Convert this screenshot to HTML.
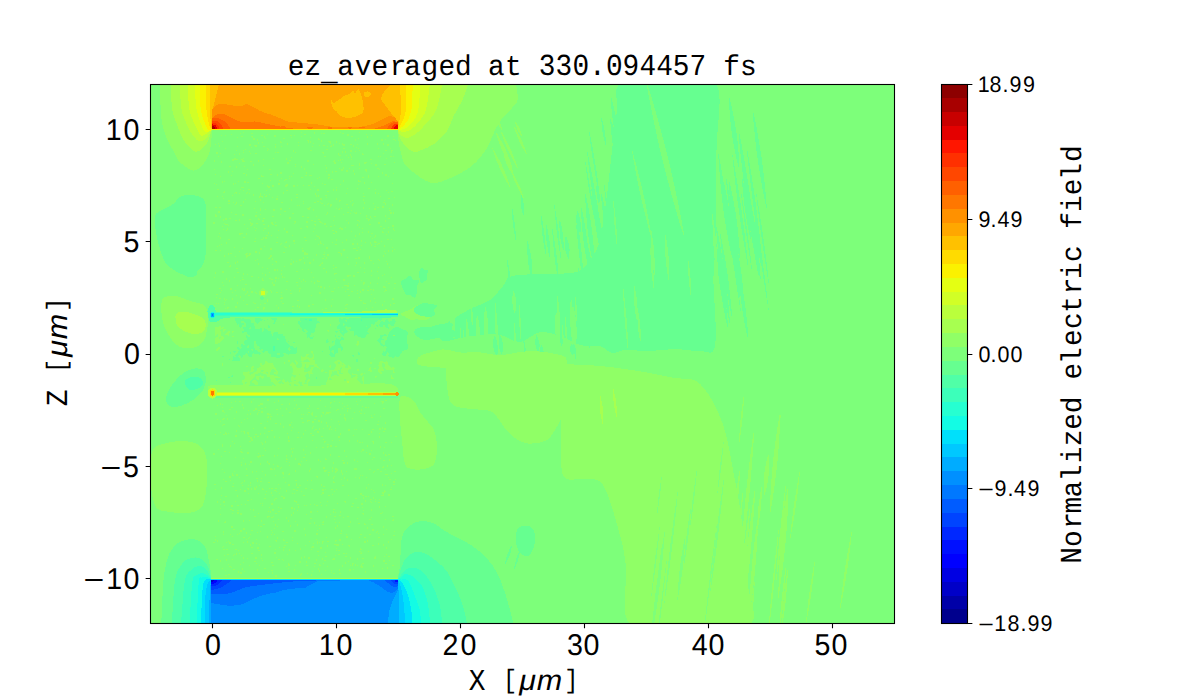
<!DOCTYPE html><html><head><meta charset="utf-8"><title>ez_averaged at 330.094457 fs</title><style>html,body{margin:0;padding:0;background:#fff;width:1200px;height:700px;overflow:hidden}svg{display:block}text{fill:#000;text-rendering:geometricPrecision}.s{font-family:"Liberation Sans",sans-serif}.m{font-family:"Liberation Mono",monospace}.i{font-family:"Liberation Sans",sans-serif;font-style:italic}</style></head><body><svg width="1200" height="700" viewBox="0 0 1200 700"><rect width="1200" height="700" fill="#fff"/><svg x="150" y="84" width="744" height="539" viewBox="0 0 744 539" overflow="hidden" shape-rendering="crispEdges"><rect width="744" height="539" fill="#7dff7a"/><path fill="#66ff90" d="M470.7 0C479.5 -4.3 504.1 0 520 0C535.9 0 558.2 -11 566 0C573.8 11 566.5 43.3 566.5 66C566.5 88.7 566.4 114.3 566 136C565.6 157.7 564.2 175 564 196C563.8 217 567.3 250.2 565 262C562.7 273.8 556.7 266.5 550 267C543.3 267.5 533.3 265 525 265C516.7 265 508.3 266.8 500 267C491.7 267.2 481.3 265.7 475 266C468.7 266.3 466.2 269.7 462 269C457.8 268.3 455.3 263.3 450 262C444.7 260.7 436.7 262.7 430 261C423.3 259.3 416.7 254.2 410 252C403.3 249.8 396.7 247 390 248C383.3 249 376.7 257.5 370 258C363.3 258.5 356.7 252.2 350 251C343.3 249.8 336.7 250.5 330 251C323.3 251.5 316.3 253 310 254C303.7 255 295.2 258.7 292 257C288.8 255.3 288.8 247.8 291 244C293.2 240.2 300.2 237.2 305 234C309.8 230.8 314.2 228 320 225C325.8 222 334.5 219.8 340 216C345.5 212.2 349.3 206 353 202C356.7 198 355 194 362 192C369 190 384.2 190.7 395 190C405.8 189.3 419.5 190.3 427 188C434.5 185.7 436.2 181.3 440 176C443.8 170.7 447.2 166.8 450 156C452.8 145.2 455 126 457 111C459 96 460.3 80.2 462 66C463.7 51.8 465.5 37 467 26C468.5 15 461.9 4.3 470.7 0Z"/><path fill="#66ff90" d="M266.6 203C266.1 204.9 267.1 206 266.8 207.8C266.6 209.6 266.2 213.3 265.1 213.8C264 214.3 261.5 211.3 260 210.8C258.5 210.4 257.2 211.5 256.3 210.8C255.3 210.2 255 208.3 254.3 207C253.6 205.7 252.5 204.7 252.1 203C251.6 201.3 250.8 198.4 251.4 197C252.1 195.6 254.6 195.5 256 194.6C257.4 193.7 258.8 191.2 260 191.4C261.2 191.7 261.8 195.1 263.3 195.9C264.9 196.7 269 195.1 269.5 196.3C270 197.5 267 201.1 266.6 203Z"/><path fill="#66ff90" d="M277.1 191C277 192.5 277.4 194 277 195.1C276.6 196.1 275.5 196.7 274.5 197.3C273.5 198 271.9 199.6 271.1 199.1C270.3 198.6 270.2 195.7 269.8 194.3C269.3 193 268.5 192.1 268.5 191C268.4 189.9 269 188.7 269.5 187.5C270 186.2 270.5 183.9 271.3 183.6C272.1 183.2 273.2 185 274.3 185.5C275.4 185.9 277.3 185.2 277.8 186.1C278.3 187 277.3 189.5 277.1 191Z"/><path fill="#7dff7a" d="M497 0C496 0.2 506.4 51.4 512.6 76.7C518.8 102 533 152.2 534 152C535 151.8 524.6 100.6 518.4 75.3C512.2 50 498 -0.2 497 0Z"/><path fill="#7dff7a" d="M482 66C481.5 66.1 487.2 96.3 490.5 111.3C493.9 126.3 501.5 156.1 502 156C502.5 155.9 496.8 125.7 493.5 110.7C490.1 95.7 482.5 65.9 482 66Z"/><path fill="#66ff90" d="M565.4 156C564.8 156.1 567.6 185.7 569.6 200.4C571.7 215.1 577.1 244.3 577.8 244.2C578.5 244.1 575.7 214.5 573.6 199.8C571.5 185.1 566.1 155.9 565.4 156Z"/><path fill="#66ff90" d="M606 107.7C605.7 107.7 609.6 139.5 611.8 155.4C614 171.2 619 202.9 619.3 202.8C619.6 202.8 615.8 171 613.5 155.1C611.3 139.3 606.3 107.7 606 107.7Z"/><path fill="#66ff90" d="M574.1 100C573.4 100.1 577.3 138.5 580 157.6C582.7 176.8 589.4 214.8 590.1 214.7C590.9 214.6 586.9 176.2 584.2 157C581.6 137.9 574.8 99.9 574.1 100Z"/><path fill="#66ff90" d="M579.1 13.2C578.4 13.3 580.2 37.4 581.8 49.4C583.5 61.3 588.4 85 589.2 84.9C590 84.8 588.2 60.7 586.5 48.7C584.8 36.8 579.9 13.1 579.1 13.2Z"/><path fill="#66ff90" d="M571.6 90.4C571.3 90.5 577.5 138 580.8 161.8C584.1 185.5 591.3 232.9 591.5 232.9C591.8 232.8 585.7 185.3 582.4 161.5C579 137.8 571.9 90.4 571.6 90.4Z"/><path fill="#66ff90" d="M589 190C588.5 190.1 590.4 212 591.9 222.9C593.4 233.8 597.6 255.4 598.2 255.4C598.7 255.3 596.8 233.3 595.3 222.5C593.8 211.6 589.6 189.9 589 190Z"/><path fill="#66ff90" d="M602.9 26.6C602.2 26.7 605.4 59.4 607.7 75.7C610 92 615.9 124.3 616.6 124.2C617.3 124.1 614.1 91.4 611.8 75.1C609.5 58.9 603.6 26.5 602.9 26.6Z"/><path fill="#66ff90" d="M592.1 93.6C591.6 93.6 593.4 114.6 594.9 125C596.3 135.5 600.3 156.2 600.9 156.1C601.4 156 599.5 135 598.1 124.6C596.6 114.2 592.6 93.5 592.1 93.6Z"/><path fill="#66ff90" d="M578.8 95.5C578 95.6 580.3 122.5 582.2 135.9C584.1 149.3 589.3 175.8 590 175.7C590.7 175.6 588.4 148.7 586.6 135.3C584.7 121.9 579.5 95.4 578.8 95.5Z"/><path fill="#66ff90" d="M596.6 62.8C596.2 62.9 600.2 97.3 602.6 114.5C605 131.6 610.6 165.8 611 165.8C611.4 165.7 607.4 131.3 605 114.1C602.6 97 597 62.7 596.6 62.8Z"/><path fill="#66ff90" d="M582.4 70.6C581.9 70.7 586.2 108.2 588.9 126.9C591.5 145.7 597.6 183 598.1 182.9C598.6 182.8 594.2 145.3 591.6 126.6C589 107.8 582.8 70.5 582.4 70.6Z"/><path fill="#66ff90" d="M582.7 143.9C581.9 144 584.3 172.7 586.3 186.9C588.3 201.1 593.8 229.4 594.6 229.3C595.4 229.2 592.9 200.5 591 186.3C589 172 583.4 143.8 582.7 143.9Z"/><path fill="#66ff90" d="M570.1 148.2C569.6 148.3 572.7 177.3 574.7 191.7C576.7 206.1 581.7 234.8 582.2 234.7C582.7 234.6 579.7 205.7 577.7 191.2C575.6 176.8 570.6 148.2 570.1 148.2Z"/><path fill="#66ff90" d="M590.5 104.6C590.3 104.6 593.8 133.2 595.8 147.5C597.8 161.8 602.3 190.3 602.5 190.2C602.8 190.2 599.3 161.6 597.3 147.3C595.3 133 590.8 104.5 590.5 104.6Z"/><path fill="#66ff90" d="M566.2 141.9C565.5 142 568.8 174.7 571 191C573.3 207.3 579.2 239.6 579.8 239.6C580.5 239.5 577.2 206.7 574.9 190.4C572.7 174.2 566.8 141.8 566.2 141.9Z"/><path fill="#66ff90" d="M605 136.6C604.6 136.6 605.9 152 606.9 159.7C608 167.3 611 182.5 611.4 182.4C611.8 182.4 610.6 167 609.5 159.3C608.4 151.7 605.4 136.5 605 136.6Z"/><path fill="#66ff90" d="M588.7 47C587.9 47.1 593.1 96.1 596.5 120.4C599.9 144.8 608.3 193.3 609.1 193.2C609.9 193.1 604.7 144.1 601.3 119.8C597.9 95.4 589.5 46.9 588.7 47Z"/><path fill="#66ff90" d="M600.2 94.5C599.9 94.5 605.4 138.8 608.5 160.9C611.6 183 618.4 227.1 618.7 227C619.1 227 613.5 182.7 610.4 160.6C607.3 138.5 600.5 94.4 600.2 94.5Z"/><path fill="#66ff90" d="M575.9 92.6C575.4 92.7 580 133.4 582.8 153.6C585.7 173.9 592.4 214.3 592.9 214.2C593.4 214.1 588.8 173.4 586 153.2C583.2 132.9 576.4 92.5 575.9 92.6Z"/><path fill="#66ff90" d="M568.2 68.7C567.7 68.8 570.4 94.1 572.2 106.7C574 119.3 578.3 144.5 578.8 144.4C579.2 144.3 576.5 119 574.7 106.4C573 93.8 568.6 68.6 568.2 68.7Z"/><path fill="#66ff90" d="M569.4 83C568.8 83.1 571.5 113 573.6 127.9C575.7 142.8 581.3 172.4 581.9 172.3C582.6 172.2 579.9 142.2 577.8 127.3C575.7 112.5 570.1 82.9 569.4 83Z"/><path fill="#66ff90" d="M597.8 104.5C597.1 104.6 600 135 602.1 150.1C604.2 165.2 609.8 195.2 610.5 195.1C611.2 195 608.4 164.6 606.3 149.5C604.2 134.4 598.5 104.4 597.8 104.5Z"/><path fill="#66ff90" d="M461.6 120.7C460.9 120.8 463.8 148.1 466 161.6C468.1 175.1 473.9 201.9 474.6 201.8C475.3 201.7 472.4 174.4 470.2 160.9C468.1 147.4 462.3 120.6 461.6 120.7Z"/><path fill="#66ff90" d="M436.2 154.9C435.7 154.9 437.1 169.9 438.3 177.3C439.5 184.7 442.8 199.3 443.3 199.2C443.8 199.1 442.4 184.2 441.2 176.8C440 169.4 436.7 154.8 436.2 154.9Z"/><path fill="#66ff90" d="M458.9 127.9C458.3 128 459.1 140 460 145.9C461 151.7 464 163.3 464.6 163.2C465.1 163.1 464.4 151.2 463.4 145.3C462.5 139.4 459.5 127.8 458.9 127.9Z"/><path fill="#66ff90" d="M437.1 66.7C436.6 66.8 440.1 94.2 442.3 107.9C444.4 121.5 449.7 148.7 450.2 148.6C450.6 148.5 447.2 121.1 445 107.4C442.8 93.8 437.5 66.6 437.1 66.7Z"/><path fill="#66ff90" d="M453 129.8C452.4 129.9 455.5 157.6 457.7 171.3C459.9 185.1 465.6 212.4 466.2 212.3C466.8 212.2 463.7 184.5 461.5 170.7C459.3 157 453.6 129.7 453 129.8Z"/><path fill="#66ff90" d="M435.2 77.4C434.9 77.5 437.5 96.7 439 106.3C440.5 115.9 444.1 134.9 444.4 134.9C444.7 134.8 442.2 115.6 440.6 106C439.1 96.5 435.5 77.4 435.2 77.4Z"/><path fill="#66ff90" d="M451.2 109.3C450.5 109.4 453.5 137.3 455.7 151.2C458 165 463.8 192.4 464.5 192.3C465.2 192.2 462.2 164.3 460 150.5C457.8 136.6 452 109.2 451.2 109.3Z"/><path fill="#66ff90" d="M438.8 45.2C438.5 45.2 441.7 69 443.6 80.9C445.5 92.8 449.9 116.4 450.2 116.3C450.5 116.3 447.4 92.5 445.5 80.6C443.6 68.7 439.2 45.1 438.8 45.2Z"/><path fill="#66ff90" d="M441.7 103.7C441.1 103.8 441.8 116.3 442.8 122.5C443.8 128.6 447 140.7 447.6 140.6C448.3 140.5 447.6 128 446.6 121.9C445.6 115.7 442.4 103.6 441.7 103.7Z"/><path fill="#66ff90" d="M460.7 11.7C460.1 11.8 462.1 32.8 463.8 43.2C465.4 53.6 470 74.1 470.7 74C471.3 73.9 469.3 52.9 467.6 42.6C466 32.2 461.3 11.6 460.7 11.7Z"/><path fill="#66ff90" d="M464.3 52.6C463.6 52.7 464.2 65.2 465.2 71.4C466.1 77.5 469.5 89.6 470.1 89.5C470.8 89.4 470.2 76.9 469.2 70.7C468.3 64.6 464.9 52.5 464.3 52.6Z"/><path fill="#66ff90" d="M462.3 39.6C461.7 39.7 463.5 58.5 464.9 67.8C466.4 77.1 470.6 95.6 471.2 95.5C471.8 95.4 470 76.6 468.6 67.2C467.1 57.9 462.9 39.5 462.3 39.6Z"/><path fill="#66ff90" d="M460.4 34.6C459.7 34.7 462.2 58.8 464.1 70.7C466.1 82.6 471.2 106.3 471.8 106.2C472.5 106.1 469.9 82 468 70.1C466.1 58.1 461 34.5 460.4 34.6Z"/><path fill="#66ff90" d="M451.5 34C451.1 34.1 451.8 43.3 452.5 47.9C453.3 52.5 455.5 61.6 455.9 61.5C456.3 61.4 455.6 52.1 454.8 47.6C454.1 43 451.9 33.9 451.5 34Z"/><path fill="#66ff90" d="M446.8 100.3C446.4 100.3 446.3 107.2 446.7 110.7C447.1 114.1 448.8 120.8 449.2 120.7C449.7 120.7 449.7 113.8 449.3 110.3C448.9 106.9 447.2 100.2 446.8 100.3Z"/><path fill="#66ff90" d="M371.1 110.2C370.6 110.3 370.4 117.5 370.8 121.1C371.3 124.6 373.1 131.7 373.6 131.6C374.1 131.5 374.3 124.3 373.9 120.7C373.4 117.1 371.6 110.1 371.1 110.2Z"/><path fill="#66ff90" d="M438.6 136.6C438.1 136.6 438.4 146.1 439 150.8C439.6 155.4 441.5 164.7 441.9 164.6C442.3 164.6 442 155.1 441.5 150.5C440.9 145.8 439 136.5 438.6 136.6Z"/><path fill="#66ff90" d="M430.2 185.4C429.8 185.4 432.3 212 433.8 225.3C435.4 238.5 439.4 265 439.7 264.9C440.1 264.9 437.6 238.3 436.1 225C434.5 211.7 430.5 185.3 430.2 185.4Z"/><path fill="#66ff90" d="M357.2 174.9C356.7 175 358.8 200.3 360.3 212.9C361.8 225.5 365.8 250.6 366.3 250.5C366.7 250.5 364.7 225.1 363.1 212.5C361.6 199.9 357.7 174.9 357.2 174.9Z"/><path fill="#66ff90" d="M444.1 178.3C443.5 178.4 444.4 197.4 445.5 206.8C446.6 216.3 450.2 234.9 450.9 234.9C451.6 234.8 450.7 215.8 449.6 206.3C448.4 196.9 444.8 178.2 444.1 178.3Z"/><path fill="#66ff90" d="M361.7 121.8C361.4 121.8 362.2 134.1 363 140.2C363.7 146.3 365.8 158.5 366.1 158.4C366.4 158.4 365.6 146.1 364.8 140C364.1 133.9 362 121.8 361.7 121.8Z"/><path fill="#66ff90" d="M454 98.9C453.7 98.9 455.6 119.1 456.8 129.2C458 139.2 461 159.3 461.2 159.2C461.5 159.2 459.7 139 458.5 129C457.3 118.9 454.3 98.9 454 98.9Z"/><path fill="#66ff90" d="M409.7 135.7C409.2 135.8 409.4 146.2 410 151.3C410.6 156.5 412.9 166.7 413.4 166.6C413.9 166.5 413.7 156.1 413 151C412.4 145.8 410.2 135.7 409.7 135.7Z"/><path fill="#66ff90" d="M425.6 126.1C425.3 126.2 427.2 147.6 428.4 158.3C429.7 169.1 433 190.4 433.3 190.3C433.6 190.3 431.7 168.8 430.4 158.1C429.1 147.4 425.9 126.1 425.6 126.1Z"/><path fill="#66ff90" d="M390.9 129.7C390.6 129.7 391.6 144 392.4 151.2C393.3 158.3 395.7 172.4 396.1 172.4C396.4 172.3 395.4 158 394.5 150.9C393.7 143.8 391.3 129.6 390.9 129.7Z"/><path fill="#66ff90" d="M454.5 174.7C454.1 174.7 454.3 183.6 454.8 188C455.4 192.4 457.3 201.1 457.7 201.1C458.1 201 458 192.1 457.4 187.7C456.9 183.3 455 174.6 454.5 174.7Z"/><path fill="#66ff90" d="M395.9 138.9C395.4 138.9 395.8 151.2 396.6 157.3C397.3 163.4 399.8 175.5 400.2 175.4C400.7 175.4 400.3 163.1 399.5 157C398.8 150.9 396.4 138.8 395.9 138.9Z"/><path fill="#66ff90" d="M454.8 132.3C454.3 132.4 455.5 152.2 456.7 162C457.9 171.9 461.3 191.4 461.9 191.3C462.4 191.3 461.2 171.5 460 161.6C458.8 151.8 455.4 132.3 454.8 132.3Z"/><path fill="#66ff90" d="M442.7 101.9C442 101.9 443.1 123.7 444.4 134.5C445.7 145.2 449.8 166.6 450.5 166.5C451.2 166.5 450 144.7 448.7 133.9C447.4 123.2 443.4 101.8 442.7 101.9Z"/><path fill="#66ff90" d="M431.3 123.3C430.6 123.4 431.9 143.7 433.1 153.7C434.3 163.8 437.9 183.7 438.5 183.7C439.1 183.6 437.9 163.3 436.7 153.3C435.5 143.2 431.9 123.2 431.3 123.3Z"/><path fill="#66ff90" d="M435.5 110C434.7 110 436.4 136.4 438 149.4C439.6 162.5 444.1 188.5 444.9 188.4C445.6 188.3 443.9 162 442.3 148.9C440.8 135.8 436.2 109.9 435.5 110Z"/><path fill="#66ff90" d="M415.8 152.4C415.1 152.5 414.5 160.1 414.9 163.9C415.4 167.6 417.7 174.9 418.5 174.8C419.2 174.7 419.8 167 419.4 163.3C418.9 159.6 416.5 152.3 415.8 152.4Z"/><path fill="#66ff90" d="M447.6 156.5C447.2 156.5 449.2 178.5 450.5 189.4C451.8 200.4 455.1 222.2 455.4 222.1C455.8 222.1 453.8 200.1 452.5 189.2C451.2 178.2 447.9 156.4 447.6 156.5Z"/><path fill="#66ff90" d="M404.2 119.4C403.9 119.4 405.6 138.1 406.7 147.4C407.8 156.7 410.6 175.2 410.9 175.2C411.2 175.1 409.6 156.5 408.5 147.2C407.3 137.9 404.5 119.4 404.2 119.4Z"/><path fill="#66ff90" d="M453 139.9C452.7 140 453.9 155.6 454.9 163.4C455.8 171.2 458.3 186.6 458.6 186.6C458.9 186.6 457.6 170.9 456.7 163.2C455.7 155.4 453.3 139.9 453 139.9Z"/><path fill="#66ff90" d="M437.7 173.6C437.3 173.6 438.9 193 440 202.6C441.2 212.3 444.2 231.4 444.6 231.4C445 231.3 443.4 212 442.2 202.4C441.1 192.7 438 173.6 437.7 173.6Z"/><path fill="#66ff90" d="M445.2 109.8C444.6 109.9 446.3 133.2 447.7 144.9C449.1 156.5 453 179.5 453.5 179.5C454.1 179.4 452.3 156.1 450.9 144.5C449.6 132.9 445.7 109.8 445.2 109.8Z"/><path fill="#66ff90" d="M402.3 144.8C401.9 144.8 403.5 164.1 404.6 173.8C405.8 183.4 408.8 202.5 409.2 202.5C409.6 202.4 408 183.1 406.9 173.5C405.7 163.9 402.6 144.7 402.3 144.8Z"/><path fill="#66ff90" d="M449.6 136C448.9 136.1 450.5 160.8 452 173C453.5 185.3 457.7 209.6 458.4 209.6C459 209.5 457.4 184.8 456 172.6C454.5 160.3 450.2 135.9 449.6 136Z"/><path fill="#66ff90" d="M377.5 157.4C376.9 157.5 377.2 170.5 378 176.9C378.7 183.4 381.5 196.1 382.2 196C382.8 195.9 382.5 182.9 381.7 176.5C380.9 170 378.1 157.3 377.5 157.4Z"/><path fill="#66ff90" d="M426.2 139.5C425.9 139.5 428.3 164.1 429.8 176.4C431.3 188.7 434.8 213.2 435.1 213.2C435.3 213.2 433 188.5 431.5 176.2C430 163.9 426.5 139.4 426.2 139.5Z"/><path fill="#66ff90" d="M427.5 127.2C426.8 127.2 426.5 134.7 426.9 138.4C427.4 142.1 429.5 149.3 430.1 149.3C430.7 149.2 431.1 141.7 430.6 138C430.2 134.3 428.1 127.1 427.5 127.2Z"/><path fill="#66ff90" d="M427.8 180.9C427.4 181 428.8 199.7 429.9 209C431 218.4 434.1 236.9 434.5 236.8C434.9 236.8 433.5 218.1 432.4 208.7C431.3 199.4 428.2 180.9 427.8 180.9Z"/><path fill="#66ff90" d="M459 107C458.4 107.1 458.1 114.9 458.6 118.8C459 122.7 461.2 130.2 461.8 130.1C462.4 130.1 462.7 122.2 462.2 118.4C461.8 114.5 459.6 106.9 459 107Z"/><path fill="#7dff7a" d="M345.1 217.3C344.7 217.3 344.7 234 345.1 242.4C345.5 250.7 347.2 267.3 347.6 267.3C348 267.3 348 250.6 347.6 242.2C347.1 233.9 345.5 217.2 345.1 217.3Z"/><path fill="#7dff7a" d="M415 230C414.7 230 414.6 239.4 414.9 244.1C415.1 248.8 416.1 258.2 416.4 258.1C416.7 258.1 416.8 248.7 416.6 244C416.3 239.3 415.3 230 415 230Z"/><path fill="#7dff7a" d="M328.1 244.6C327.8 244.6 327.6 255 327.9 260.2C328.1 265.4 329.3 275.8 329.7 275.8C330 275.8 330.1 265.3 329.9 260.1C329.6 254.9 328.4 244.6 328.1 244.6Z"/><path fill="#7dff7a" d="M335.2 241.5C334.6 241.5 333.7 248.8 333.9 252.4C334 256 335.7 263.1 336.3 263.1C336.9 263 337.9 255.8 337.7 252.2C337.5 248.6 335.9 241.4 335.2 241.5Z"/><path fill="#7dff7a" d="M313.2 244.3C312.9 244.3 313 256.4 313.3 262.4C313.6 268.4 314.7 280.5 315 280.5C315.3 280.5 315.2 268.4 314.9 262.3C314.6 256.3 313.5 244.2 313.2 244.3Z"/><path fill="#7dff7a" d="M420.7 217.1C420.2 217.1 419.9 231.9 420.3 239.3C420.6 246.7 422.4 261.4 422.9 261.4C423.4 261.4 423.7 246.5 423.3 239.2C423 231.8 421.2 217.1 420.7 217.1Z"/><path fill="#7dff7a" d="M307.5 205.8C307.2 205.8 306.9 212.8 307 216.3C307.2 219.8 308.2 226.8 308.5 226.7C308.9 226.7 309.2 219.7 309 216.2C308.8 212.7 307.8 205.8 307.5 205.8Z"/><path fill="#7dff7a" d="M302.1 203.1C301.8 203.1 302.1 220.8 302.6 229.6C303 238.5 304.5 256.1 304.8 256.1C305.1 256 304.8 238.4 304.3 229.5C303.9 220.7 302.4 203.1 302.1 203.1Z"/><path fill="#7dff7a" d="M363.6 206.3C363 206.4 362.1 214.3 362.3 218.2C362.5 222.2 364.2 230 364.8 229.9C365.4 229.9 366.3 222 366.1 218C365.9 214.1 364.3 206.3 363.6 206.3Z"/><path fill="#7dff7a" d="M421.6 222.1C420.9 222.2 419.7 227.3 419.8 229.9C419.9 232.4 421.7 237.4 422.4 237.4C423.2 237.3 424.4 232.2 424.3 229.6C424.1 227.1 422.4 222.1 421.6 222.1Z"/><path fill="#7dff7a" d="M301.4 218.5C300.8 218.6 300 230.8 300.3 236.9C300.6 243 302.6 255.1 303.3 255.1C304 255.1 304.8 242.8 304.4 236.7C304.1 230.6 302.1 218.5 301.4 218.5Z"/><path fill="#7dff7a" d="M406.1 228.4C405.5 228.5 404.6 238.8 404.9 244C405.2 249.2 407 259.4 407.7 259.4C408.3 259.3 409.2 249 408.9 243.8C408.6 238.6 406.8 228.4 406.1 228.4Z"/><path fill="#7dff7a" d="M412.3 240.2C412 240.3 412.2 254.8 412.5 262.1C412.9 269.4 414.2 284 414.5 283.9C414.8 283.9 414.7 269.3 414.3 262C413.9 254.8 412.6 240.2 412.3 240.2Z"/><path fill="#7dff7a" d="M335.3 222.9C334.6 222.9 333.9 234.7 334.2 240.6C334.5 246.4 336.4 258.1 337.1 258.1C337.7 258 338.5 246.2 338.2 240.4C337.9 234.5 336 222.8 335.3 222.9Z"/><path fill="#7dff7a" d="M327.1 230.9C326.5 230.9 325.7 241 325.9 246C326.2 251 328 260.9 328.6 260.9C329.2 260.8 330 250.8 329.8 245.8C329.5 240.8 327.7 230.9 327.1 230.9Z"/><path fill="#7dff7a" d="M321.4 222.4C321.1 222.5 320.7 228.9 320.8 232.1C321 235.3 322 241.6 322.4 241.6C322.7 241.6 323.1 235.2 323 232C322.8 228.8 321.8 222.4 321.4 222.4Z"/><path fill="#7dff7a" d="M421.2 215.2C420.7 215.2 420.6 232.2 421 240.7C421.4 249.1 423.3 266 423.8 265.9C424.3 265.9 424.5 249 424.1 240.5C423.6 232.1 421.8 215.2 421.2 215.2Z"/><path fill="#7dff7a" d="M300.3 236.7C299.6 236.7 298.6 242.5 298.7 245.3C298.9 248.2 300.5 253.8 301.1 253.8C301.8 253.7 302.8 248 302.7 245.1C302.5 242.3 300.9 236.7 300.3 236.7Z"/><path fill="#7dff7a" d="M296.2 231.3C295.8 231.4 295.3 238.6 295.5 242.2C295.6 245.8 296.8 253 297.3 253C297.7 252.9 298.2 245.7 298 242.1C297.8 238.5 296.6 231.3 296.2 231.3Z"/><path fill="#7dff7a" d="M423.6 222.9C423 222.9 422.5 236.7 422.8 243.6C423.1 250.5 425.1 264.2 425.7 264.2C426.3 264.1 426.9 250.3 426.5 243.4C426.2 236.6 424.2 222.8 423.6 222.9Z"/><path fill="#7dff7a" d="M309.8 238.7C309.5 238.8 309.7 256 310.1 264.6C310.6 273.2 312.1 290.3 312.4 290.3C312.7 290.3 312.5 273.1 312.1 264.5C311.7 255.9 310.2 238.7 309.8 238.7Z"/><path fill="#7dff7a" d="M368.7 213.8C368.5 213.8 368.7 228.7 369.1 236.1C369.4 243.5 370.7 258.4 371 258.4C371.2 258.4 371 243.5 370.6 236C370.3 228.6 369 213.7 368.7 213.8Z"/><path fill="#7dff7a" d="M364.2 236.7C363.9 236.7 364 251.5 364.4 258.9C364.8 266.3 366.1 281.1 366.4 281.1C366.7 281.1 366.6 266.2 366.2 258.8C365.8 251.4 364.5 236.7 364.2 236.7Z"/><path fill="#7dff7a" d="M407.4 211.7C406.9 211.7 406.7 227.5 407.1 235.4C407.5 243.3 409.3 259 409.8 259C410.3 259 410.5 243.2 410.1 235.3C409.7 227.4 407.9 211.7 407.4 211.7Z"/><path fill="#7dff7a" d="M316.7 234C316.1 234.1 315.7 249.9 316.1 257.8C316.5 265.7 318.5 281.4 319.1 281.3C319.7 281.3 320.1 265.5 319.7 257.6C319.3 249.7 317.3 234 316.7 234Z"/><path fill="#7dff7a" d="M425.3 212.5C424.9 212.5 424.7 220.7 424.9 224.8C425.1 228.9 426.2 237 426.5 237C426.8 236.9 427 228.8 426.8 224.7C426.6 220.6 425.6 212.5 425.3 212.5Z"/><path fill="#7dff7a" d="M500.5 163.9C500.2 164 500.6 177.8 501.1 184.7C501.7 191.6 503.5 205.4 503.8 205.3C504.2 205.3 503.8 191.4 503.2 184.5C502.7 177.6 500.9 163.9 500.5 163.9Z"/><path fill="#7dff7a" d="M463.4 116.5C463.1 116.5 463.9 132.7 464.5 140.7C465.1 148.8 467 164.8 467.3 164.8C467.6 164.8 466.9 148.6 466.2 140.6C465.6 132.5 463.7 116.5 463.4 116.5Z"/><path fill="#7dff7a" d="M488 227.5C487.6 227.5 487.6 237.8 488 242.9C488.4 248.1 490 258.2 490.4 258.2C490.8 258.2 490.8 247.9 490.4 242.7C490 237.6 488.4 227.4 488 227.5Z"/><path fill="#7dff7a" d="M515.2 149.8C514.7 149.8 514.9 166 515.6 174C516.2 182 518.6 198.1 519.1 198C519.6 198 519.4 181.8 518.7 173.8C518.1 165.7 515.7 149.7 515.2 149.8Z"/><path fill="#7dff7a" d="M472.9 201.5C472.6 201.5 473.9 225 474.8 236.8C475.7 248.5 478.3 271.9 478.6 271.9C478.9 271.9 477.7 248.3 476.7 236.6C475.8 224.9 473.3 201.5 472.9 201.5Z"/><path fill="#7dff7a" d="M563.6 191.1C563.2 191.1 563.6 207.9 564.3 216.2C564.9 224.6 567.2 241.2 567.6 241.2C568 241.1 567.6 224.4 566.9 216C566.2 207.7 564 191.1 563.6 191.1Z"/><path fill="#7dff7a" d="M484.3 201.5C483.8 201.5 483.8 213.8 484.3 219.8C484.8 225.9 486.7 238 487.3 238C487.8 237.9 487.8 225.7 487.3 219.6C486.8 213.5 484.8 201.4 484.3 201.5Z"/><path fill="#7dff7a" d="M500.9 145C500.4 145 500.6 160.5 501.2 168.2C501.9 175.9 504.1 191.3 504.6 191.2C505.1 191.2 504.8 175.7 504.2 168C503.6 160.3 501.4 145 500.9 145Z"/><path fill="#7dff7a" d="M538 174.1C537.7 174.2 538.1 187.9 538.7 194.8C539.2 201.6 541 215.3 541.3 215.2C541.6 215.2 541.2 201.5 540.6 194.6C540.1 187.8 538.3 174.1 538 174.1Z"/><path fill="#7dff7a" d="M562.4 129.5C561.9 129.5 562.9 154 563.8 166.3C564.8 178.5 567.8 202.8 568.2 202.8C568.7 202.8 567.7 178.2 566.8 166C565.8 153.8 562.9 129.4 562.4 129.5Z"/><path fill="#66ff90" d="M344.7 251.2C344 251.3 343.5 258.6 343.8 262.1C344.2 265.7 346.2 272.7 346.8 272.6C347.5 272.6 348.1 265.3 347.7 261.7C347.3 258.2 345.3 251.2 344.7 251.2Z"/><path fill="#66ff90" d="M424.5 260.9C424.2 260.9 424 266.2 424.3 268.8C424.6 271.4 425.8 276.5 426.1 276.5C426.5 276.5 426.6 271.2 426.4 268.6C426.1 266 424.9 260.8 424.5 260.9Z"/><path fill="#66ff90" d="M373.6 254.4C373.3 254.4 373.5 262.2 373.9 266C374.3 269.9 375.7 277.5 376 277.5C376.3 277.5 376.1 269.7 375.7 265.8C375.3 262 374 254.3 373.6 254.4Z"/><path fill="#66ff90" d="M391.1 259.8C390.4 259.9 389.9 269.5 390.4 274.2C390.8 278.9 393.2 288.2 393.9 288.1C394.6 288.1 395.1 278.5 394.7 273.8C394.2 269 391.8 259.7 391.1 259.8Z"/><path fill="#66ff90" d="M421.5 260.4C420.8 260.5 419.7 264.3 419.9 266.1C420.1 267.9 421.9 271.5 422.6 271.4C423.3 271.3 424.3 267.5 424.1 265.7C423.9 263.9 422.2 260.3 421.5 260.4Z"/><path fill="#66ff90" d="M349.8 250.8C349.1 250.9 348.3 257.4 348.6 260.6C348.9 263.8 351 270.1 351.8 270C352.5 269.9 353.3 263.4 353 260.2C352.6 257 350.6 250.7 349.8 250.8Z"/><path fill="#66ff90" d="M386.6 251.3C385.9 251.4 385 257.3 385.3 260.2C385.6 263.2 387.6 268.8 388.3 268.8C389 268.7 389.8 262.7 389.5 259.8C389.2 256.9 387.3 251.2 386.6 251.3Z"/><path fill="#66ff90" d="M410.5 248.1C410 248.1 409.7 253.2 409.9 255.7C410.2 258.2 411.5 263.1 412 263C412.4 263 412.8 257.9 412.5 255.4C412.3 252.9 410.9 248 410.5 248.1Z"/><path fill="#66ff90" d="M343.8 254.5C343.3 254.5 342.7 259.4 343 261.8C343.2 264.3 344.8 269 345.3 268.9C345.8 268.9 346.4 263.9 346.2 261.5C345.9 259.1 344.4 254.4 343.8 254.5Z"/><path fill="#66ff90" d="M423 258.7C422.6 258.8 422.3 262.8 422.5 264.8C422.7 266.8 423.8 270.8 424.2 270.7C424.5 270.7 424.8 266.6 424.6 264.6C424.4 262.6 423.3 258.7 423 258.7Z"/><path fill="#90ff66" d="M298 278C301.8 272.5 311.3 269.2 320 268C328.7 266.8 340 271.2 350 271C360 270.8 370 267 380 267C390 267 403.8 269.2 410 271C416.2 272.8 416 273 417 278C418 283 416.5 293 416 301C415.5 309 415.8 318.5 414 326C412.2 333.5 408.2 340.8 405 346C401.8 351.2 400 354.8 395 357C390 359.2 381.2 360.5 375 359C368.8 357.5 363.5 353.2 358 348C352.5 342.8 348.3 331.8 342 328C335.7 324.2 326.7 326.3 320 325C313.3 323.7 305.8 324 302 320C298.2 316 297.7 308 297 301C296.3 294 294.2 283.5 298 278Z"/><path fill="#90ff66" d="M412 284C415.2 277.3 423.7 281.3 430 281C436.3 280.7 442.5 281.3 450 282C457.5 282.7 466.7 283.8 475 285C483.3 286.2 491.7 287.5 500 289C508.3 290.5 517.3 292.7 525 294C532.7 295.3 539.8 293.3 546 297C552.2 300.7 557.2 307.7 562 316C566.8 324.3 571.5 335.3 575 347C578.5 358.7 580.5 373.2 583 386C585.5 398.8 588 411.2 590 424C592 436.8 593.7 450 595 463C596.3 476 597.2 489.2 598 502C598.8 514.8 609.7 533.7 600 540C590.3 546.3 560 540 540 540C520 540 490.7 549.7 480 540C469.3 530.3 478 498 476 482C474 466 471.8 457.5 468 444C464.2 430.5 458.5 409.2 453 401C447.5 392.8 441.5 396.3 435 395C428.5 393.7 418 398.7 414 393C410 387.3 411.5 373 411 361C410.5 349 410.8 333.8 411 321C411.2 308.2 408.8 290.7 412 284Z"/><path fill="#90ff66" d="M607.7 435.2C607.3 435.2 604 461.3 602.6 474.4C601.3 487.6 599.5 513.8 599.8 513.9C600.2 513.9 603.6 487.8 604.9 474.7C606.2 461.6 608.1 435.3 607.7 435.2Z"/><path fill="#90ff66" d="M604 346.8C603.4 346.7 598 388.7 595.9 409.7C593.8 430.7 590.7 472.9 591.3 473C591.9 473 597.3 431.1 599.4 410.1C601.5 389 604.6 346.9 604 346.8Z"/><path fill="#90ff66" d="M607.6 446.1C607.1 446 603 476.6 601.5 491.9C599.9 507.2 597.9 538 598.4 538.1C598.9 538.1 603 507.6 604.5 492.2C606.1 476.9 608.1 446.1 607.6 446.1Z"/><path fill="#90ff66" d="M605.2 403.6C604.6 403.6 598.7 449.6 596.4 472.7C594.1 495.8 590.7 542.1 591.3 542.2C592 542.3 597.9 496.2 600.2 473.1C602.5 450 605.8 403.7 605.2 403.6Z"/><path fill="#90ff66" d="M630.5 330.9C630.1 330.8 626.2 360.9 624.7 376C623.2 391 621 421.3 621.5 421.3C621.9 421.3 625.8 391.3 627.3 376.2C628.8 361.1 631 330.9 630.5 330.9Z"/><path fill="#90ff66" d="M589.9 385.1C589.5 385 587.2 400.8 586.4 408.7C585.6 416.6 584.8 432.4 585.1 432.5C585.5 432.5 587.8 416.8 588.6 408.9C589.4 401 590.3 385.1 589.9 385.1Z"/><path fill="#90ff66" d="M628.9 443.2C628.6 443.2 624.4 479.8 622.6 498.1C620.7 516.4 617.7 553.1 617.9 553.1C618.2 553.1 622.5 516.6 624.3 498.3C626.1 479.9 629.2 443.3 628.9 443.2Z"/><path fill="#90ff66" d="M594 310.3C593.7 310.3 591.5 326.8 590.6 335.1C589.8 343.4 588.7 360 589 360.1C589.3 360.1 591.6 343.6 592.4 335.3C593.3 327 594.3 310.3 594 310.3Z"/><path fill="#90ff66" d="M637.8 484.8C637.4 484.8 634.7 504.8 633.7 514.9C632.7 525 631.4 545.2 631.8 545.2C632.1 545.3 634.9 525.2 635.9 515.1C636.9 505 638.2 484.8 637.8 484.8Z"/><path fill="#90ff66" d="M637.8 420C637.4 420 633.8 445.5 632.6 458.3C631.3 471.1 629.7 496.8 630.2 496.9C630.6 496.9 634.2 471.4 635.4 458.6C636.7 445.8 638.3 420 637.8 420Z"/><path fill="#90ff66" d="M600 422.7C599.5 422.7 594.7 460.1 592.8 478.8C591 497.6 588.2 535.2 588.7 535.2C589.2 535.3 594 497.9 595.9 479.1C597.7 460.4 600.5 422.8 600 422.7Z"/><path fill="#90ff66" d="M630.1 328.6C629.4 328.6 624.6 361.9 622.9 378.6C621.2 395.3 619.4 428.9 620.1 429C620.8 429.1 625.7 395.8 627.3 379C629 362.3 630.9 328.7 630.1 328.6Z"/><path fill="#90ff66" d="M593.2 405C592.8 405 588.5 439.2 586.8 456.4C585.1 473.6 582.5 508 582.9 508C583.3 508.1 587.6 473.8 589.3 456.6C591 439.5 593.6 405 593.2 405Z"/><path fill="#90ff66" d="M638.1 403.1C637.4 403 633 432.2 631.6 446.8C630.1 461.5 628.6 490.9 629.3 491C630 491 634.3 461.9 635.8 447.2C637.2 432.6 638.8 403.2 638.1 403.1Z"/><path fill="#90ff66" d="M585.9 479.8C585.4 479.7 582.8 497.3 581.9 506.1C581 514.9 580.1 532.6 580.6 532.7C581 532.7 583.7 515.2 584.5 506.4C585.4 497.5 586.3 479.8 585.9 479.8Z"/><path fill="#90ff66" d="M611.9 401.3C611.5 401.3 609.2 415.8 608.4 423.2C607.7 430.5 607.1 445.2 607.5 445.3C607.9 445.3 610.2 430.7 610.9 423.4C611.6 416.1 612.3 401.4 611.9 401.3Z"/><path fill="#90ff66" d="M604.6 497.2C604.1 497.2 598.6 541 596.4 562.9C594.2 584.9 590.9 628.9 591.5 628.9C592 629 597.5 585.2 599.7 563.2C601.9 541.3 605.2 497.3 604.6 497.2Z"/><path fill="#90ff66" d="M636.3 478.7C636 478.7 632.8 504.5 631.5 517.4C630.2 530.4 628.3 556.3 628.6 556.3C628.9 556.3 632.1 530.5 633.4 517.6C634.7 504.7 636.6 478.8 636.3 478.7Z"/><path fill="#90ff66" d="M618.4 370.6C617.7 370.5 614.8 384 614.1 390.9C613.5 397.7 613.6 411.5 614.3 411.6C615 411.6 617.9 398.1 618.6 391.3C619.2 384.5 619.1 370.7 618.4 370.6Z"/><path fill="#90ff66" d="M638.3 413.4C637.7 413.3 633.2 447.1 631.5 464.1C629.8 481.1 627.5 515.1 628.1 515.2C628.7 515.2 633.3 481.4 635 464.4C636.7 447.5 638.9 413.4 638.3 413.4Z"/><path fill="#90ff66" d="M636 399.5C635.6 399.5 631.6 432.2 630 448.5C628.3 464.9 625.8 497.8 626.1 497.8C626.5 497.8 630.5 465.1 632.1 448.8C633.8 432.4 636.3 399.5 636 399.5Z"/><path fill="#90ff66" d="M598.3 410.4C598.1 410.4 595.4 431.3 594.4 441.8C593.3 452.3 591.8 473.3 592 473.3C592.3 473.4 594.9 452.4 596 442C597 431.5 598.6 410.4 598.3 410.4Z"/><path fill="#90ff66" d="M702 446C701.6 445.9 696.8 472.5 694.8 485.8C692.8 499.1 689.6 525.9 690 526C690.4 526.1 695.2 499.5 697.2 486.2C699.2 472.9 702.4 446.1 702 446Z"/><path fill="#90ff66" d="M665 476C664.7 476 661 497.2 659.5 507.9C658 518.5 655.7 540 656 540C656.3 540 660 518.8 661.5 508.1C663 497.5 665.3 476 665 476Z"/><path fill="#90ff66" d="M650 386C649.7 386 645.7 409.2 644 420.9C642.3 432.5 639.7 456 640 456C640.3 456 644.3 432.8 646 421.1C647.7 409.5 650.3 386 650 386Z"/><path fill="#7dff7a" d="M535 453.5C534.5 453.4 531.1 474 529.8 484.4C528.6 494.8 527.1 515.6 527.5 515.7C528 515.7 531.5 495.1 532.7 484.7C534 474.4 535.5 453.6 535 453.5Z"/><path fill="#7dff7a" d="M566.7 440.9C566.5 440.9 561.6 478 559.4 496.6C557.2 515.1 553.1 552.3 553.4 552.3C553.6 552.4 558.5 515.3 560.7 496.7C563 478.1 567 441 566.7 440.9Z"/><path fill="#7dff7a" d="M517 474.2C516.8 474.2 511.8 511.6 509.6 530.4C507.3 549.2 503.3 586.7 503.5 586.8C503.7 586.8 508.7 549.3 510.9 530.6C513.2 511.8 517.2 474.2 517 474.2Z"/><path fill="#7dff7a" d="M573.6 358C573.3 358 570.8 374.9 569.8 383.3C568.8 391.8 567.2 408.8 567.5 408.8C567.7 408.9 570.2 392 571.2 383.5C572.2 375 573.8 358 573.6 358Z"/><path fill="#7dff7a" d="M527.9 406.5C527.6 406.4 522.4 444 520.1 462.8C517.9 481.6 514 519.3 514.4 519.3C514.7 519.4 519.9 481.8 522.2 463C524.4 444.2 528.3 406.5 527.9 406.5Z"/><path fill="#7dff7a" d="M511.8 391.4C511.6 391.4 509.5 404.8 508.7 411.6C507.9 418.3 506.7 431.9 506.9 431.9C507.1 431.9 509.1 418.5 510 411.7C510.8 405 512 391.4 511.8 391.4Z"/><path fill="#7dff7a" d="M541 422.6C540.6 422.5 537.6 442.5 536.4 452.5C535.2 462.5 533.4 482.5 533.8 482.6C534.1 482.6 537.1 462.7 538.3 452.7C539.5 442.7 541.3 422.6 541 422.6Z"/><path fill="#7dff7a" d="M509.8 441.6C509.6 441.6 506.2 465.4 504.8 477.3C503.4 489.2 501 513 501.3 513.1C501.5 513.1 504.9 489.3 506.3 477.4C507.7 465.5 510.1 441.7 509.8 441.6Z"/><path fill="#7dff7a" d="M547.3 383.1C547 383.1 544 404.1 542.7 414.7C541.5 425.2 539.4 446.4 539.6 446.5C539.9 446.5 542.9 425.4 544.2 414.9C545.4 404.3 547.5 383.1 547.3 383.1Z"/><path fill="#7dff7a" d="M574.2 392.3C573.8 392.3 568.5 431 566.2 450.4C563.9 469.8 559.9 508.7 560.2 508.8C560.5 508.8 565.9 470.1 568.2 450.7C570.5 431.2 574.5 392.4 574.2 392.3Z"/><path fill="#7dff7a" d="M514.7 447.7C514.3 447.6 509.3 480.4 507.4 496.8C505.4 513.3 502.4 546.3 502.9 546.4C503.4 546.4 508.3 513.6 510.3 497.2C512.3 480.7 515.2 447.7 514.7 447.7Z"/><path fill="#7dff7a" d="M512.5 458.7C512.2 458.6 507.2 494.8 505.1 513C502.9 531.1 499.1 567.4 499.4 567.5C499.7 567.5 504.7 531.3 506.9 513.2C509 495.1 512.8 458.7 512.5 458.7Z"/><path fill="#a7ff50" d="M450 311C449.5 311 449.5 321.1 450 326.1C450.5 331.1 452.5 341 453 341C453.5 341 453.5 330.9 453 325.9C452.5 320.9 450.5 311 450 311Z"/><path fill="#a7ff50" d="M463 304C462.6 304.1 463.1 314.2 463.8 319.2C464.4 324.2 466.6 334.1 467 334C467.4 333.9 466.9 323.8 466.2 318.8C465.6 313.8 463.4 303.9 463 304Z"/><path fill="#66ff90" d="M367 446C368.2 443.3 370.7 442.5 373 442C375.3 441.5 379 441.5 381 443C383 444.5 384.5 447.7 385 451C385.5 454.3 385.2 459.5 384 463C382.8 466.5 380.3 471 378 472C375.7 473 372 471.3 370 469C368 466.7 366.5 461.8 366 458C365.5 454.2 365.8 448.7 367 446Z"/><path fill="#66ff90" d="M362 461C361.6 460.9 358.5 467.3 357.3 470.6C356.2 473.9 354.6 480.9 355 481C355.4 481.1 358.5 474.7 359.7 471.4C360.8 468.1 362.4 461.1 362 461Z"/><path fill="#66ff90" d="M370 466C369.7 465.9 367 472.4 366 475.7C365 479 363.7 485.9 364 486C364.3 486.1 367 479.6 368 476.3C369 473 370.3 466.1 370 466Z"/><path fill="#90ff66" d="M353.6 69.4C353.1 69.6 355.5 77.5 357.2 81.2C358.9 85 363.2 92 363.7 91.7C364.2 91.5 361.8 83.6 360.1 79.9C358.5 76.2 354.1 69.2 353.6 69.4Z"/><path fill="#90ff66" d="M361 86C360.6 86.1 364.1 96 366.2 100.7C368.4 105.5 373.4 114.6 373.8 114.5C374.2 114.3 370.7 104.4 368.5 99.7C366.4 94.9 361.4 85.8 361 86Z"/><path fill="#90ff66" d="M345.8 48C345.3 48.2 349.8 61 352.6 67.1C355.3 73.3 361.9 85.1 362.4 84.9C362.9 84.6 358.5 71.9 355.7 65.7C352.9 59.6 346.3 47.7 345.8 48Z"/><path fill="#90ff66" d="M344.6 29.5C344.2 29.7 346 35.7 347.3 38.5C348.6 41.4 351.9 46.7 352.2 46.6C352.6 46.4 350.8 40.4 349.5 37.6C348.2 34.7 344.9 29.4 344.6 29.5Z"/><path fill="#90ff66" d="M363.8 41.7C363.4 41.9 367 52 369.2 56.9C371.4 61.8 376.6 71.2 377 71.1C377.4 70.9 373.7 60.8 371.5 55.9C369.3 51 364.2 41.6 363.8 41.7Z"/><path fill="#90ff66" d="M365.1 37.5C364.7 37.7 366.3 43.1 367.5 45.7C368.6 48.3 371.7 53.1 372.1 52.9C372.5 52.8 370.9 47.3 369.8 44.7C368.6 42.1 365.5 37.3 365.1 37.5Z"/><path fill="#90ff66" d="M350.7 46.5C350.2 46.6 355.1 59.8 357.9 66.1C360.8 72.5 367.4 84.8 367.8 84.6C368.3 84.4 363.4 71.3 360.6 64.9C357.7 58.6 351.1 46.3 350.7 46.5Z"/><path fill="#90ff66" d="M342.5 64.4C342 64.6 346.8 78 349.8 84.5C352.7 91 359.5 103.5 360 103.3C360.5 103.1 355.7 89.6 352.8 83.2C349.9 76.7 343 64.1 342.5 64.4Z"/><path fill="#66ff90" d="M256.9 256C257 258.8 258.7 262.7 257.9 264.6C257.2 266.5 254.1 266 252.4 267.5C250.8 268.9 249.6 273.3 248 273.5C246.4 273.8 244.5 270.5 243 268.9C241.5 267.3 240 266 239 263.8C237.9 261.7 236.9 258.6 236.9 256C237 253.4 238.2 250.4 239.3 248.4C240.4 246.5 242 245 243.4 244.1C244.9 243.1 246.5 242.7 248 242.9C249.5 243.1 250.6 244.4 252.2 245.2C253.7 246 256.7 246 257.5 247.8C258.3 249.6 256.8 253.2 256.9 256Z"/><path fill="#90ff66" d="M324.1 276C323.3 277.7 316.3 278.9 313.6 280.6C311 282.3 311.5 285.5 308.1 286.1C304.7 286.6 297.3 284.2 293 283.7C288.7 283.2 286.5 283.4 282.6 283C278.6 282.5 272.1 282.4 269.4 281.2C266.8 280.1 266.3 277.7 266.6 276C266.9 274.3 269 272.5 271.4 271.2C273.8 269.9 277.5 269 281.1 268.1C284.7 267.1 288.9 265.5 293 265.4C297.1 265.3 301.4 266.8 305.6 267.6C309.8 268.4 315.1 269 318.2 270.4C321.3 271.8 324.9 274.3 324.1 276Z"/><path fill="#90ff66" d="M279.9 230C280.4 231.1 281 232.5 280.1 233.5C279.3 234.6 276.9 235.9 274.7 236.2C272.5 236.5 269.4 235.5 267 235.4C264.6 235.3 261.9 236 260 235.6C258.2 235.2 257.4 234 255.8 233C254.2 232.1 250.5 231 250.6 230C250.6 229 254.4 227.9 256.2 227.1C257.9 226.3 259.3 226.2 261.1 225.2C262.9 224.3 264.7 221.7 267 221.5C269.3 221.2 273 222.8 274.7 223.7C276.4 224.7 276.4 226.2 277.2 227.2C278.1 228.3 279.4 228.9 279.9 230Z"/><path fill="#66ff90" d="M307.3 248C308.2 249.2 309.1 251.1 307.4 252.1C305.7 253 300.2 253.3 297 253.6C293.7 254 291.6 253.5 288 253.9C284.4 254.3 278.6 256.4 275.1 256.1C271.6 255.9 269 253.7 267.2 252.4C265.3 251 264 249.4 264.2 248C264.3 246.6 265.4 244.7 268.1 243.8C270.7 243 276.7 243.5 280 243C283.4 242.5 284.4 241.3 288 240.7C291.6 240.1 299.6 238.5 301.9 239.2C304.3 239.9 301.1 243.6 302 245.1C302.9 246.5 306.4 246.8 307.3 248Z"/><path fill="#90ff66" d="M250 314C251.3 310.2 255.7 312.5 258 313C260.3 313.5 262 314.5 264 317C266 319.5 267.7 324.5 270 328C272.3 331.5 275.7 335 278 338C280.3 341 282.5 342.2 284 346C285.5 349.8 286.7 356.3 287 361C287.3 365.7 286.8 370.5 286 374C285.2 377.5 284.7 380.1 282 382C279.3 383.9 274 385.2 270 385.5C266 385.8 260.7 385.6 258 384C255.3 382.4 255 380.7 254 376C253 371.3 252.7 362.7 252 356C251.3 349.3 250.3 343 250 336C249.7 329 248.7 317.8 250 314Z"/><path fill="#66ff90" d="M284.1 226C283.7 227.5 285.9 228.9 285.4 230C284.9 231.2 282.7 232.5 281 232.9C279.3 233.3 276.8 232.7 275 232.5C273.2 232.3 271.6 232.2 270.1 231.7C268.6 231.2 267.2 230.4 266.1 229.4C265 228.5 263.5 227.2 263.5 226C263.5 224.8 264.8 223.4 265.9 222.5C267 221.6 268.7 221.2 270.2 220.5C271.8 219.9 273.4 218.7 275 218.6C276.6 218.6 277.9 219.8 280 220.2C282.1 220.7 286.7 220.3 287.4 221.2C288 222.2 284.4 224.5 284.1 226Z"/><path fill="#90ff66" d="M117 209C117 209.5 116.9 210.1 116.7 210.5C116.5 211 116.2 211.5 115.8 211.8C115.5 212.2 115 212.5 114.5 212.7C114.1 212.9 113.5 213 113 213C112.5 213 111.9 212.9 111.5 212.7C111 212.5 110.5 212.2 110.2 211.8C109.8 211.5 109.5 211 109.3 210.5C109.1 210.1 109 209.5 109 209C109 208.5 109.1 207.9 109.3 207.5C109.5 207 109.8 206.5 110.2 206.2C110.5 205.8 111 205.5 111.5 205.3C111.9 205.1 112.5 205 113 205C113.5 205 114.1 205.1 114.5 205.3C115 205.5 115.5 205.8 115.8 206.2C116.2 206.5 116.5 207 116.7 207.5C116.9 207.9 117 208.5 117 209Z"/><path fill="#d1ff26" d="M115.2 209C115.2 209.3 115.1 209.6 115 209.8C114.9 210.1 114.8 210.4 114.6 210.6C114.4 210.8 114.1 210.9 113.8 211C113.6 211.1 113.3 211.2 113 211.2C112.7 211.2 112.4 211.1 112.2 211C111.9 210.9 111.6 210.8 111.4 210.6C111.2 210.4 111.1 210.1 111 209.8C110.9 209.6 110.8 209.3 110.8 209C110.8 208.7 110.9 208.4 111 208.2C111.1 207.9 111.2 207.6 111.4 207.4C111.6 207.2 111.9 207.1 112.2 207C112.4 206.9 112.7 206.8 113 206.8C113.3 206.8 113.6 206.9 113.8 207C114.1 207.1 114.4 207.2 114.6 207.4C114.8 207.6 114.9 207.9 115 208.2C115.1 208.4 115.2 208.7 115.2 209Z"/><path fill="#66ff90" d="M114 214C114 214.3 113.9 214.5 113.8 214.8C113.8 215 113.6 215.2 113.4 215.4C113.2 215.6 113 215.8 112.8 215.8C112.5 215.9 112.3 216 112 216C111.7 216 111.5 215.9 111.2 215.8C111 215.8 110.8 215.6 110.6 215.4C110.4 215.2 110.2 215 110.2 214.8C110.1 214.5 110 214.3 110 214C110 213.7 110.1 213.5 110.2 213.2C110.2 213 110.4 212.8 110.6 212.6C110.8 212.4 111 212.2 111.2 212.2C111.5 212.1 111.7 212 112 212C112.3 212 112.5 212.1 112.8 212.2C113 212.2 113.2 212.4 113.4 212.6C113.6 212.8 113.8 213 113.8 213.2C113.9 213.5 114 213.7 114 214Z"/><path fill="#50ffa7" fill-rule="evenodd" d="M155 235L156 234.9L156.5 235L157 235.8L157.1 236L157 236L156 236.4L155 236.5L154.6 236L154.8 235L155 235ZM159 235L159.2 235L160 235.2L160.6 235L161 235L161.3 235L162 235.7L162.1 236L162 236.1L161.1 237L161 237.1L160 237.3L159.7 237L159 236.3L158.7 236L158.4 235L159 235ZM211 235.1L212 235.3L212.6 236L212 236.7L211 236.9L210.5 236L211 235.1ZM118 255L118 255L118 255L118 255L118 255ZM124 257.8L124.4 258L124 258.4L123.3 258L124 257.8ZM124 261.9L124.6 262L125 262.4L125.2 263L125.2 264L125.2 265L125.3 266L125 266.4L124.5 267L124 267.3L123.5 267L123 266L123 266L123 266L123.5 265L123 264L123.4 263L123.1 262L124 261.9ZM120 263.9L120.5 264L120.3 265L120 265.1L119.8 265L120 264L120 263.9ZM244 268.6L244.1 269L244 269.5L243.8 269L244 268.6Z"/><path fill="#66ff90" fill-rule="evenodd" d="M152 233.9L153 233.8L154 234L155 233.9L156 233.7L157 233.7L158 233.7L159 233.7L160 233.7L161 233.7L162 233.8L163 233.8L164 233.8L165 233.9L165.4 234L166 234.3L167 234.7L167.5 235L167 235.3L166.5 236L167 236.5L168 236.9L168.3 237L169 237.5L170 237.6L170.5 238L170 238.6L169 238.5L168 238.8L167.6 239L167 239.2L166.5 240L166 240.8L165.9 241L165.8 242L165.6 243L165.5 244L165 244.8L164.8 245L165 245.5L165.1 246L165.4 247L165.2 248L165 248.2L164 248.5L163 249L163 249L162.9 249L162 248.9L161 248.9L160.9 249L160.5 250L160.7 251L160 251.5L159.4 252L160 252.9L160.4 253L161 253.1L162 253L162.1 253L163 252.2L163.6 252L164 251.9L164.1 252L164 252.2L163.7 253L163.1 254L163 254.1L162 255L162 255L161 255.8L160.2 255L160 254.2L159.9 254L159 253.2L158 253.8L157.6 254L157 254.5L156.8 254L156.9 253L156.9 252L157 251.6L157.2 251L157 250.8L156 250.2L155.4 250L156 249.2L156.1 249L157 248.6L158 248.2L158.1 248L158 247.9L157.4 247L157 246.4L156.6 246L156 245.5L155 245.1L154 245.9L153.7 246L153.8 247L154 247.3L155 247.1L155.8 248L155 248.7L154 248.1L153.7 248L153 247.5L152.4 247L152 246.4L151.9 246L152 245.7L152.1 245L152 244.4L151.8 244L151 243.5L150.6 243L150.2 242L150.4 241L150 240.5L149 240.5L148.4 240L148 239.4L147.9 239L147.9 238L148 237.6L149 237L150 237.7L150.4 238L150.9 239L151 239.2L151.1 239L151.3 238L151.3 237L151 236.7L150 236.6L149.8 236L149.5 235L150 234.4L151 234.1L151.5 234L152 233.9ZM154.8 235L154.6 236L155 236.5L156 236.4L157 236L157.1 236L157 235.8L156.5 235L156 234.9L155 235L154.8 235ZM158.4 235L158.7 236L159 236.3L159.7 237L160 237.3L161 237.1L161.1 237L162 236.1L162.1 236L162 235.7L161.3 235L161 235L160.6 235L160 235.2L159.2 235L159 235L158.4 235ZM164.9 237L165 237L165.1 237L165 237L164.9 237ZM204 233.8L205 233.7L206 233.7L207 233.9L208 233.8L209 233.6L210 233.6L211 233.7L212 233.7L213 233.9L213.5 234L214 234.1L215 234.1L215.4 234L216 233.8L217 233.9L218 233.9L219 234L220 233.9L221 233.9L221.9 234L222 234L223 234.1L224 234.4L225 234.4L226 234.3L227 234.4L228 234.5L229 234.3L230 234.3L231 234.3L232 234.7L232.3 235L232 235.5L231.6 236L231.1 237L232 237.2L233 237.8L233.6 238L234 238.2L234.4 238L234.8 237L234.9 236L235 235.8L236 235.4L237 235.4L238 235.6L238.7 236L238.2 237L239 237.7L240 237.8L241 237.1L241.1 237L242 236.4L242.3 236L242.7 235L243 234.9L244 234.8L244.3 235L244.9 236L245 236.2L245.6 237L245.6 238L245 239L245 239L244.1 240L244 240.3L243.8 241L243.3 242L243 242L242.1 242L242 242L241 241.6L240.2 241L240 240L240 239.9L239.8 240L239 240.1L238.2 240L238 240L238 240L237.7 241L238 242L238 242L238.6 243L238.8 244L239 244.6L239.2 245L239 245.1L238.7 245L238 244.7L237 244.2L236.3 244L236 243.8L235.6 243L235.4 242L235 241.6L234.3 241L234 240.6L233 240.6L232.7 241L232.9 242L233 242.6L233.1 243L233 243.1L232 243.9L231.3 243L231 242.7L230 242.6L229 242L229.2 241L229.6 240L230 239.5L230.2 239L230.7 238L231 237L230 236.6L229 236L228 236.1L227.3 237L227.4 238L227 238.3L226.4 238L226 237.8L225.4 238L225 238.2L224.6 239L224.5 240L224 240.9L223 240.4L222 240L221 240.7L220.8 241L221 241.2L221.3 242L221 242.4L220.3 243L220 243.4L219.2 244L219 244.1L218.4 245L218.2 246L218 246.2L217 247L217 247L217 247L217.9 248L218 248.1L218.5 249L218.5 250L218 250.2L217 250.4L216.6 251L216 252L216 252L215.7 253L215.2 254L215 254.2L214 254.3L213 254.3L212 254.4L211.5 254L211 253.3L210.4 253L210 252.8L209.7 253L209 253.6L208 253L208 253L207.8 252L207 251.4L206.8 251L206 250.6L205.6 251L205 251.4L204 251.7L203.5 251L203.7 250L204 249.3L204.2 249L204.3 248L204 247.5L203.3 247L203 246.8L202.8 247L202 247.3L201.3 247L201 246.8L200 246.7L199 246.1L199 246L199 245.9L199.6 245L200 244.6L201 244.8L202 244L202 244L202 244L201 243.2L200 243.3L199 243.5L198 243.2L197.7 243L197 242.1L196 242L195.2 243L195.6 244L195.8 245L196 246L196 246L197 246.6L198 246.9L198.3 247L198.5 248L198 248.4L197 248.6L196 249L196 249L195 249.8L194.8 250L194.1 251L194.3 252L194 252.4L193.6 252L193 251.4L192.2 251L192 250.8L191.4 250L191 249.8L190.4 249L190.1 248L190 247.8L189.2 247L189.3 246L190 245.6L191 245.2L191 245L191 244.9L190 244.6L189 244.9L188.8 245L188 245.6L187.5 245L187.1 244L187.1 243L187.2 242L188 241.2L188.4 241L189 240.6L189.5 240L189.6 239L189.7 238L189 237L189 236.8L188.9 236L188.7 235L189 234.6L190 234.4L191 234.6L192 234.5L193 234.5L194 234.3L195 234.1L196 234.7L197 234.9L198 234.7L199 234.4L200 234.2L201 234.1L202 234.2L203 234.1L203.2 234L204 233.8ZM194.8 236L195 236.4L195.5 237L195.8 238L196 238.3L197 238.3L197.2 238L197.6 237L197 236.3L196 236.1L195.9 236L195 235.7L194.8 236ZM210.5 236L211 236.9L212 236.7L212.6 236L212 235.3L211 235.1L210.5 236ZM215.9 237L216 237.2L216.4 237L216 236.9L215.9 237ZM216.9 238L217 238.1L217.1 238L217 237.7L216.9 238ZM236.6 238L237 238.3L237.3 238L237 237.9L236.6 238ZM192.9 240L192.9 241L193 241.1L194 242L194.7 241L195 240L195 240L195 240L194 239.2L193 239.8L192.9 240ZM215.9 242L215.8 243L216 243.3L217 243.4L218 243.5L218.2 243L218 242.8L217 242.4L216.4 242L216 241.7L215.9 242ZM191.7 247L191.7 248L192 248.5L193 248.3L193.1 248L193 247.6L192.4 247L192 246.6L191.7 247ZM81 234.6L81.5 235L81 235.2L80.6 235L81 234.6ZM85 234.6L86 234.3L87 234.3L88 234.4L89 234.5L90 234.4L91 234.5L92 234.6L93 234.4L94 234.5L95 234.9L96 234.7L97 234.6L98 234.7L99 234.9L99.5 235L100 235.3L100.6 236L101 236.5L101.8 237L101 237.2L100.3 238L101 238.9L102 238.4L103 238.9L103.1 239L104 239.8L104.3 240L104.3 241L104.7 242L104.6 243L104.6 244L105 244.4L106 244.7L106.5 245L107 245.2L108 245.6L109 245.3L110 245L110.1 245L110.6 244L111 243.4L111.8 244L112 244.9L112 245L112 245.2L111.9 246L111.9 247L112 247.9L112.1 248L113 248.2L113.1 248L113.6 247L114 246.3L114.1 246L114 245.2L113.9 245L113.9 244L114 243.9L115 243.9L115 244L115.5 245L116 245.4L117 245.6L118 246L118 246.2L118.1 247L119 247.3L120 247.2L120.5 247L121 246.8L121.3 247L121.3 248L121.1 249L121 249.6L120.4 250L121 250.1L122 250.7L122.3 251L122 251.4L121.9 252L122 252.1L123 252.3L123.6 252L123.2 251L123 250L123.2 249L124 248.2L124.4 248L125 247.7L125.6 248L126 248.4L126.9 248L126.7 247L127 246.7L127.2 247L127.1 248L128 249L128 249L128.9 250L129 250.1L129.4 250L130 249.9L130.3 250L131 250.3L132 250.4L133 250.1L133.1 251L133.6 252L134 252.2L135 252.6L135.7 253L135 254L135 254L135 254L135.3 255L135.9 256L136 256.2L136.4 257L136 257.8L135.9 258L136 258.1L137 258.6L137.8 259L138 260L138 260L139 260.1L139.4 261L140 261.6L141 261.9L142 261.8L143 261.5L143.3 262L143.5 263L143.8 264L144 264.6L145 264.1L145.1 264L146 263.5L146.5 263L147 262.3L147.3 263L147.5 264L147 264.8L146.8 265L147 265.4L147.2 266L147.2 267L147.5 268L147 268.6L146.6 269L146 269.6L145 269.8L144 270L143.9 270L143 270.4L142 270.2L141.1 270L141 270L140 269.6L139.7 270L139 270.6L138 270.5L137.2 270L137 269.4L136 269.9L135 269.1L135 269L134 268.2L133 269L133 269L132.1 270L133 270.2L134 270.7L134.4 271L134.1 272L134 272L133 272.5L132 272.6L131.2 273L131 273.2L130 273.5L129 273.7L128 273.9L127.8 274L127 274.7L126.7 274L126 273.6L125 273.4L124 273.4L123 273.4L122 273.2L121.8 273L121.2 272L121.1 271L121 270.8L120 270.2L119.7 270L119 269.7L118 269.3L117.9 269L117.8 268L117.8 267L117 266.6L116 266.6L115.6 267L115.1 268L115 268.1L114 268.6L113 268.5L112 268.2L111.2 268L112 267.5L112.3 267L112.9 266L112.4 265L112 264.6L111.5 265L111 265.5L110 265.6L109.2 265L109.4 264L110 263.1L110 263L110 262.9L109 262.6L108 262.1L107.8 262L107 261.3L106.8 261L106.5 260L106.2 259L106 258.6L105.7 258L105.4 257L105 256.7L104.7 257L104 257.9L103.8 258L103.6 259L103.5 260L103.6 261L104 261.7L104.2 262L104.2 263L104.4 264L105 264.7L105.5 265L105.2 266L106 266.6L107 266.2L107.4 267L108 267.5L109 267.6L110 267.9L110.4 268L110.5 269L110.5 270L110 270.7L109 270.7L108 270.1L107.7 270L107 269.8L106 270L105 269.9L104 269.6L103 269.3L102 269.9L101.9 270L101.9 271L102 271.4L102.1 272L102 272.1L101.3 273L101 273.4L100 273.5L99 273.1L98.9 273L98.3 272L98 271.6L97.6 271L97.6 270L97 269.3L96 269.7L95 269.6L94.4 270L95 270.4L96 270.7L96.1 271L96 271.2L95 271.6L94 271.4L93 271.2L92.5 272L92.6 273L92.1 274L92 274.2L91 274L91 274L90.4 273L90.9 272L90 271L89 271L88.7 272L88.3 273L89 274L89.1 274L90 274.6L90.5 275L90.3 276L90 276.4L89.3 277L89 277.1L88.8 277L88 276.8L87 276.7L86.3 277L86 277.5L85.7 277L85 276.9L84 276.6L83.2 277L83 277.1L82 277.4L81.5 277L82 276.4L82.3 276L83 275L83 275L83.4 274L83 273.6L82.6 273L83 272.7L84 272.2L84.7 273L85 273.1L85.2 273L85.9 272L85.1 271L86 270.3L86.3 270L87 269.7L87.6 269L87.9 268L88 267.9L88.8 267L89 266.4L89.3 266L89 265.7L88 265.5L87.2 265L87 264L87.8 263L88 262.6L89 262.8L89.3 263L89.2 264L90 264.9L91 264.2L91.4 264L92 263.3L92.1 263L92 262.7L91 262.5L90.6 262L90.8 261L91 260L91 260L92 259.8L92.3 260L92.8 261L93 261.1L94 261.3L95 261.4L95.4 261L95.2 260L95 259.8L94 259.3L93.6 259L93.9 258L94 257.9L94.7 257L95 256.8L96 256.2L96.4 256L96.9 255L96.7 254L96 253.4L95.7 253L95.7 252L96 251.7L97 251.2L97.4 252L97.9 253L98 253.4L99 253L99.1 253L100 252L100 252L100 251.9L99.8 251L99 250.5L98 250.6L97.2 250L97.3 249L97 248.8L96.2 248L96 247.8L95 247.8L94.9 248L94.1 249L94 249.2L93 249.3L92.3 249L92 248.7L91.7 248L92 247.6L92.8 247L93 246.9L94 246.3L95 246.2L95.1 246L95 245.9L94 245.6L93.7 245L93.3 244L93.7 243L94 242.8L94.4 243L95 243.2L96 243.1L96.2 243L96.8 242L96 241.3L95.8 241L95.7 240L95.6 239L95 238.3L94.8 238L94 237.5L93 237.2L92 237.4L91 237.5L90.5 238L91 239L91 239L92 239.2L93 239.2L94 239.2L94.4 240L94 240.5L93 240.9L92.4 241L92.3 242L92.1 243L92 243L91 243.7L90 243.7L89.5 243L89.4 242L89.6 241L89.2 240L89 239.8L88.1 240L88 240L87.3 241L87 241.6L86.6 241L87 240L86.6 239L86.2 238L86 237.3L85.3 237L85.1 236L85 235.9L84.4 235L85 234.6ZM100.9 243L100 243.2L99.4 244L99.2 245L100 245.3L100.3 245L100.9 244L101 243.1L101 243L101 242.8L100.9 243ZM118 255L118 255L118 255L118 255L118 255ZM126.2 255L127 255.6L127.6 256L128 256.2L129 256L128.9 255L128 254.2L127 254.3L126.2 255ZM123.3 258L124 258.4L124.4 258L124 257.8L123.3 258ZM98.7 260L98.7 261L98 261.5L97.1 262L97 262.1L96.3 263L97 263.6L97.8 264L98 264.1L98.2 264L99 263.6L99.3 263L99.2 262L99.4 261L99.6 260L99 259.6L98.7 260ZM123.1 262L123.4 263L123 264L123.5 265L123 266L123 266L123 266L123.5 267L124 267.3L124.5 267L125 266.4L125.3 266L125.2 265L125.2 264L125.2 263L125 262.4L124.6 262L124 261.9L123.1 262ZM139.8 263L139 263.6L138.4 264L138.3 265L138.5 266L139 266.7L139.7 267L140 267.1L140 267L140.8 266L140.6 265L140.4 264L140.4 263L140 262.5L139.8 263ZM120 264L119.8 265L120 265.1L120.3 265L120.5 264L120 263.9L120 264ZM94.2 265L95 265.1L95.6 265L95 264.8L94.2 265ZM101.6 265L101.4 266L102 266.7L102.7 267L103 267.2L103.2 267L103.5 266L103.3 265L103 264.5L102 264.6L101.6 265ZM97.4 268L98 269L99 268.4L99.2 268L99 267.7L98 267.1L97.4 268ZM93 269L93 269.1L93 269L93 269L93 269ZM127.3 269L127 269.5L126.5 270L127 270.6L127.3 271L128 271.2L129 271.4L130 271.1L130.2 271L130.6 270L130.3 269L130 268.8L129 268.5L128 268.8L127.3 269ZM102 234.9L102.7 235L102 235.3L101.5 235L102 234.9ZM105 234.5L106 234.1L107 234.2L108 234.2L109 234.1L110 234.1L111 234.4L112 234.7L113 234.9L113.6 235L113 235.4L112.5 236L112 236.9L111 236.9L110.9 237L110 237.7L109.7 238L109 238.5L108.6 239L108 239.7L107 239.4L106.1 239L106 238.9L105.3 238L105.5 237L105.4 236L105 235.4L104.6 235L105 234.5ZM117 234.9L118 234.8L118.6 235L118.3 236L118 236.9L117.5 236L117 235.3L116.2 235L117 234.9ZM120 234.8L121 234.4L122 234.3L123 234.5L124 234.4L125 234.3L126 234.4L127 234.5L127.6 235L127 235.6L126.7 236L126.1 237L126 237.3L125.4 238L125.2 239L125 239.5L124.5 240L124 240.1L123.7 240L123.2 239L123.9 238L124 237.6L124.1 237L124 236.9L123.4 236L123 235.6L122 235.6L121 235.4L120 235.2L119.5 235L120 234.8ZM169 234.9L170 234.8L170.9 235L170 235.5L169 235.2L168.6 235L169 234.9ZM175 234.8L175.3 235L175 235.1L174.5 235L175 234.8ZM240 234.9L240.5 235L240 235.1L239.6 235L240 234.9ZM115 235.4L115.2 236L115.3 237L115 237.2L114 237.3L113.3 237L114 236.4L114.9 236L115 235.4ZM112 237.3L112.1 238L112 238.2L111.6 238L112 237.3ZM173 238.8L173.3 239L173 239.3L172.5 239L173 238.8ZM120 239.8L121 240L121 240L121 240L120 240.3L119.5 240L120 239.8ZM147 240.9L147.1 241L147 241L146.9 241L147 240.9ZM226 240.7L227 240.7L227.6 241L228 241.4L228.9 242L228 242.9L227 242.6L226 242.4L225.8 242L225.5 241L226 240.7ZM118 241.6L119 241.3L119.8 242L120 242.2L120.5 243L120 243.6L119.6 244L119 244.3L118 244L118 244L117.5 243L117.7 242L118 241.6ZM148 241.9L148.1 242L148 242.1L148 242L148 241.9ZM167 241.8L167.2 242L167 242L166.9 242L167 241.8ZM106 242.7L107 242.9L107.1 243L107 243.1L106 243.5L105.5 243L106 242.7ZM225 244L225.2 244L226 244.3L226.4 245L226 245.5L225 245.3L224.8 245L225 244L225 244ZM148 244.9L148.5 245L149 245.3L149.4 246L149 246.1L148.4 246L148 245.4L147.7 245L148 244.9ZM169 244.8L169.1 245L169 245.1L168.8 245L169 244.8ZM128 245.9L128.5 246L128 246.1L127.8 246L128 245.9ZM221 245.6L222 245.7L222.1 246L222 246.2L221 246.8L220.7 246L221 245.6ZM227 245.8L228 246L228 246L228 246L227 246.1L226.8 246L227 245.8ZM185 247L186 246.7L187 246.6L187.5 247L187.6 248L187.2 249L187.2 250L187 250.2L186.9 250L186.9 249L186 248.4L185 248.1L184.6 248L185 247L185 247ZM237 246.7L237.3 247L237.6 248L237 248.6L236.7 248L236.7 247L237 246.7ZM183 248.7L184 248.4L184.3 249L184 249.7L183 249.3L182.8 249L183 248.7ZM226 248.9L226.1 249L226.1 250L226 250.2L225.7 250L225.4 249L226 248.9ZM143 249.5L143.3 250L143 250.3L142.1 250L143 249.5ZM201 249.7L201.6 250L201 250.9L200.3 250L201 249.7ZM220 250L220 250L220 250.5L219.8 250L220 250ZM185 250.6L186 250.7L186.5 251L186 251.8L185.9 252L186 252.8L186 253L186 253.1L185.9 253L185 252.8L184.7 252L184.6 251L185 250.6ZM197 251L197.1 251L197 251L197 251L197 251ZM231 250.7L232 250.6L233 250.5L234 250.5L235 250.3L236 250.7L236.9 251L236.6 252L236 252.2L235 252.5L234 252.4L233 252.5L232.5 253L232 253.6L231.6 254L232 254.7L233 254.5L233.4 255L233.8 256L233 256.3L232.1 256L232 255.6L231.8 256L231 256.4L230.6 257L230.5 258L231 258.9L231 259L232 259.9L232.3 260L233 260.4L234 260.7L234.4 261L235 261.9L235.7 261L235 260.3L234.8 260L234.8 259L234.6 258L234.8 257L235 256.8L236 256.3L236.3 256L236.9 255L237 254.9L238 254.5L238.4 254L238.5 253L238.4 252L239 251.8L239.3 252L240 252.4L240.4 253L240.3 254L240 254.7L239.8 255L239.3 256L239 256.1L238 256.3L237 256.9L236.9 257L237 257L238 257.9L239 257.4L240 257.1L240.1 257L241 256L241.8 257L242 257.2L242.8 258L243 258.1L244 258.3L244.9 259L245 259.3L245.1 260L245.2 261L245.2 262L245 262.9L245 263L245 263.1L245.2 264L245.5 265L245.8 266L245.8 267L245.8 268L245.9 269L245.9 270L245.6 271L245 272L245 272L244.6 273L244.4 274L244 274.4L243.2 274L243 273.8L242 273.8L241.3 273L241 272.9L240.5 273L240 273.2L239 273.1L238.8 273L238.3 272L238.5 271L238.5 270L238.7 269L238.2 268L238 267.7L237.9 268L237 268.6L236.8 269L236.5 270L236.1 271L236 271.4L235.6 272L235 272.6L234 272.4L233.4 272L233 271.5L232.1 271L232.3 270L232.6 269L232.8 268L232.8 267L233 266.2L234 267L234 267L234 267.1L233.6 268L234 268.2L235 268.3L235.3 268L235.7 267L235.8 266L235.6 265L236 264.5L236.7 264L236.9 263L236 262.2L235 262.1L234 262.5L233 262.5L232 262.3L231.8 262L231 261.1L230.4 261L230 260.5L229.9 260L229.2 259L229 258.8L228 258.2L227.9 258L227.6 257L227.3 256L228 255.5L228.5 255L229 254.7L230 254.3L230.3 254L230 253.6L229.6 253L229.6 252L230 251.4L230.5 251L231 250.7ZM237.3 261L238 261.2L238.1 261L238 260.9L237.3 261ZM236.6 266L237 266.7L237.4 266L237 265.9L236.6 266ZM238.6 266L239 267L239.1 266L239 265.9L238.6 266ZM243.8 269L244 269.5L244.1 269L244 268.6L243.8 269ZM189 251.8L189.5 252L189.5 253L189 253.5L188.2 253L188.8 252L189 251.8ZM192 252.4L192.5 253L193 253.5L193.4 254L194 255L194.1 255L194 255.1L193.6 256L193 256.2L192 256.3L191 256.4L190 257L190 257L189.6 258L189.7 259L190 259.2L190.5 260L191 261L191.1 261L191 261.1L190.8 262L191 262.8L191.7 262L192 261.8L192.1 262L192.8 263L193 263.2L193.5 264L193 264.8L192.9 265L192.4 266L192.3 267L192 267.5L191.1 267L191 267L190.8 266L190.8 265L190.7 264L190 263.4L189 263.8L188.6 264L188 265L188 265L187.8 266L187.9 267L188 267.3L188.2 268L188 268.4L187.2 269L187 269.1L186 269.7L185.4 270L185 270.9L184.9 271L185 271.2L185.1 272L185 272.2L184.4 273L184 273.3L183.1 273L183 272.9L182 273L181.9 273L181 273.2L180.8 273L180.9 272L180 271.2L179.9 271L179 270.2L178.9 270L179 269.9L180 269.5L180.4 269L180.6 268L180 267.3L179.8 267L179.4 266L179.2 265L179.6 264L179 263.5L178 263.1L178 263L178 262.9L179 262.3L179.4 262L180 261.5L180.3 262L180.2 263L180.5 264L181 264.2L181.1 264L181.2 263L181.9 262L182 261.9L183 261.5L184 261.6L185 261L185 261L185 261L184.6 260L184.6 259L185 258.4L185.1 258L185 257.7L184 257.3L183.7 258L183 258.5L182.2 259L182 259.1L181.8 259L181.6 258L181.5 257L182 256.9L183 256.9L184 256.9L185 256.8L185.6 256L185.9 255L186 254.3L187 254.4L187.4 255L188 255.4L189 255.6L190 255.6L190.5 255L191 254.5L191.4 254L191.2 253L192 252.4ZM181.9 266L181.4 267L181.6 268L182 268.4L182.4 269L183 269.9L184 269.6L184.3 269L184.2 268L184.3 267L184 266.5L183.4 266L183 265.9L182 265.7L181.9 266ZM181 253.2L181.7 254L181 254.4L180.7 254L181 253.2ZM188 253.7L188.1 254L188 254.2L187.7 254L188 253.7ZM93 254.8L93 255L93 255.1L92.1 255L93 254.8ZM170 255.8L170.4 256L170 256.4L169.3 256L170 255.8ZM177 255.3L178 255.5L178.3 256L178.6 257L178.6 258L178 258.5L177 258.9L176 258.2L175.8 258L176 257.3L176.2 257L176.6 256L177 255.3ZM139 256.7L139.2 257L139.2 258L139 259L139 259.1L138.9 259L138.3 258L138.4 257L139 256.7ZM87 257.4L88 257.6L88.4 258L88.4 259L88 259.9L87 259.6L86.6 259L86.8 258L87 257.4ZM144 257.9L145 257.6L146 258L146 258L146 258.1L145 258.9L144.8 259L144 259.5L143 259.3L142.7 259L143 258.7L143.7 258L144 257.9ZM160 257.1L160.2 258L160 258.1L159.9 258L160 257.1ZM181 259.8L181.2 260L181 260.7L180.8 260L181 259.8ZM167 260.9L167.1 261L167 261L166.9 261L167 260.9ZM174 261.7L174.3 262L174 262.3L173.7 262L174 261.7ZM203 262L203.1 262L203 262.1L202.9 262L203 262ZM175 262.7L175.2 263L175 263.7L174.6 263L175 262.7ZM107 264.7L107.5 265L107 265.7L106.6 265L107 264.7ZM81 267L81.1 267L81.4 268L81.2 269L81 269.9L80.9 270L80 270.2L79.8 270L80 269L80 268.9L80.6 268L80.9 267L81 267ZM84 266.9L85 266.7L85.8 267L85.7 268L85.3 269L85 269.9L84.5 269L84 268.5L83.5 268L83.4 267L84 266.9ZM173 266.8L173.3 267L173.4 268L173 268.9L172.3 268L172.5 267L173 266.8ZM75 268.6L75.4 269L75 269.6L74.5 269L75 268.6ZM208 268.4L209 268.2L209.8 269L210 269.5L210.2 270L210 270.4L209.7 271L209 271.3L208.6 271L208 270.4L207.8 270L207.5 269L208 268.4ZM84 270.5L84.9 271L84 271.7L83.8 271L84 270.5ZM203 270.7L204 270.7L204.3 271L204.5 272L204.1 273L204 273.2L203.8 273L203 272.5L202.6 272L202.2 271L203 270.7ZM73 271.4L73.9 272L73.9 273L73 273.5L72.3 273L72 272L73 271.4ZM77 271.2L77.8 272L77 272.9L76.5 272L77 271.2ZM197 271.8L197.2 272L197 272.4L196.7 272L197 271.8ZM108 274L108 274L108 274L108 274L108 274ZM79 274.7L80 274.5L80.3 275L80.2 276L80 276.2L79 276.1L78.9 276L78.7 275L79 274.7ZM97 274.9L97.1 275L97 276L97 276L96.9 276L96.9 275L97 274.9ZM175 274.4L175.8 275L175 275.2L174.8 275L175 274.4ZM207 274.8L207.8 275L208 275.3L208.1 276L208.3 277L208 277.8L207.8 278L207 278.4L206.2 278L206 277.8L205.5 277L205.8 276L206 275.5L206.6 275L207 274.8ZM240 275L240.1 275L240 275.3L240 275L240 275ZM104 275.7L104.2 276L104.5 277L104 277.7L103.5 277L103.5 276L104 275.7ZM203 276.5L203.2 277L203 277.2L202.8 277L203 276.5ZM176 277.7L176.2 278L176 278.3L175.7 278L176 277.7ZM212 278.4L212.7 279L212 279.2L211.7 279L212 278.4ZM91 280.8L91.6 281L91 281.2L90.9 281L91 280.8ZM81 281.8L81.3 282L81 282.3L80.6 282L81 281.8ZM81 291.7L82 291.5L83 291.2L83.9 292L83 293L83 293L82 293.4L81.6 293L81 292.3L80.1 292L81 291.7ZM79 292L79.3 293L79.8 294L79 294.9L78.3 294L78.3 293L79 292ZM166 292.5L167 292.9L167.1 293L167.2 294L167 294.4L166 294.7L165.8 294L165.7 293L166 292.5ZM66 296L67 295.9L67.3 296L67 296.3L66.1 297L66 297L65.9 297L65.9 296L66 296ZM77 297.8L77.5 298L77 298.1L76.8 298L77 297.8ZM80 298L81 297.2L81.6 298L81.2 299L81 299.2L80 299.1L79.9 299L79.9 298L80 298ZM169 304L169 304L169 304L169 304L169 304ZM215 304L215.1 304L215.1 305L215 305.1L214.9 305L215 304L215 304ZM85 304.5L85.2 305L85 305.1L84.8 305L85 304.5Z"/><path fill="#90ff66" fill-rule="evenodd" d="M134 235.6L134.1 236L134 236.3L133.9 236L134 235.6ZM66 236.9L67 236.4L67.3 237L67 237.2L66 237.1L65.9 237L66 236.9ZM76 239.5L76.3 240L76 240.5L75.8 240L76 239.5ZM133 239.9L133.2 240L134 240.6L134.4 241L134 241.2L133 241.3L132.8 241L132.8 240L133 239.9ZM181 239.9L181.1 240L181.6 241L181 241.6L180 241.6L179.4 241L180 240.2L180.6 240L181 239.9ZM71 241.8L71.1 242L71 242.3L70.7 243L71 243.2L72 244L72 244L72 244L72.8 243L73 242.7L74 242.9L74 243L74 243.3L73.4 244L73 244.4L72.5 245L72 245.2L71 245.8L70.6 246L70.4 247L70.9 248L71 248.4L71.2 249L71 250L71 250.1L70.3 251L70.9 252L71 252.1L71 252L72 251.7L73 252L73 252L73.9 253L74 253.5L74.1 254L74 254.7L74 255L73 255.7L72.3 256L72 256.2L71.2 257L71 257.4L70 258L70 258L69.3 259L69 259.3L68 259.4L67 259.8L66.9 260L66 260.8L65.1 260L65.3 259L65.3 258L65 257.2L64.9 257L65 256.6L65.1 256L65.1 255L65.9 254L66 253.9L66.8 253L67 252.6L68 252.5L68.1 252L68.5 251L68 250.1L67 250.6L66.6 251L66 252L65 251.3L64.8 251L64.7 250L65 249.3L65.1 249L65.1 248L65 247.5L64.9 247L65 246.2L65 246L65 245.9L64.8 245L64.7 244L65 243.6L66 243.2L66.8 243L67 242.7L68 242.8L69 242.8L70 242L70.1 242L71 241.8ZM69.4 253L69 253.4L68.6 254L69 254.2L69.9 255L70 255.2L70.4 255L70.6 254L70.5 253L70 252.3L69.4 253ZM77 243.8L77.8 244L77 244.3L76.9 244L77 243.8ZM74 244.9L75 244.5L76 244.7L76.6 245L76 245.5L75.7 246L75 246.8L74.7 247L74 247.6L73.4 248L73 248.2L72.8 248L72.4 247L72.8 246L73 245.5L73.9 245L74 244.9ZM178 245.8L178.4 246L179 246.7L179.1 247L179 247.3L178.4 248L178 248.2L177.8 248L177.3 247L177.7 246L178 245.8ZM79 246.6L79.4 247L80 247.9L80.1 248L80 248.1L79.6 249L79 249.7L78.6 250L79 250.4L79.2 251L79.1 252L79 252.1L78.9 252L78 251L77.9 251L77 250.3L76.1 251L76 251.1L75 251.2L74.9 251L75 250.7L75.4 250L76 249.3L77 249.1L77 249L77.3 248L78 247.1L78.3 247L79 246.6ZM82 247L83 246.6L83.6 247L83.6 248L83 249L83 249L82 249.2L81.8 249L81.3 248L82 247L82 247ZM86 251L86.3 251L86.4 252L86 252.2L85.5 252L85.9 251L86 251ZM243 251L244 250.5L244.5 251L245 251.8L245.1 252L245 252.2L244 252.6L243.4 252L243 251L243 251L243 251ZM82 251.7L83 251.7L84 252L84 252L84 252L83.6 253L83 253.2L82 253.5L81.8 253L81.7 252L82 251.7ZM208 256.7L208.4 257L208.8 258L208.8 259L208.8 260L208.7 261L208 261.7L207 261.7L206.3 261L206.6 260L206.8 259L207 258.2L207.1 258L207.5 257L208 256.7ZM213 256.9L213.1 257L213 257.2L213 257L213 256.9ZM69 262.7L69.7 263L70 264L70 264L70 264L69.6 265L69 265.5L68.5 266L68 266.4L67.3 267L67 267.5L66 267.1L66 267L65.7 266L66 265.1L66.1 265L67 264.5L67.3 264L68 263.2L68.4 263L69 262.7ZM162 266.6L162.5 267L163 267.6L163.2 268L163.4 269L163 269.6L162 269.5L161 269.1L160.9 269L160.6 268L161 267.3L161.3 267L162 266.6ZM157 269.6L158 269.8L158.3 270L159 271L159 271L159 271L158 271.7L157.1 272L157.2 273L158 273.4L159 273.4L160 273.9L161 273.9L162 273.4L162.6 273L163 272.2L163.3 272L163 271.8L162.7 271L163 270.4L163.6 270L164 269.8L164.3 270L164.4 271L164.2 272L164.1 273L164.9 274L164 274.7L163.8 275L163.2 276L164 276.2L165 276.3L165.5 277L165 277.7L164.8 278L164.7 279L165 279.8L166 279.9L166.5 280L166.5 281L167 281.7L167.1 282L168 282.9L168.1 283L169 283.7L170 283.9L170.2 284L170.2 285L170 285.2L169.6 285L169 284.6L168 284L168 284L167 283.3L166.5 283L166 282.4L165 282.7L164.8 283L164 283.7L163.6 284L163 284.9L163 285L163 285.5L163 286L163 286.1L162 286.8L161.8 287L161.4 288L162 288.4L162.9 289L163 290L162 290.2L161.9 290L161 289.4L160 289.8L159.8 290L159.4 291L160 291.4L160.4 292L160.1 293L160 293.2L159.5 293L159.3 292L159 291.5L158.9 291L158.4 290L158 289.6L157 289.3L156.4 290L156 290.5L155.5 291L155.3 292L155.2 293L155.9 294L156 294.5L156.1 295L156 295.2L155.7 296L155.3 297L155.4 298L155 298.3L154.1 299L154.6 300L155 300.2L156 300.3L156.7 300L156.4 299L156.4 298L157 297L157 297L157.5 296L158 295.6L159 295.2L160 295.8L160 296L160 296.1L159.1 297L159 297.1L158.6 298L158.2 299L158 299.3L157.2 300L158 300.9L158.1 301L158 301.2L157.6 302L157 302.3L156 302.5L155.2 303L155 303.4L154.6 303L154 302.1L153.9 302L153 301.3L152.7 301L152 300L151.8 300L152 299.6L152.3 299L152 298.9L151 298L151 298L150 297.2L149 297.1L148.3 298L148.1 299L149 299.9L150 299.7L150.6 300L150.3 301L150 301.7L149.8 302L149.9 303L150 303.4L150.3 304L151 304.5L151.2 305L151 305.2L150 305.3L149.2 305L149 304.7L148.6 305L148 305.1L147.9 305L148 304.3L148.2 304L148 303.7L147.9 303L148 302.7L148.4 302L148 301.5L147 301.3L146.4 301L146 300.8L145 300.2L144.6 300L144 299.7L143.8 300L144 300.4L144.3 301L144.2 302L144 302.5L143.4 303L143 304L143 304L142 304.7L141 304.6L140.2 304L140 303.7L139.5 303L139 302.5L138 302.3L137.4 303L137.8 304L138 304.3L138.4 305L138 305.4L137 305.9L136 305.9L135 305.9L134 305.7L133 305.9L132.5 306L132 306.1L131 306.2L130 306.3L129 306.4L128 306.3L127 306.1L126.8 306L126 305.8L125 305.5L124 305.2L123 305.2L122 305.4L121 305.4L120 305L119.9 305L120 304.3L120 304L120.5 303L121 302.6L121.5 302L122 301.2L122.4 301L123 300.7L123.7 301L124 301.3L124.4 302L125 302.8L125.9 302L125.7 301L125 300.2L124.7 300L124 299L124 299L123 298.4L122 298.4L121.3 298L121.6 297L121.1 296L121 295.8L120.4 295L120 294.3L119.9 294L119.6 293L119 292.1L118.1 293L118 293L117.9 293L117 292.1L117 292L116.3 291L116 290.6L115 290.4L114 290.2L113.8 290L113 289.7L112 289.2L111.7 289L111 288L112 287.6L113 287.6L113.5 287L114 286L113 285.7L112.4 286L112 286.6L111 286.1L110.6 287L111 288L110 288.4L109.2 289L109 289.2L108 289.5L107 290L107 290.1L106.9 290L106 289.9L105 289.8L104.7 290L104.7 291L105 292L104.7 293L104 293.9L103.6 294L103 294.2L102 294.9L101.8 295L101.5 296L101 296.5L100.7 297L100.2 298L100 298.5L99.9 299L100 299.3L100.5 300L100 300.7L99.8 301L99 302L98 301.8L97 301.6L96.6 302L97 302.8L97.1 303L97 303.2L96.4 304L96 304.4L95.6 304L95 303.7L94.3 303L94.1 302L94 301.9L93.6 301L93.3 300L93 299.5L92.7 299L92 298.1L92 298L91.3 297L91.9 296L92 295.9L93 296L94 295.5L94.5 295L95 294.1L95.1 294L95.7 293L95 292L95 292L94 291.1L93.9 291L93 290.1L92.9 290L92.7 289L93 288.2L93.2 288L94 287.5L95 287.6L96 287.9L97 287.6L98 287.5L99 287.4L100 287.9L101 287L101 287L101.1 286L101.3 285L101 284.2L101 284L101 283.4L101 283L102 282.3L103 282.2L104 282.5L104.7 283L104 283.5L103.4 284L103.3 285L103.8 286L103.9 287L103 287.4L102.1 288L102 288.3L101 288.5L100 288.1L99.2 289L99 289.8L98.9 290L99 290.1L100 290.8L101 290.7L102 290L103 290L103 290L103.8 289L104 288.6L105 288.2L105.6 288L106 287.9L106.8 287L107 286L106.6 285L107 284.2L108 284.6L108.3 284L109 283.1L109.3 283L110 282.6L110.7 283L111 283.1L111.1 283L111.3 282L111 281.8L110 281.7L109.5 281L109.6 280L110 279.1L110.2 279L111 278.7L111.4 279L111.7 280L112 280.6L113 280.8L114 280.4L114.9 280L114.6 279L114.5 278L115 277.5L115.6 277L115.9 276L116 275L116 275L116 275L116.2 276L116.8 277L117 277.1L117.6 278L118 278.6L119 278.8L119.7 279L120 279.1L120.2 279L121 278.5L122 278.8L122.2 279L123 279.7L123.4 280L123.5 281L124 281.9L124.2 282L124.2 283L125 283.5L125.5 284L126 284.4L126.4 285L126.5 286L127 287L127.4 287L128 287.1L128.6 288L128.2 289L128 289.3L127.8 290L127 290.7L126 290.6L125 290.2L124.7 290L124 289.6L123.2 289L124 288.4L125 288.1L125.2 288L125.9 287L125 286.4L124.5 286L124 285.7L123 285.3L122.1 285L122 285L122 285L121.4 286L121 286.7L120.8 287L120.9 288L120.1 289L120.5 290L120 290.8L119.8 291L120 291.6L121 291.3L122 291.4L123 291.3L124 291.6L125 291.8L126 291.9L127 291.9L127.1 292L128 292.5L129 292.8L129.6 293L129.8 294L129 294.4L128.7 294L128 293.5L127 293.5L126 293.6L125 293.8L124.9 294L124.9 295L125 295.1L126 295.8L126.2 296L127 296.9L128 296.2L128.1 296L129 295.4L130 295.7L130.3 296L131 297L132 296.3L132.1 296L133 295.3L134 295.3L135 295.9L135.1 296L135.1 297L135 297.2L134.7 298L135 298.3L136 298.1L136.2 298L137 297.2L137.6 297L138 296.9L138.1 297L138.6 298L139 298.6L140 298.5L141 298.2L142 298.4L142.2 298L142 297.3L141.8 297L141.1 296L141.3 295L141 294L141.8 293L142 292.8L143 292.2L143.7 293L144 293.5L145 293.6L145.7 293L146 292.7L146.3 292L146 291.1L145.9 291L145 290.6L144.1 291L144 291.2L143.8 291L143 290.6L142.4 290L142.3 289L142.9 288L143 287.9L143.5 287L143.3 286L143.1 285L143 284.7L142.6 284L142.3 283L142 282.4L141.1 282L141 282L140.9 282L140 282.2L139.8 282L139.5 281L140 280.3L140.6 280L141 279.5L141.3 279L141.8 278L142 277.8L142.8 278L143 278.1L143.6 279L144 279.7L144.4 280L145 280.6L145.6 281L145.8 282L145.9 283L146 283.1L147 283.6L148 283.5L149 283.6L149.6 284L150 284.3L150.9 284L151 284L151.4 283L152 282.4L152.5 282L152.4 281L152.2 280L152 279.7L151 279.1L150.7 279L151 278.9L151.5 278L151.6 277L151.2 276L151 275.7L150.6 275L150.7 274L150.8 273L151 272L152 273L151.8 274L152 274.1L152.1 274L152 273L153 272.5L154 272.6L154.9 273L154.7 274L155 274.4L155.5 274L155.1 273L155.3 272L155.8 271L156 270.8L156.6 270L157 269.6ZM155.6 275L155.5 276L155 276.3L154 276.3L153 277L153 277L153 277.2L153.1 278L154 278.6L155 278.4L156 278.4L156.9 278L157 277.9L158 277.3L159 278L159 278L160 278.4L160.6 278L160 277.5L159.2 277L159 276.7L158 276.1L157.9 276L157.3 275L157 274.8L156 274.5L155.6 275ZM154.8 281L154.6 282L154.7 283L154 283.6L153.8 284L154 284.5L155 284.5L155.3 285L155 285.2L154.4 286L154.3 287L154.7 288L155 288.2L156 288.3L157 288.1L157.1 288L158 287.5L159 287.1L159.2 287L160 286.3L160.3 286L160.6 285L160.5 284L160.9 283L161 282.9L162 283L162.6 283L163 283L163 283L164 282.2L164.3 282L164.7 281L164 280.7L163 280.9L162 280.9L161 281L160 280.9L159 280.6L158.5 281L158.5 282L158.5 283L158 283.7L157 283.8L156 283.3L155.6 283L156 282.8L156.3 282L156.5 281L156 280.3L155 280.7L154.8 281ZM115.7 288L116 288.4L116.4 289L117 289.7L118 289.4L118.3 289L118 288.8L117 288L116.9 288L116 287.6L115.7 288ZM94.7 290L95 290.1L96 290.1L96.1 290L96 289.8L95 289.6L94.7 290ZM148.3 290L148.8 291L149 291.1L149.3 291L149.8 290L149 289.8L148.3 290ZM150.9 295L151 295.1L152 295.3L152.3 295L152 294.6L151 294.8L150.9 295ZM143.1 296L144 296.7L144.5 297L145 297.4L146 297.4L146.4 297L146 296.8L145.2 296L145 295.9L144 295.3L143.1 296ZM95.3 298L95 298.1L94.3 299L95 299.7L96 300L96.8 299L96.4 298L96 297.8L95.3 298ZM128 298L128 298L128.3 299L129 299.9L129.3 300L130 300.2L130.3 300L131 299.3L131.9 299L132 298.8L132.1 299L132.7 300L133 300.3L133.6 300L133.9 299L133 298.4L132.3 298L132 297.8L131 297L130 297.2L129 297.6L128 298L128 298ZM138.9 300L139 300.2L139.4 301L140 301.7L140.3 302L141 302.2L141.4 302L141.2 301L141 300.7L140.3 300L140 299.7L139 299.8L138.9 300ZM133.6 301L134 301.7L135 301.1L135.1 301L135 300.9L134 300.4L133.6 301ZM70 272.9L70 273L70 273.1L69.6 273L70 272.9ZM190 274L190 274L190.1 275L190 275.2L189.6 275L190 274L190 274ZM224 273.7L225 273.5L225.5 274L225 274.8L224 274.4L223.8 274L224 273.7ZM230 275L230 275L230.1 276L230 276.2L229.9 276L230 275L230 275ZM138 275.7L139 275.6L139.7 276L140 276.4L140.6 277L140 277.4L139.3 278L139 278.3L138 278.3L137.7 278L137.5 277L137.8 276L138 275.7ZM145 275.7L145.5 276L146 276.2L147 277L147.1 277L147.9 278L147.2 279L148 279.9L148 280L148 280.1L147 280.5L146 280.5L145.6 280L146 279.3L146.5 279L146 278.8L145.4 278L145 277.6L144.6 277L144.7 276L145 275.7ZM188 275.5L189 275.7L189.2 276L190 276.5L191 276.8L191.2 277L191.6 278L192 278.3L193 278.9L193.1 279L194 279.7L194.3 280L195 280.4L195.7 281L195.6 282L195.1 283L195.2 284L196 284.3L197 284.2L197.5 284L198 283.6L198.4 283L198 282.5L197.8 282L198 281.4L199 281.4L199.8 282L200 282.4L200.8 283L200.8 284L200.7 285L200 285.2L199 285.4L198.3 286L198.1 287L198 287.3L197.4 288L197.8 289L198 289.1L199 289.7L199.5 290L200 291L200 291L201 291.8L201.2 292L201 292.1L200.6 293L201 293.8L201.2 294L202 294.9L202.4 294L203 293.5L204 293.1L204.2 293L205 292.1L205.4 292L205.8 291L205 290.5L204.9 291L204 291.4L203 291.3L202 291L202 291L201.5 290L201.7 289L202 288.6L202.2 289L203 289.7L204 289.8L205 290L206 290L206.3 290L207 290.2L207.8 291L207.3 292L207.7 293L207.7 294L207.2 295L207 296L208 296.7L208.6 297L209 297.4L209.5 298L209.8 299L210 299.4L211 299.6L211.9 300L212 300.1L212.3 301L212.7 302L213 302.9L213 303L213 303.1L212.4 304L212 304.3L211 304.9L211 305L210 305.2L209 305.5L208 305.9L207 305.8L206 305.7L205 305.7L204 305.9L203 306L202.3 306L202 306L201 306.1L200 306.2L199 306.2L198 306.3L197 306.3L196 306.4L195 306.4L194 306.3L193 306.3L192 306.4L191 306.5L190 306.4L189 306.4L188 306.4L187 306.5L186 306.4L185 306.3L184 306.3L183 306.3L182 306.2L181.1 306L181 306L180 305.9L179 306L178 305.8L177 305.7L176 305.8L175 305.9L174 305.8L173.5 305L173.7 304L174 303.7L175 303.5L176 303L176 303L176.4 302L176.7 301L176.2 300L176 299.6L175.4 299L175.9 298L176 297.9L176.9 298L177 298L177 298L177.4 297L177.6 296L178 295.2L179 295.3L179.4 296L180 296.4L181 296.5L181.5 296L181.5 295L181 294.5L180.5 294L180.1 293L180 292.9L179.6 293L179.5 294L179 294.7L178 294.7L177.3 294L178 293.5L178.8 293L178.9 292L178.5 291L178.6 290L179 289.2L179.1 289L179.1 288L179 287.4L178.9 287L179 286.7L179.2 286L180 285.6L181 285.6L181.7 286L182 286.4L183 286.6L183.6 286L184 285.6L184.8 285L185 284.8L185.4 284L185.5 283L185.9 282L186 281.7L186.1 281L186 280.9L185 280L185 280L184.5 279L184.3 278L185 277.5L186 277.3L186.2 277L187 276.4L187.5 276L188 275.5ZM188.9 278L188 278.6L187.4 279L188 280L188 280L189 280.9L189.9 280L190 279.6L190.1 279L190 278.8L189.2 278L189 277.9L188.9 278ZM191.8 281L192 281.3L193 281.5L193.3 281L193 280.4L192 280.5L191.8 281ZM190.3 284L190.4 285L190 285.4L189 285.8L188.3 286L188.5 287L189 287.4L189.2 288L189.1 289L189.4 290L190 290.3L190.8 290L190.7 289L190.8 288L190.7 287L190.6 286L191 285.6L192 285L192.1 285L192.7 284L192 283.5L191 283.2L190.3 284ZM185.6 287L185 287.3L184 287.7L183 287.4L182 287.6L181.8 288L181.8 289L181.8 290L181 290.4L180.6 291L180.6 292L181 292.6L182 292.8L183 292.1L183.1 292L184 291.4L185 291.5L185.9 291L186 291L186.1 291L187 291.3L187.7 292L188 292.2L188.3 292L188.9 291L188 290.3L187 290.4L186.8 290L186.8 289L187 288L187 288L187.8 287L187 286.4L186 286.7L185.6 287ZM191.1 289L191.1 290L192 290.4L192.4 290L192.9 289L192 288.3L191.1 289ZM191 292L191 292L191 292L191 292L191 292ZM193.8 295L193.3 296L194 297L194 297L194.5 297L195 297L196 296L196 295L195 294.6L194 294.9L193.8 295ZM185.8 296L186 296.5L186.4 296L186 295.6L185.8 296ZM187 297L187 297L187 297L187 297L187 297ZM188.6 297L189 297.1L190 297L189 296.9L188.6 297ZM197.9 297L197 297.9L196.9 298L197 298.5L197.4 299L198 299.3L198.2 299L199 298.3L199.3 298L199 297L199 297L198 297L197.9 297ZM205.7 300L205.6 301L205 301.8L204.9 302L205 302.3L205.7 303L206 303.1L206.2 303L206.7 302L206.3 301L206 300L206 299.9L205.7 300ZM181 301L181 301.1L182 301.3L182.6 301L182 300.5L181 300.9L181 301ZM208.5 301L208 302L208.4 303L209 303.6L209.6 304L210 304.5L210.7 304L211 303.9L211.6 303L211.7 302L211.6 301L211 300.4L210 300.1L209 300.3L208.5 301ZM184.2 302L184.9 303L184.9 304L184 304.6L183.1 305L184 305.1L185 305.2L186 305.2L187 305.3L188 305.4L189 305.2L190 305.2L191 305.3L192 305.1L193 305L193 305L193 305L194 305.2L195 305.4L196 305.2L196.4 305L196 304.4L195 304.1L194 304.2L193.8 304L193.6 303L193 302.3L192 302.2L191 303L191 303L190 304L189.9 304L189 304.3L188.6 304L188 303.8L187 304L186.7 304L186 304L185.9 304L186 303.9L186.3 303L186 302.8L185.1 302L185 301.8L184.2 302ZM195.7 303L196 303.3L196.1 303L196 302.8L195.7 303ZM218 275.7L218.2 276L218 276.3L217.9 276L218 275.7ZM223 275.9L223.2 276L223 276.2L222.7 276L223 275.9ZM231 276.5L232 276.6L232.5 277L233 277.7L234 277.9L235 277.7L236 277.4L237 277.5L238 277.6L238.3 278L238 278.3L237.5 279L237.7 280L238 280.7L238.2 281L239 281.9L239.1 282L240 283L240 283L241 283.8L242 283.7L243 283.3L244 283.1L244.8 284L244.8 285L244 286L244.2 287L244.7 288L244.4 289L244 289.5L243.5 289L243.4 288L243 287.5L242.5 287L243 286.1L243.8 286L243 285.9L242 285.8L241 285.9L240.8 286L240 286.3L239.2 286L239 285.9L238 285.7L237.3 286L237 286.1L236.6 286L236 285.8L235.1 285L235 284.7L234.3 284L234.5 283L234.9 282L234.8 281L234.3 280L234 279.9L233 279.1L232 279.3L231 279.8L230.5 280L231 280.1L232 280.8L232.2 281L232.3 282L232.6 283L233 284L232.9 285L233 285.1L234 285L234.7 286L234.2 287L234 287.3L233 287.3L232 287.1L231 287.7L230.7 288L231 288.3L232 288.7L232.3 289L232 289.7L231.8 290L231 290.2L230.5 290L230.1 289L230 288.8L229 288.3L228.6 288L228.1 287L228.1 286L228.5 285L228.9 284L229 283.5L229.1 283L229 282.7L228.5 282L228 281.6L227.5 281L228 280.2L228.8 281L229 281.3L229.1 281L229.6 280L229.4 279L229.1 278L230 277.4L230.3 277L231 276.5ZM66 278.6L67 278.8L67.2 279L67 279.2L66 279.3L65.6 279L66 278.6ZM72 279L73 279L73 279L73 279.3L72.3 280L73 280.5L73.1 281L73.4 282L73 282.1L72.7 282L72 281.3L71.7 281L71.9 280L72 279L72 279ZM134 278.8L135 278.1L135.5 279L135.3 280L135 280.6L134 280.3L133.7 280L133.4 279L134 278.8ZM220 278.6L221 278.4L222 278.5L222.1 279L222 279.9L221.6 280L221 280.1L220 280.3L219.8 280L219.5 279L220 278.6ZM206 279.9L206.2 280L206 280.5L205.8 280L206 279.9ZM128 280.6L128.3 281L128 282L128 282.4L128 282L127.6 281L128 280.6ZM97 281.4L97.4 282L97.9 283L97 283.6L96 283L96 283L96 283L96.8 282L97 281.4ZM180 281.6L181 281.1L181.4 282L181.4 283L181 283.4L180 283.9L179.2 283L179.5 282L180 281.6ZM204 281.9L204.1 282L204 282.1L203.9 282L204 281.9ZM134 282.7L134.1 283L134 283.1L133.8 283L134 282.7ZM214 282.7L215 282.9L215.1 283L215 283.1L214 283.3L213.7 283L214 282.7ZM69 283.9L69.1 284L69 284.3L68.8 284L69 283.9ZM106 283.5L106.8 284L106 284.4L105.1 284L106 283.5ZM141 283.8L141.2 284L141.3 285L141 285.4L140.7 285L140.8 284L141 283.8ZM220 283.3L221 283.5L221.5 284L221.3 285L221 286L222 286.6L222.7 287L222 287.6L221.5 288L221 288.2L220.4 288L220.3 287L220 286.6L219.1 287L219 287.3L218 287.4L217.9 287L217.6 286L218 285.8L219 285.4L219.2 285L219.5 284L220 283.3ZM225 283.5L226 283.9L226.1 284L226 284.3L225.2 285L225 285.1L224 285.2L223.9 285L224 284.4L224.2 284L225 283.5ZM208 284.5L209 284.9L209.1 285L209.1 286L209 286.2L208.3 287L208 287.3L207.6 287L207 286.3L206.9 286L207 285.5L207.2 285L208 284.5ZM75 286L75 286L75 286.4L75 286L75 286ZM172 285.4L173 285.4L173.8 286L173.7 287L173 287.7L172.7 288L172 288.6L171.2 288L171 287.7L170.7 287L171 286.6L171.5 286L172 285.4ZM73 287.8L73.2 288L73 288.1L72.9 288L73 287.8ZM90 287.5L90.1 288L90.3 289L90 289.3L89.9 289L89.9 288L90 287.5ZM176 287.5L177 287.7L177.3 288L177 288.5L176 288.9L175.5 289L175 290L175 290L175 290L174.9 289L175 288.9L175.5 288L176 287.5ZM212 288.6L212.1 289L213 289.5L214 289.5L214.5 289L215 288.6L215.2 289L215.2 290L215 290.3L214 290.3L213 290.6L212.8 291L212 291.6L211 291.5L210.5 291L210.3 290L211 289.1L211.5 289L212 288.6ZM209 289.8L209.4 290L209 290.5L208.5 290L209 289.8ZM107 291.1L108 292L108.2 292L109 292.3L109.1 292L110 291.3L111 291.4L112 291.9L113 291.9L113.6 292L114 293L113.2 294L113 294.2L112.4 295L112 296L111.5 295L111.7 294L111 293.5L110.2 293L110 292.8L109.7 293L109.3 294L109.3 295L109 295.7L108 295.9L107 295.7L106.4 295L106.4 294L106.3 293L106.4 292L107 291.1ZM214 291.6L214.4 292L214.5 293L214 293.9L213.9 294L213.7 295L213.9 296L214 296.1L214.1 297L214.3 298L214.4 299L214 299.7L213 299.4L212.8 299L213 298.5L213.3 298L213 297.2L213 297L212 296.3L211.6 296L211.5 295L211.8 294L212 293.8L212.6 293L213 292.4L213.6 292L214 291.6ZM226 291.7L226.5 292L226.9 293L226.1 294L226 294L225 294L225 294L224.4 293L225 292.4L225.6 292L226 291.7ZM241 291.4L242 291.4L242.3 292L242.3 293L243 293.6L243.6 294L244 294.5L244.1 295L244 295.4L243.1 295L243 295L242.8 295L242 295L241.9 295L241.1 294L241 293.6L240.9 293L240.8 292L241 291.4ZM210 292.9L210.1 293L210 293.5L209.4 293L210 292.9ZM235 294.7L235.5 295L235.3 296L235 296.2L234.7 296L234.7 295L235 294.7ZM104 295.8L104.7 296L105 296.1L106 296.7L106.2 297L106.9 298L107 298.1L108 298.9L108 299L108.4 300L108.4 301L108 301.4L107 301.4L106.3 301L106 300.8L105 300.4L104 300L104 300L103 299L102.9 299L102 298.5L101.6 298L102 297.5L102.3 297L103 296L103 296L104 295.8ZM242 298.9L242.1 299L242 299.1L241.9 299L242 298.9ZM234 299.4L234.3 300L234 300.1L233.4 300L234 299.4ZM172 300.7L172.7 301L172.6 302L172 302.8L171.2 302L171.5 301L172 300.7ZM74 301.4L74.1 302L74 302.1L73.9 302L74 301.4ZM221 301.8L221.1 302L221 302.2L220.7 302L221 301.8ZM103 302.9L103 303L103.2 304L103.7 305L103 305.3L102.2 305L102.8 304L102.9 303L103 302.9ZM107 302.6L108 302.4L109 303L108.7 304L108 304.3L107 304.2L106.5 304L106.5 303L107 302.6Z"/><path fill="#a7ff50" fill-rule="evenodd" d="M198 297L199 297L199 297L199.3 298L199 298.3L198.2 299L198 299.3L197.4 299L197 298.5L196.9 298L197 297.9L197.9 297L198 297ZM181 300.9L182 300.5L182.6 301L182 301.3L181 301.1L181 301L181 300.9ZM185 301.8L185.1 302L186 302.8L186.3 303L186 303.9L185.9 304L186 304L186.7 304L187 304L188 303.8L188.6 304L189 304.3L189.9 304L190 304L191 303L191 303L192 302.2L193 302.3L193.6 303L193.8 304L194 304.2L195 304.1L196 304.4L196.4 305L196 305.2L195 305.4L194 305.2L193 305L193 305L193 305L192 305.1L191 305.3L190 305.2L189 305.2L188 305.4L187 305.3L186 305.2L185 305.2L184 305.1L183.1 305L184 304.6L184.9 304L184.9 303L184.2 302L185 301.8ZM196 302.8L196.1 303L196 303.3L195.7 303L196 302.8Z"/><path fill="#90ff66" d="M131 217h1v1h-1zM91 75h2v1h-2zM172 174h2v1h-2zM215 85h2v2h-2zM118 141h1v2h-1zM174 72h2v1h-2zM146 187h2v1h-2zM171 56h1v2h-1zM75 216h1v1h-1zM118 65h1v1h-1zM85 136h2v1h-2zM110 165h1v1h-1zM163 80h1v1h-1zM234 207h1v1h-1zM79 82h2v1h-2zM134 96h1v1h-1zM114 144h2v1h-2zM77 223h1v2h-1zM64 193h1v1h-1zM203 61h1v2h-1zM220 158h1v2h-1zM120 105h1v1h-1zM224 132h2v1h-2zM201 147h1v1h-1zM158 124h2v2h-2zM69 161h1v1h-1zM228 92h1v1h-1zM105 61h2v2h-2zM232 191h1v1h-1zM209 81h1v1h-1zM210 207h1v2h-1zM104 124h1v1h-1zM64 138h1v2h-1zM85 108h1v1h-1zM157 173h1v1h-1zM238 92h1v1h-1zM115 54h1v1h-1zM72 97h1v2h-1zM89 135h1v2h-1zM185 183h2v1h-2zM130 160h1v1h-1zM79 196h1v2h-1zM70 153h1v2h-1zM156 88h1v2h-1zM189 116h1v2h-1zM125 68h1v1h-1zM110 165h1v1h-1zM159 91h2v1h-2zM227 160h1v1h-1zM195 207h1v1h-1zM180 62h2v1h-2zM173 49h2v1h-2zM64 76h1v1h-1zM182 87h1v2h-1zM122 180h1v1h-1zM183 149h2v1h-2zM111 91h1v1h-1zM225 160h1v1h-1zM168 135h2v1h-2zM114 52h1v2h-1zM234 217h1v1h-1zM66 213h1v1h-1zM238 199h2v1h-2zM218 104h2v1h-2zM233 171h1v2h-1zM175 224h2v1h-2zM223 179h1v1h-1zM128 100h1v1h-1zM221 210h1v1h-1zM208 163h1v1h-1zM225 108h1v2h-1zM168 54h1v1h-1zM115 153h2v2h-2zM213 112h2v1h-2zM203 86h1v2h-1zM72 142h1v1h-1zM195 221h1v1h-1zM208 96h1v2h-1zM68 219h1v1h-1zM137 78h2v2h-2zM163 175h1v2h-1zM237 179h1v1h-1zM139 92h1v1h-1zM66 68h2v2h-2zM219 173h1v2h-1zM152 132h2v1h-2zM136 157h1v2h-1zM131 159h1v1h-1zM183 77h2v1h-2zM68 152h1v1h-1zM134 162h1v1h-1zM234 116h1v1h-1zM99 60h2v2h-2zM80 169h2v1h-2zM217 52h1v2h-1zM85 172h1v1h-1zM197 191h2v2h-2zM200 191h1v1h-1zM131 186h1v1h-1zM219 124h1v1h-1zM82 208h1v1h-1zM121 207h1v2h-1zM228 64h1v1h-1zM236 150h1v1h-1zM116 106h1v1h-1zM207 188h2v1h-2zM73 145h1v1h-1zM127 68h2v1h-2zM176 65h2v1h-2zM76 194h1v2h-1zM78 223h1v1h-1zM211 216h1v1h-1zM131 62h1v1h-1zM140 209h2v1h-2zM65 131h2v2h-2zM84 163h1v1h-1zM238 114h2v1h-2zM104 219h2v1h-2zM71 206h1v1h-1zM76 146h1v1h-1zM178 171h1v1h-1zM169 208h2v2h-2zM236 206h1v1h-1zM113 81h1v1h-1zM169 61h1v1h-1zM190 143h1v1h-1zM188 76h1v1h-1zM236 177h1v1h-1zM233 202h2v2h-2zM132 192h1v2h-1zM171 115h1v1h-1zM216 131h1v2h-1zM73 201h1v1h-1zM244 146h1v1h-1zM218 92h1v2h-1zM237 155h2v1h-2zM175 111h2v1h-2zM158 185h1v1h-1zM163 147h1v1h-1zM87 53h1v1h-1zM191 85h2v2h-2zM127 153h1v1h-1zM228 109h1v1h-1zM135 158h1v1h-1zM90 212h1v2h-1zM147 222h1v1h-1zM178 90h2v2h-2zM86 75h2v1h-2zM96 109h1v1h-1zM184 78h2v2h-2zM94 97h2v2h-2zM85 130h2v1h-2zM155 170h2v1h-2zM177 62h1v1h-1zM74 97h1v1h-1zM97 85h1v1h-1zM176 113h1v1h-1zM70 92h1v1h-1zM156 142h2v1h-2zM160 91h2v1h-2zM67 105h2v1h-2zM85 206h1v1h-1zM207 136h2v1h-2zM170 180h1v2h-1zM115 112h1v1h-1zM128 223h1v2h-1zM82 75h2v2h-2zM97 98h2v1h-2zM78 141h1v1h-1zM83 118h1v1h-1zM212 93h2v1h-2zM232 147h1v2h-1zM203 81h1v1h-1zM155 91h2v1h-2zM116 151h2v1h-2zM160 57h1v2h-1zM75 224h1v1h-1zM109 169h1v1h-1zM149 121h1v1h-1zM214 219h2v1h-2zM234 80h2v1h-2zM168 197h2v1h-2zM100 77h2v1h-2zM184 141h1v1h-1zM134 193h1v1h-1zM147 101h1v1h-1zM105 208h1v1h-1zM228 159h2v1h-2zM177 107h2v1h-2zM176 142h1v1h-1zM91 103h2v1h-2zM69 149h1v1h-1zM125 194h2v1h-2zM86 118h1v2h-1zM105 176h1v1h-1zM189 144h2v1h-2zM96 209h1v1h-1zM147 216h2v1h-2zM155 156h2v1h-2zM233 148h1v1h-1zM192 75h1v1h-1zM140 179h1v1h-1zM145 68h1v1h-1zM86 211h1v1h-1zM171 119h2v1h-2zM209 48h1v1h-1zM161 211h1v1h-1zM197 128h2v1h-2zM89 79h1v1h-1zM230 112h1v1h-1zM65 166h2v1h-2zM90 121h2v1h-2zM154 153h2v1h-2zM101 207h2v2h-2zM70 132h1v2h-1zM204 128h1v1h-1zM136 147h2v2h-2zM220 216h1v2h-1zM180 120h2v2h-2zM193 165h2v2h-2zM105 167h2v2h-2zM209 79h1v2h-1zM81 91h1v1h-1zM214 118h1v2h-1zM116 207h2v2h-2zM101 52h2v1h-2zM140 206h1v1h-1zM110 115h1v2h-1zM177 120h1v1h-1zM117 216h1v2h-1zM221 134h1v1h-1zM140 51h2v1h-2zM178 93h2v1h-2zM242 141h2v2h-2zM66 210h2v1h-2zM113 146h1v1h-1zM101 49h2v1h-2zM222 154h1v1h-1zM95 210h1v1h-1zM157 56h2v1h-2zM78 155h2v1h-2zM116 111h1v2h-1zM166 132h1v1h-1zM196 86h2v2h-2zM171 57h1v1h-1zM124 185h2v2h-2zM196 136h1v1h-1zM108 193h1v1h-1zM113 153h1v2h-1zM230 72h1v1h-1zM97 144h1v1h-1zM210 165h1v1h-1zM108 135h2v1h-2zM235 55h1v1h-1zM96 149h1v2h-1zM190 100h1v1h-1zM235 132h1v1h-1zM121 195h2v1h-2zM105 69h2v1h-2zM125 177h2v1h-2zM161 188h1v1h-1zM224 157h2v2h-2zM221 51h1v1h-1zM234 190h1v1h-1zM203 119h1v1h-1zM222 223h1v1h-1zM140 179h2v2h-2zM128 99h2v2h-2zM71 51h1v1h-1zM133 168h2v1h-2zM206 63h1v1h-1zM235 131h1v2h-1zM243 89h1v1h-1zM174 139h2v2h-2zM103 81h1v1h-1zM74 220h1v1h-1zM244 78h1v1h-1zM190 75h1v2h-1zM104 143h1v1h-1zM80 204h2v2h-2zM225 218h1v1h-1zM182 146h2v1h-2zM131 94h1v1h-1zM78 87h1v2h-1zM218 136h1v1h-1zM213 109h1v1h-1zM112 204h1v1h-1zM218 202h1v1h-1zM190 169h1v1h-1zM92 204h1v2h-1zM213 70h1v1h-1zM92 193h1v1h-1zM64 99h1v1h-1zM178 94h1v1h-1zM205 67h1v1h-1zM238 108h1v1h-1zM82 214h1v2h-1zM118 174h2v1h-2zM126 158h2v1h-2zM240 220h1v2h-1zM201 52h2v1h-2zM152 185h1v1h-1zM113 225h1v1h-1zM93 189h1v2h-1zM78 169h1v2h-1zM236 74h1v1h-1zM139 161h1v2h-1zM242 120h1v2h-1zM102 53h1v1h-1zM220 132h1v2h-1zM221 186h1v1h-1zM202 159h2v2h-2zM231 157h1v1h-1zM84 70h1v1h-1zM99 135h2v1h-2zM112 189h1v1h-1zM65 60h1v1h-1zM172 99h1v1h-1zM205 55h1v2h-1zM107 223h2v1h-2zM176 173h1v2h-1zM122 140h2v1h-2zM69 61h1v2h-1zM166 170h1v2h-1zM93 66h1v1h-1zM69 214h2v1h-2zM192 203h1v1h-1zM125 193h2v1h-2zM163 193h1v1h-1zM159 178h2v2h-2zM108 76h1v2h-1zM241 107h2v1h-2zM183 136h1v1h-1zM105 225h1v1h-1zM99 169h2v2h-2zM110 130h1v1h-1zM198 123h1v1h-1zM243 55h1v1h-1zM143 177h1v1h-1zM227 123h2v1h-2zM229 85h1v1h-1zM196 71h1v1h-1zM96 90h1v2h-1zM218 135h2v1h-2zM144 139h1v1h-1zM93 117h1v2h-1zM183 105h1v2h-1zM240 128h2v2h-2zM94 140h1v1h-1zM141 92h1v1h-1zM93 77h2v1h-2zM184 132h1v1h-1zM170 202h2v2h-2zM112 58h1v1h-1zM70 69h1v1h-1zM121 138h2v2h-2zM243 219h2v1h-2zM179 202h1v1h-1zM152 166h2v2h-2zM119 173h2v1h-2zM240 64h1v1h-1zM221 79h1v1h-1zM235 169h1v1h-1zM221 149h2v1h-2zM188 168h2v1h-2zM135 163h2v1h-2zM245 56h1v1h-1zM221 187h1v1h-1zM223 119h1v1h-1zM210 183h1v1h-1zM212 69h1v2h-1zM122 113h1v1h-1zM134 127h2v1h-2zM104 61h1v1h-1zM176 130h1v1h-1zM157 133h2v1h-2zM132 118h1v1h-1zM174 184h1v1h-1zM237 51h2v2h-2zM181 207h2v1h-2zM74 214h1v2h-1zM151 93h2v1h-2zM209 143h1v1h-1zM193 96h1v2h-1zM96 169h2v1h-2zM192 67h1v2h-1zM238 134h1v1h-1zM71 160h1v1h-1zM212 205h2v2h-2zM174 121h1v1h-1zM127 90h1v2h-1zM213 123h1v2h-1zM177 128h1v2h-1zM197 201h2v2h-2zM67 162h1v1h-1zM105 117h1v1h-1zM243 72h1v1h-1zM141 175h1v1h-1zM86 66h1v1h-1zM113 62h2v1h-2zM98 105h2v1h-2zM76 140h2v1h-2zM106 144h1v1h-1zM160 105h1v1h-1zM244 165h1v1h-1zM148 58h1v1h-1zM95 170h2v1h-2zM81 128h1v1h-1zM184 189h1v2h-1zM136 75h1v1h-1zM161 197h1v1h-1zM79 182h2v1h-2zM205 174h2v1h-2zM111 112h2v1h-2zM164 102h1v1h-1zM172 139h1v1h-1zM244 199h2v1h-2zM84 193h1v1h-1zM221 191h1v1h-1zM78 119h2v1h-2zM126 221h1v1h-1zM87 201h1v1h-1zM173 184h2v1h-2zM136 74h1v2h-1zM68 72h1v1h-1zM239 124h1v1h-1zM143 66h1v2h-1zM176 163h2v2h-2zM205 129h2v1h-2zM74 171h1v2h-1zM89 69h1v2h-1zM189 59h1v1h-1zM211 157h1v1h-1zM159 123h2v1h-2zM145 82h1v1h-1zM214 178h1v2h-1zM139 133h2v2h-2zM201 72h1v2h-1zM65 90h1v1h-1zM238 134h2v1h-2zM146 198h2v1h-2zM90 105h1v1h-1zM131 118h1v1h-1zM225 218h1v1h-1zM188 125h2v1h-2zM70 208h1v1h-1zM183 207h1v1h-1zM75 140h2v1h-2zM156 169h2v2h-2zM193 60h2v2h-2zM237 179h1v2h-1zM127 185h1v2h-1zM95 65h1v1h-1zM111 51h2v1h-2zM117 184h1v1h-1zM100 69h1v1h-1zM180 142h2v1h-2zM208 100h1v1h-1zM169 181h1v1h-1zM86 108h1v2h-1zM131 124h1v1h-1zM235 90h2v2h-2zM224 162h2v1h-2zM220 198h1v2h-1zM200 129h1v1h-1zM204 164h2v1h-2zM242 214h2v2h-2zM87 177h1v2h-1zM155 197h1v1h-1zM170 138h2v1h-2zM188 203h1v1h-1zM92 130h2v2h-2zM195 224h2v1h-2zM209 84h1v1h-1zM175 81h1v1h-1zM164 48h1v2h-1zM199 84h1v1h-1zM123 74h1v1h-1zM244 113h1v1h-1zM224 153h1v1h-1zM190 48h1v1h-1zM208 64h1v1h-1zM180 59h1v1h-1zM165 155h1v1h-1zM112 194h1v2h-1zM74 107h1v1h-1zM207 140h1v2h-1zM123 125h2v2h-2zM172 178h1v1h-1zM180 122h1v1h-1zM85 120h1v1h-1zM167 152h2v1h-2zM124 52h2v1h-2zM113 140h2v1h-2zM110 124h1v1h-1zM97 190h1v1h-1zM87 62h1v1h-1zM143 177h1v2h-1zM174 72h1v1h-1zM237 60h2v2h-2zM111 91h1v2h-1zM112 183h1v1h-1zM75 134h2v2h-2zM228 72h1v1h-1zM126 208h2v1h-2zM238 147h1v2h-1zM139 94h1v1h-1zM110 164h2v1h-2zM147 221h1v1h-1zM84 74h2v2h-2zM218 147h1v2h-1zM220 176h2v1h-2zM162 62h1v1h-1zM93 216h1v1h-1zM147 121h1v1h-1zM74 139h1v1h-1zM72 187h2v2h-2zM93 106h1v1h-1zM100 204h1v1h-1zM106 128h1v1h-1zM68 59h1v1h-1zM161 136h2v1h-2zM213 115h1v1h-1zM100 141h2v1h-2zM168 160h1v1h-1zM230 142h2v1h-2zM207 104h1v1h-1zM113 223h2v2h-2zM97 207h1v2h-1zM143 157h2v1h-2zM209 137h1v1h-1zM242 166h1v2h-1zM224 124h2v2h-2zM165 141h1v1h-1zM77 178h2v1h-2zM212 144h1v1h-1zM149 194h1v1h-1zM153 195h1v2h-1zM193 195h2v2h-2zM89 109h1v1h-1zM182 158h1v1h-1zM149 222h1v2h-1zM186 105h1v2h-1zM95 200h2v1h-2zM114 162h1v1h-1zM119 85h2v1h-2zM182 215h1v1h-1zM206 166h2v1h-2zM185 147h2v1h-2zM147 201h1v1h-1zM241 67h1v2h-1zM198 211h2v1h-2zM116 210h1v1h-1zM66 219h1v1h-1zM214 98h1v2h-1zM191 144h2v2h-2zM65 131h1v1h-1zM117 101h1v2h-1zM227 199h1v1h-1zM225 80h2v2h-2zM208 54h1v1h-1zM219 140h2v1h-2zM172 68h2v1h-2zM185 195h1v1h-1zM157 124h1v1h-1zM204 155h1v1h-1zM173 160h1v1h-1zM106 139h2v1h-2zM152 164h1v1h-1zM198 138h1v2h-1zM109 112h1v2h-1zM88 97h1v1h-1zM151 82h1v2h-1zM101 139h2v2h-2zM103 54h2v1h-2zM209 149h1v2h-1zM233 118h2v1h-2zM84 109h1v1h-1zM153 173h1v2h-1zM113 118h1v1h-1zM228 175h1v1h-1zM213 218h1v2h-1zM179 57h2v2h-2zM173 170h2v1h-2zM146 113h2v1h-2zM200 60h2v1h-2zM234 167h1v1h-1zM171 49h1v1h-1zM174 203h1v2h-1zM227 59h1v2h-1zM65 123h2v1h-2zM168 55h2v1h-2zM125 177h1v1h-1zM189 124h1v2h-1zM119 188h1v1h-1zM213 200h1v1h-1zM121 151h1v1h-1zM191 170h1v2h-1zM141 73h1v1h-1zM91 52h1v1h-1zM125 60h1v1h-1zM186 155h1v2h-1zM243 128h1v2h-1zM151 52h1v1h-1zM133 54h2v1h-2zM92 52h1v1h-1zM116 208h2v1h-2zM120 206h1v1h-1zM242 99h1v1h-1zM133 108h1v2h-1zM164 144h1v1h-1zM143 101h2v2h-2zM73 108h2v1h-2zM165 109h1v2h-1zM144 159h1v1h-1zM244 204h1v1h-1zM176 83h1v2h-1zM150 144h2v1h-2zM229 176h1v1h-1zM87 188h2v1h-2zM113 204h1v2h-1zM147 222h1v1h-1zM170 114h2v2h-2zM202 116h1v1h-1zM168 202h1v1h-1zM214 184h1v1h-1zM99 67h1v1h-1zM217 206h2v1h-2zM145 138h1v1h-1zM66 132h1v1h-1zM189 71h2v1h-2zM209 97h2v1h-2zM65 225h1v1h-1zM117 50h1v1h-1zM198 73h1v1h-1zM183 184h1v1h-1zM79 134h2v1h-2zM137 59h1v2h-1zM210 216h2v1h-2zM158 101h2v1h-2zM208 173h2v2h-2zM136 100h2v2h-2zM209 213h1v1h-1zM122 132h2v1h-2zM241 155h1v1h-1zM85 206h1v1h-1zM170 159h2v1h-2zM107 175h1v1h-1zM164 140h2v1h-2zM112 136h2v2h-2zM178 57h1v1h-1zM63 138h2v2h-2zM192 59h1v2h-1zM108 179h1v2h-1zM129 96h1v1h-1zM207 206h1v1h-1zM132 219h2v1h-2zM153 117h1v1h-1zM64 77h1v1h-1zM239 183h1v1h-1zM117 66h1v1h-1zM72 112h1v1h-1zM142 129h2v1h-2zM130 57h1v1h-1zM213 199h2v1h-2zM149 204h2v1h-2zM174 100h2v1h-2zM197 104h1v1h-1zM193 83h1v2h-1zM130 58h2v1h-2zM112 196h2v1h-2zM124 51h2v1h-2zM153 119h1v1h-1zM65 130h1v1h-1zM186 103h1v1h-1zM158 221h2v2h-2zM203 191h2v2h-2zM66 100h1v1h-1zM126 114h2v2h-2zM181 221h1v2h-1zM227 187h1v1h-1zM135 101h2v2h-2zM108 134h1v1h-1zM74 218h1v1h-1zM243 144h1v2h-1zM130 88h2v2h-2zM176 187h1v2h-1zM211 161h1v1h-1zM110 109h1v2h-1zM149 206h1v2h-1zM90 49h1v1h-1zM87 218h1v2h-1zM154 168h2v2h-2zM210 129h1v1h-1zM71 77h1v2h-1zM72 198h1v1h-1zM218 91h1v2h-1zM236 225h1v1h-1zM167 94h1v1h-1zM76 158h1v2h-1zM207 209h1v1h-1zM158 221h1v2h-1zM150 175h2v1h-2zM184 76h1v1h-1zM154 50h2v1h-2zM232 88h1v2h-1zM122 198h1v2h-1zM141 53h1v1h-1zM85 99h1v1h-1zM244 55h1v1h-1zM134 182h1v1h-1zM168 111h1v2h-1zM166 111h1v2h-1zM98 211h2v1h-2zM103 54h2v2h-2zM221 98h1v1h-1zM142 151h1v1h-1zM114 110h1v1h-1zM225 122h1v1h-1zM154 84h1v2h-1zM123 200h2v2h-2zM76 215h1v1h-1zM211 196h1v1h-1zM203 164h2v1h-2zM161 98h1v2h-1zM86 184h2v1h-2zM158 57h1v2h-1zM118 102h2v2h-2zM196 220h2v1h-2zM198 199h1v1h-1zM122 174h1v2h-1zM131 208h1v1h-1zM200 117h1v1h-1zM77 144h1v2h-1zM205 151h1v2h-1zM111 155h2v1h-2zM201 66h1v1h-1zM130 214h1v1h-1zM193 130h1v1h-1zM196 201h2v1h-2zM99 109h1v1h-1zM219 172h1v1h-1zM235 136h1v2h-1zM206 178h1v2h-1zM216 50h1v1h-1zM143 89h1v1h-1zM162 220h2v1h-2zM194 201h2v1h-2zM164 118h2v1h-2zM92 103h2v1h-2zM185 189h2v1h-2zM167 196h1v2h-1zM186 57h1v2h-1zM119 110h1v1h-1zM196 120h2v1h-2zM115 125h1v1h-1zM73 114h1v1h-1zM185 160h2v1h-2zM200 66h2v2h-2zM142 222h2v1h-2zM96 220h2v1h-2zM197 173h1v1h-1zM135 95h2v1h-2zM112 99h1v1h-1zM173 61h2v1h-2zM117 64h1v1h-1zM181 95h2v1h-2zM109 168h1v1h-1zM120 96h1v1h-1zM235 66h2v1h-2zM197 205h2v1h-2zM191 169h1v2h-1zM169 93h1v1h-1zM136 197h2v1h-2zM241 66h2v1h-2zM80 181h1v1h-1zM110 125h1v2h-1zM170 157h1v2h-1zM193 64h2v1h-2zM197 50h2v2h-2zM112 92h2v1h-2zM196 155h1v2h-1zM236 197h1v1h-1zM233 144h2v1h-2zM198 179h1v2h-1zM131 211h1v1h-1zM112 113h1v1h-1zM206 128h1v2h-1zM191 124h1v1h-1zM233 59h1v2h-1zM144 51h1v1h-1zM73 135h1v2h-1zM202 120h1v2h-1zM92 76h2v2h-2zM184 204h1v1h-1zM83 99h1v2h-1zM157 143h1v1h-1zM214 188h1v1h-1zM236 106h1v1h-1zM234 203h2v1h-2zM164 137h2v1h-2zM186 197h1v1h-1zM143 156h2v1h-2zM96 171h2v2h-2zM93 48h1v1h-1zM157 76h2v2h-2zM93 206h2v1h-2zM82 87h1v1h-1zM108 58h1v2h-1zM103 218h1v1h-1zM139 124h1v1h-1zM191 78h1v1h-1zM221 160h1v2h-1zM173 68h1v2h-1zM189 84h1v1h-1zM100 138h1v2h-1zM207 60h1v1h-1zM177 170h2v2h-2zM195 143h1v1h-1zM216 134h1v1h-1zM145 80h1v1h-1zM148 61h1v1h-1zM227 84h2v1h-2zM134 144h1v2h-1zM181 61h1v1h-1zM142 225h1v1h-1zM103 110h1v2h-1zM130 130h1v1h-1zM192 49h2v1h-2zM151 48h1v1h-1zM163 59h1v1h-1zM205 181h1v1h-1zM89 167h1v1h-1zM94 82h1v1h-1zM228 183h1v1h-1zM225 151h1v2h-1zM149 175h2v2h-2zM120 90h2v1h-2zM228 138h2v2h-2zM190 116h1v1h-1zM208 96h1v2h-1zM234 161h1v2h-1zM98 171h2v1h-2zM111 165h1v1h-1zM201 81h2v1h-2zM130 124h2v2h-2zM69 204h2v1h-2zM70 166h1v1h-1zM225 105h1v1h-1zM213 198h2v1h-2zM75 64h1v1h-1zM199 191h1v1h-1zM107 55h1v2h-1zM67 112h1v1h-1zM120 164h2v2h-2zM202 159h1v2h-1zM215 158h1v1h-1zM220 152h1v1h-1zM201 126h1v1h-1zM105 154h1v1h-1zM125 141h2v1h-2zM242 163h1v1h-1zM171 57h1v1h-1zM186 114h1v2h-1zM154 170h1v1h-1zM113 75h1v1h-1zM96 173h1v1h-1zM215 78h2v1h-2zM174 172h1v1h-1zM238 143h1v1h-1zM91 149h2v1h-2zM169 153h1v2h-1zM69 123h2v1h-2zM223 205h1v2h-1zM220 205h2v1h-2zM115 190h1v2h-1zM226 158h1v1h-1zM217 59h1v2h-1zM241 193h1v1h-1zM78 116h2v2h-2zM105 131h2v2h-2zM93 74h1v1h-1zM239 126h2v1h-2zM122 101h2v2h-2zM110 111h1v2h-1zM101 192h2v1h-2zM220 75h2v1h-2zM118 148h1v2h-1zM169 137h2v1h-2zM113 134h2v1h-2zM119 194h2v1h-2zM146 177h1v1h-1zM204 201h1v1h-1zM216 224h1v1h-1zM99 135h1v1h-1zM151 197h1v1h-1zM137 106h1v1h-1zM86 82h1v2h-1zM166 151h1v1h-1zM105 146h1v1h-1zM89 149h2v2h-2zM103 80h1v2h-1zM232 220h1v2h-1zM131 189h1v2h-1zM164 198h1v2h-1zM185 87h2v1h-2zM108 94h2v1h-2zM207 159h1v2h-1zM146 110h2v1h-2zM231 55h2v2h-2zM106 209h1v1h-1zM201 75h1v1h-1zM172 225h1v1h-1zM214 78h2v2h-2zM125 138h1v1h-1zM156 137h2v2h-2zM163 125h1v2h-1zM68 127h2v2h-2zM195 67h1v2h-1zM95 115h1v1h-1zM200 70h1v2h-1zM186 148h1v1h-1zM75 51h1v1h-1zM204 89h1v2h-1zM238 166h1v2h-1zM174 168h1v1h-1zM235 205h1v2h-1zM114 219h2v1h-2zM192 158h1v1h-1zM125 62h1v2h-1zM125 196h1v2h-1zM131 213h2v2h-2zM93 153h2v1h-2zM144 137h2v1h-2zM183 181h1v1h-1zM228 193h1v2h-1zM64 85h1v1h-1zM136 205h1v1h-1zM120 171h2v2h-2zM97 108h1v1h-1zM85 178h1v2h-1zM153 101h1v1h-1zM93 68h1v1h-1zM126 178h1v1h-1zM212 148h1v1h-1zM136 106h2v1h-2zM209 66h1v1h-1zM85 222h2v2h-2zM171 179h2v1h-2zM160 66h2v1h-2zM117 215h1v1h-1zM110 220h1v1h-1zM72 57h1v1h-1zM104 157h2v1h-2zM128 194h1v1h-1zM127 112h1v1h-1zM101 63h1v1h-1zM216 87h1v1h-1zM213 116h1v1h-1zM233 69h1v1h-1zM160 53h1v1h-1zM92 164h1v1h-1zM193 60h1v2h-1zM175 215h1v2h-1zM128 146h1v1h-1zM211 156h1v2h-1zM82 111h1v1h-1zM183 60h1v2h-1zM92 195h2v1h-2zM94 204h1v2h-1zM154 178h1v2h-1zM224 214h1v1h-1zM178 119h1v1h-1zM186 124h1v1h-1zM90 196h1v1h-1zM141 115h1v2h-1zM217 134h1v1h-1zM167 105h2v2h-2zM64 222h1v1h-1zM196 109h1v1h-1zM235 119h1v2h-1zM243 52h1v1h-1zM188 69h1v2h-1zM176 87h1v1h-1zM139 76h2v1h-2zM201 207h2v1h-2zM81 50h1v1h-1zM93 89h2v1h-2zM240 72h2v1h-2zM232 122h2v2h-2zM167 117h2v1h-2zM65 188h1v2h-1zM170 118h1v1h-1zM113 440h2v1h-2zM131 412h2v1h-2zM214 457h2v2h-2zM212 479h2v1h-2zM124 468h2v2h-2zM200 324h1v1h-1zM124 384h1v2h-1zM167 457h1v2h-1zM90 362h1v1h-1zM187 325h2v1h-2zM190 349h1v2h-1zM224 473h2v2h-2zM138 357h1v1h-1zM186 460h1v2h-1zM197 378h1v2h-1zM78 490h2v1h-2zM241 455h1v1h-1zM221 366h1v1h-1zM138 390h1v1h-1zM218 350h1v1h-1zM213 413h1v2h-1zM212 322h1v1h-1zM117 352h1v2h-1zM221 333h2v1h-2zM186 464h1v1h-1zM171 421h1v1h-1zM141 364h1v2h-1zM189 356h1v1h-1zM103 326h2v1h-2zM218 323h1v1h-1zM150 478h1v1h-1zM65 329h2v2h-2zM178 390h1v2h-1zM117 432h1v2h-1zM225 417h1v1h-1zM76 331h1v1h-1zM230 387h2v1h-2zM116 407h1v1h-1zM207 434h1v1h-1zM117 315h2v2h-2zM183 427h1v2h-1zM196 372h1v1h-1zM125 339h2v1h-2zM230 429h2v1h-2zM196 452h2v2h-2zM193 378h2v2h-2zM161 465h1v1h-1zM157 330h1v1h-1zM173 383h2v2h-2zM120 332h2v1h-2zM144 409h1v1h-1zM169 458h1v1h-1zM136 433h1v1h-1zM87 426h2v1h-2zM189 438h1v1h-1zM154 444h1v2h-1zM68 365h1v1h-1zM218 350h2v1h-2zM83 399h1v1h-1zM79 325h2v1h-2zM162 356h1v1h-1zM71 403h1v2h-1zM119 423h1v1h-1zM169 444h1v1h-1zM148 348h1v1h-1zM128 475h2v1h-2zM73 450h1v1h-1zM186 385h1v1h-1zM138 480h2v2h-2zM169 486h1v2h-1zM125 404h2v1h-2zM245 395h1v1h-1zM84 470h1v1h-1zM183 393h1v2h-1zM211 481h1v1h-1zM91 399h1v1h-1zM136 375h2v1h-2zM93 444h2v2h-2zM164 420h1v1h-1zM126 456h1v2h-1zM166 475h1v2h-1zM89 342h1v1h-1zM78 480h1v1h-1zM214 329h1v1h-1zM214 453h2v1h-2zM86 469h1v2h-1zM194 322h1v1h-1zM169 480h1v1h-1zM210 482h2v1h-2zM79 458h2v2h-2zM143 428h1v2h-1zM172 474h1v2h-1zM144 324h1v1h-1zM170 377h1v1h-1zM213 426h1v1h-1zM138 484h1v1h-1zM103 425h1v2h-1zM74 421h1v1h-1zM104 432h2v1h-2zM93 347h2v1h-2zM72 385h1v1h-1zM133 463h2v1h-2zM74 328h1v1h-1zM223 413h1v2h-1zM81 323h2v1h-2zM180 323h1v1h-1zM117 329h2v2h-2zM85 406h2v1h-2zM243 435h1v2h-1zM133 413h2v2h-2zM185 428h1v1h-1zM139 319h1v2h-1zM81 483h1v1h-1zM120 384h2v2h-2zM96 455h1v1h-1zM149 477h2v2h-2zM127 453h1v2h-1zM222 461h2v1h-2zM138 487h2v1h-2zM124 444h1v1h-1zM215 457h1v2h-1zM189 340h1v1h-1zM136 406h1v2h-1zM186 385h2v2h-2zM236 470h1v1h-1zM101 378h1v1h-1zM139 378h1v1h-1zM92 398h1v1h-1zM101 446h2v1h-2zM205 414h2v1h-2zM166 455h1v1h-1zM152 338h2v1h-2zM172 405h2v2h-2zM153 365h1v2h-1zM169 481h2v1h-2zM80 425h1v1h-1zM158 473h2v2h-2zM220 417h1v1h-1zM210 391h1v1h-1zM167 347h2v2h-2zM108 369h1v1h-1zM141 423h2v2h-2zM94 406h2v2h-2zM136 458h2v1h-2zM185 456h1v2h-1zM91 471h1v1h-1zM184 435h1v1h-1zM194 366h1v2h-1zM105 473h2v2h-2zM88 466h1v1h-1zM107 448h1v1h-1zM138 352h1v1h-1zM233 368h1v1h-1zM189 485h1v2h-1zM185 443h1v2h-1zM155 370h1v1h-1zM199 356h1v2h-1zM99 453h1v1h-1zM200 473h1v2h-1zM237 381h1v2h-1zM151 334h2v1h-2zM210 469h1v1h-1zM219 450h2v1h-2zM235 435h1v1h-1zM181 405h2v1h-2zM209 467h2v1h-2zM123 432h1v1h-1zM235 370h1v2h-1zM191 446h1v2h-1zM222 345h2v1h-2zM150 464h1v2h-1zM215 412h2v1h-2zM156 421h1v1h-1zM214 440h2v1h-2zM185 438h1v1h-1zM195 335h1v1h-1zM72 484h1v1h-1zM112 359h1v2h-1zM204 384h2v2h-2zM162 487h1v1h-1zM126 407h1v1h-1zM155 404h2v1h-2zM108 328h1v1h-1zM139 389h1v2h-1zM212 429h1v1h-1zM110 447h1v1h-1zM171 490h1v1h-1zM126 325h2v1h-2zM103 315h1v1h-1zM198 345h2v2h-2zM195 478h1v2h-1zM156 376h1v1h-1zM194 334h2v1h-2zM105 324h2v2h-2zM134 456h1v1h-1zM186 405h1v1h-1zM65 452h1v1h-1zM151 489h1v2h-1zM161 490h1v2h-1zM192 376h2v1h-2zM106 459h1v1h-1zM63 369h2v2h-2zM75 348h1v2h-1zM139 381h1v1h-1zM153 373h2v1h-2zM74 367h2v1h-2zM93 453h2v1h-2zM86 327h1v2h-1zM212 411h2v1h-2zM108 466h2v1h-2zM65 405h1v1h-1zM228 459h1v2h-1zM115 366h1v1h-1zM162 343h1v2h-1zM119 404h1v1h-1zM180 342h1v2h-1zM132 388h2v2h-2zM237 483h1v2h-1zM96 384h1v2h-1zM202 334h1v1h-1zM204 375h1v2h-1zM90 480h1v1h-1zM177 457h2v1h-2zM120 427h1v2h-1zM172 458h1v2h-1zM99 357h2v1h-2zM172 438h1v1h-1zM100 398h1v2h-1zM83 471h1v1h-1zM68 436h1v2h-1zM174 357h1v2h-1zM90 367h2v1h-2zM64 400h2v1h-2zM232 343h1v2h-1zM198 411h1v1h-1zM160 349h2v1h-2zM123 380h1v1h-1zM236 445h1v1h-1zM72 360h1v2h-1zM198 477h1v1h-1zM238 393h1v1h-1zM229 415h1v1h-1zM125 391h1v1h-1zM207 481h1v1h-1zM210 464h1v2h-1zM136 434h1v1h-1zM128 427h2v1h-2zM162 351h2v1h-2zM151 353h1v1h-1zM237 390h1v1h-1zM159 439h2v1h-2zM85 351h2v2h-2zM241 358h1v1h-1zM163 342h1v1h-1zM196 450h1v1h-1zM125 429h2v1h-2zM85 373h1v1h-1zM135 398h1v1h-1zM221 331h1v1h-1zM96 391h2v1h-2zM160 427h2v2h-2zM71 372h1v1h-1zM184 392h1v1h-1zM232 408h2v2h-2zM195 336h1v1h-1zM166 421h2v1h-2zM175 486h1v1h-1zM202 419h2v1h-2zM176 421h1v1h-1zM124 406h2v1h-2zM97 330h1v1h-1zM143 364h1v1h-1zM233 477h1v1h-1zM197 321h1v1h-1zM231 317h1v1h-1zM151 330h1v1h-1zM175 357h1v1h-1zM77 334h1v2h-1zM98 404h1v2h-1zM168 336h2v2h-2zM215 336h2v1h-2zM217 361h1v2h-1zM145 417h1v1h-1zM120 334h1v2h-1zM203 485h1v1h-1zM172 438h2v1h-2zM146 400h1v2h-1zM121 478h2v1h-2zM229 422h1v2h-1zM125 465h1v1h-1zM81 318h1v1h-1zM173 329h1v1h-1zM168 337h1v1h-1zM137 470h1v1h-1zM176 338h1v2h-1zM228 449h1v1h-1zM96 448h1v2h-1zM175 322h1v1h-1zM90 488h2v2h-2zM100 450h1v1h-1zM67 321h1v1h-1zM224 330h1v1h-1zM134 461h2v1h-2zM200 481h1v1h-1zM234 363h1v1h-1zM202 479h2v1h-2zM197 326h1v2h-1zM118 488h1v1h-1zM241 381h1v1h-1zM221 347h1v2h-1zM122 448h1v1h-1zM144 446h2v2h-2zM118 398h2v1h-2zM136 325h1v1h-1zM91 420h1v1h-1zM191 387h1v2h-1zM189 431h2v1h-2zM241 389h1v1h-1zM194 417h1v1h-1zM146 399h1v1h-1zM190 330h1v1h-1zM76 412h1v1h-1zM100 460h1v2h-1zM240 405h2v1h-2zM219 369h2v2h-2zM117 452h1v2h-1zM93 374h1v1h-1zM243 400h2v1h-2zM147 440h1v2h-1zM81 442h2v2h-2zM70 319h1v2h-1zM148 422h1v2h-1zM206 317h1v1h-1zM142 409h1v1h-1zM225 472h1v1h-1zM232 484h1v1h-1zM114 484h2v1h-2zM114 364h1v1h-1zM73 417h2v2h-2zM143 405h2v1h-2zM79 368h1v1h-1zM124 415h1v2h-1zM211 482h2v2h-2zM238 410h2v2h-2zM145 437h1v1h-1zM115 410h1v1h-1zM94 487h1v1h-1zM173 355h1v1h-1zM157 489h1v1h-1zM204 345h1v1h-1zM142 453h1v1h-1zM168 375h1v2h-1zM104 404h2v2h-2zM181 405h1v1h-1zM167 467h2v1h-2zM221 418h1v1h-1zM80 396h1v1h-1zM107 485h1v2h-1zM126 473h1v1h-1zM121 408h1v2h-1zM197 324h2v1h-2zM127 371h1v1h-1zM98 369h1v1h-1zM144 416h1v2h-1zM187 441h1v2h-1zM186 326h1v1h-1zM101 463h2v1h-2zM147 353h2v1h-2zM76 350h1v1h-1zM162 337h2v2h-2zM102 387h1v2h-1zM130 384h1v1h-1zM209 358h2v1h-2zM112 404h1v1h-1zM217 378h1v1h-1zM74 438h2v1h-2zM123 437h1v1h-1zM211 367h1v1h-1zM189 489h2v1h-2zM174 476h2v1h-2zM166 363h1v1h-1zM168 471h1v1h-1zM157 324h2v1h-2zM119 347h1v1h-1zM110 397h2v1h-2zM221 440h2v1h-2zM210 450h2v1h-2zM215 417h1v1h-1zM159 321h1v2h-1zM142 367h1v2h-1zM189 455h2v2h-2zM89 469h1v1h-1zM82 429h1v1h-1zM177 328h2v2h-2zM110 339h2v1h-2zM235 422h1v1h-1zM83 445h2v1h-2zM125 491h2v2h-2zM232 319h1v1h-1zM215 487h1v2h-1zM213 429h1v2h-1zM181 488h1v1h-1zM70 379h1v1h-1zM147 325h1v1h-1zM232 428h1v1h-1zM75 486h1v1h-1zM128 435h1v1h-1zM112 371h2v1h-2zM70 420h1v1h-1zM145 396h2v1h-2zM212 358h1v1h-1zM223 358h1v2h-1zM82 475h1v1h-1zM72 463h1v1h-1zM162 331h1v1h-1zM97 348h2v2h-2zM170 463h2v2h-2zM167 459h1v1h-1zM172 363h2v1h-2zM177 417h1v1h-1zM100 377h2v2h-2zM186 466h1v1h-1zM97 334h1v1h-1zM176 453h1v1h-1zM73 447h1v2h-1zM180 370h1v2h-1zM169 344h1v2h-1zM106 402h1v2h-1zM89 449h1v1h-1zM90 429h2v2h-2zM187 419h1v1h-1zM145 386h1v2h-1zM117 377h1v2h-1zM230 362h1v2h-1zM182 475h2v1h-2zM145 481h1v1h-1zM97 368h2v2h-2zM82 389h1v2h-1zM87 428h2v2h-2zM93 478h1v1h-1zM182 410h1v1h-1zM177 362h2v1h-2zM225 415h1v1h-1zM93 437h1v1h-1zM242 436h2v1h-2zM82 452h1v1h-1zM178 391h1v1h-1zM202 480h1v2h-1zM222 445h2v2h-2zM112 476h1v1h-1zM110 442h2v1h-2zM177 341h1v2h-1zM182 386h1v2h-1zM66 475h2v1h-2zM245 352h2v1h-2zM239 476h1v1h-1zM88 487h1v2h-1zM117 333h2v1h-2zM132 331h1v1h-1zM178 388h2v1h-2zM212 365h2v2h-2zM85 417h1v1h-1zM216 393h1v1h-1zM95 379h1v2h-1zM129 409h1v1h-1zM212 391h1v1h-1zM224 387h1v1h-1zM139 340h2v2h-2zM222 357h2v1h-2zM121 404h2v1h-2zM218 467h1v1h-1zM89 317h2v1h-2zM146 406h2v1h-2zM194 393h1v2h-1zM211 419h2v2h-2zM177 461h1v2h-1zM221 433h1v1h-1zM100 425h1v1h-1zM150 401h1v1h-1zM209 394h1v1h-1zM153 349h1v2h-1zM230 374h1v1h-1zM178 411h2v1h-2zM81 425h1v1h-1zM103 344h1v1h-1zM192 389h1v2h-1zM242 432h2v1h-2zM83 485h2v1h-2zM108 441h1v1h-1zM175 472h2v1h-2zM108 489h1v1h-1zM188 352h2v2h-2zM138 356h2v1h-2zM239 375h1v2h-1zM187 460h2v2h-2zM207 423h2v1h-2zM119 380h1v1h-1zM136 482h1v1h-1zM151 473h1v2h-1zM233 460h1v2h-1zM210 465h2v1h-2zM72 341h1v1h-1zM180 318h1v2h-1zM89 317h1v1h-1zM184 460h2v1h-2zM147 403h2v1h-2zM155 450h1v2h-1zM181 345h1v1h-1zM92 484h1v2h-1zM177 360h1v1h-1zM241 403h1v1h-1zM87 411h1v2h-1zM139 465h1v2h-1zM80 361h1v2h-1zM194 333h1v1h-1zM207 356h1v2h-1zM193 469h2v1h-2zM171 337h1v2h-1zM190 449h2v1h-2zM211 480h1v1h-1zM160 384h1v1h-1zM149 401h1v1h-1zM136 374h1v1h-1zM106 455h1v1h-1zM82 357h1v1h-1zM94 396h1v2h-1zM122 411h1v1h-1zM144 485h1v2h-1zM107 396h1v2h-1zM192 319h1v1h-1zM125 414h2v1h-2zM73 465h2v1h-2zM127 442h1v1h-1zM86 346h1v2h-1zM99 481h1v1h-1zM231 411h2v1h-2zM183 489h2v1h-2zM72 335h2v1h-2zM209 453h1v1h-1zM91 365h1v1h-1zM161 329h2v2h-2zM138 479h1v1h-1zM148 379h2v1h-2zM206 345h1v1h-1zM177 482h1v1h-1zM72 326h2v2h-2zM198 442h2v1h-2zM91 368h2v1h-2zM109 401h1v1h-1zM73 340h2v1h-2zM73 462h1v1h-1zM165 345h2v1h-2zM171 352h2v1h-2zM67 456h1v2h-1zM88 341h1v1h-1zM205 480h1v2h-1zM107 463h2v2h-2zM191 386h1v1h-1zM79 482h2v1h-2zM136 324h1v2h-1zM136 377h1v1h-1zM91 380h1v2h-1zM208 439h2v1h-2zM82 426h2v1h-2zM205 384h1v1h-1zM164 346h1v1h-1zM180 430h1v1h-1zM230 332h1v1h-1zM201 422h2v1h-2zM194 330h1v2h-1zM124 318h1v1h-1zM176 432h1v2h-1zM85 465h2v1h-2zM216 403h1v2h-1zM118 427h1v1h-1zM75 412h1v1h-1zM110 379h1v2h-1zM213 414h1v1h-1zM101 415h1v1h-1zM239 395h2v1h-2zM236 371h1v1h-1zM127 330h1v1h-1zM205 393h1v1h-1zM133 393h1v1h-1zM159 457h1v1h-1zM185 362h2v1h-2zM195 417h1v2h-1zM175 405h1v1h-1zM78 349h1v1h-1zM148 324h2v1h-2zM161 405h2v1h-2zM94 348h1v2h-1zM108 429h1v1h-1zM139 328h2v1h-2zM172 440h2v1h-2zM70 415h1v1h-1zM161 396h1v1h-1zM75 397h2v1h-2zM146 417h1v2h-1zM155 461h1v1h-1zM233 476h2v2h-2zM198 461h1v1h-1zM172 408h2v2h-2zM147 426h1v1h-1zM114 414h2v1h-2zM200 437h1v2h-1zM154 373h1v1h-1zM188 470h2v1h-2zM74 471h1v1h-1zM156 481h2v1h-2zM219 385h2v1h-2zM133 476h1v1h-1zM243 397h2v2h-2zM142 343h1v1h-1zM112 419h1v1h-1zM223 406h1v1h-1zM164 335h2v1h-2zM112 319h1v2h-1zM171 410h1v1h-1zM75 412h1v1h-1zM141 371h1v2h-1zM175 386h2v1h-2zM111 436h1v2h-1zM211 325h1v2h-1zM233 450h1v1h-1zM181 486h1v1h-1zM157 336h1v2h-1zM171 400h1v2h-1zM98 401h1v1h-1zM140 441h1v2h-1zM138 353h1v2h-1zM131 320h2v1h-2zM100 329h1v2h-1zM78 457h1v1h-1zM219 435h2v1h-2zM217 456h1v2h-1zM217 443h1v2h-1zM104 352h1v2h-1zM75 491h2v1h-2zM129 463h1v1h-1zM232 317h2v2h-2zM185 471h1v1h-1zM97 457h1v2h-1zM153 330h1v1h-1zM89 393h1v1h-1zM170 316h1v1h-1zM130 324h1v1h-1zM107 372h2v1h-2zM91 378h1v1h-1zM133 389h1v2h-1zM77 470h2v1h-2zM230 363h1v1h-1zM223 481h1v2h-1zM185 387h1v2h-1zM98 454h1v1h-1zM133 465h1v2h-1zM84 359h1v1h-1zM160 420h1v1h-1zM158 336h2v1h-2zM233 369h1v1h-1zM108 321h2v1h-2zM99 380h1v1h-1zM84 387h1v1h-1zM212 345h1v1h-1zM164 438h1v2h-1zM184 407h1v1h-1zM228 418h2v1h-2zM201 455h1v1h-1zM112 387h1v1h-1zM188 466h2v1h-2zM121 346h2v1h-2zM109 371h2v2h-2zM167 393h1v1h-1zM226 448h1v1h-1zM91 338h1v1h-1zM108 326h2v1h-2zM178 360h1v1h-1zM182 356h1v1h-1zM189 318h1v1h-1zM162 328h1v2h-1zM186 456h1v1h-1zM183 378h1v2h-1zM167 446h1v1h-1zM147 459h1v1h-1zM183 474h2v2h-2zM192 460h1v1h-1zM79 392h2v2h-2zM204 328h1v1h-1zM171 331h1v2h-1zM238 457h1v2h-1zM233 376h2v1h-2zM235 316h2v1h-2zM94 335h1v1h-1zM150 490h1v2h-1zM244 387h2v1h-2zM118 330h2v1h-2zM215 416h1v2h-1zM114 343h2v2h-2zM207 474h1v2h-1zM223 373h2v1h-2zM179 344h1v2h-1zM197 395h1v2h-1zM128 400h1v1h-1zM196 469h1v1h-1zM218 412h1v1h-1zM136 371h1v2h-1zM238 370h2v1h-2zM73 334h2v1h-2zM142 456h1v1h-1zM124 371h1v2h-1zM65 455h1v2h-1zM106 479h1v1h-1zM151 407h1v1h-1zM102 458h2v2h-2zM186 386h1v2h-1zM156 477h1v2h-1zM130 424h2v1h-2zM229 344h2v2h-2zM229 349h1v1h-1zM172 328h2v1h-2zM228 453h2v1h-2zM177 363h1v1h-1zM76 475h1v2h-1zM160 368h1v2h-1zM168 484h1v2h-1zM176 375h1v1h-1zM98 349h1v2h-1zM203 351h1v1h-1zM235 479h2v1h-2zM90 405h1v1h-1zM232 383h1v1h-1zM210 316h1v1h-1zM105 350h2v1h-2zM111 324h2v1h-2zM218 400h1v1h-1zM100 353h2v2h-2zM132 475h1v1h-1zM233 324h2v1h-2zM175 322h1v1h-1zM190 427h1v2h-1zM141 338h1v1h-1zM121 450h1v1h-1zM211 468h1v2h-1zM166 449h2v2h-2zM224 319h1v1h-1zM144 316h1v1h-1zM161 434h1v1h-1zM160 385h1v1h-1zM117 337h1v1h-1zM183 398h2v1h-2zM74 388h1v1h-1zM199 461h1v2h-1zM98 409h1v1h-1zM216 368h1v1h-1zM92 320h1v2h-1zM107 330h1v1h-1zM184 475h1v1h-1zM70 348h1v1h-1zM127 381h1v2h-1zM107 352h2v1h-2zM114 349h1v1h-1zM107 329h1v1h-1zM163 459h1v1h-1zM173 402h2v1h-2zM133 342h1v2h-1zM170 418h1v1h-1zM111 394h1v1h-1zM206 384h1v2h-1zM233 382h1v2h-1zM100 401h1v1h-1zM232 400h1v2h-1zM209 358h1v1h-1zM235 407h1v1h-1zM87 421h2v1h-2zM91 347h1v1h-1zM176 328h1v2h-1zM167 427h1v1h-1zM124 450h1v1h-1zM181 318h1v1h-1zM119 330h2v1h-2zM188 337h1v1h-1zM215 323h2v1h-2zM65 350h1v1h-1zM111 327h2v2h-2zM223 388h1v1h-1zM137 349h1v1h-1zM209 327h1v1h-1zM228 337h1v1h-1zM138 400h2v2h-2zM122 481h2v1h-2zM185 344h1v1h-1zM221 425h1v2h-1zM235 338h1v2h-1zM233 442h1v2h-1zM144 424h1v2h-1zM238 472h2v1h-2zM157 396h1v1h-1zM196 387h1v1h-1zM192 324h1v1h-1zM111 358h1v1h-1zM132 447h2v1h-2zM243 451h2v1h-2zM106 387h1v1h-1zM105 477h1v1h-1zM154 421h1v1h-1zM155 346h1v1h-1zM87 450h1v1h-1zM130 339h1v2h-1zM233 347h2v1h-2zM133 455h1v2h-1zM112 405h2v1h-2zM166 441h1v1h-1zM235 358h2v1h-2zM226 486h1v2h-1zM235 390h2v1h-2zM71 411h1v1h-1zM175 468h1v1h-1zM212 474h2v1h-2zM115 323h1v1h-1zM93 458h1v1h-1zM111 474h1v1h-1zM72 323h1v1h-1zM110 349h1v2h-1zM210 329h2v1h-2zM151 377h1v1h-1zM180 319h1v1h-1zM118 332h1v1h-1zM167 324h2v1h-2zM101 404h1v2h-1zM236 463h1v2h-1zM82 402h2v1h-2zM92 401h1v1h-1zM86 391h2v1h-2zM70 476h1v2h-1zM207 320h1v1h-1zM118 379h2v1h-2zM70 430h1v1h-1zM108 409h1v1h-1zM75 349h2v1h-2zM97 416h2v1h-2zM234 406h1v2h-1zM72 362h1v1h-1zM235 385h1v1h-1zM156 362h1v1h-1zM192 481h1v2h-1zM153 411h2v1h-2zM242 481h2v1h-2zM191 395h1v1h-1zM150 381h1v1h-1zM97 474h1v1h-1zM81 421h2v2h-2zM159 386h1v2h-1zM141 346h1v1h-1zM188 372h2v1h-2zM115 390h1v2h-1zM210 409h2v2h-2zM93 473h1v2h-1zM75 437h1v1h-1zM129 353h1v1h-1zM95 420h1v1h-1zM109 460h1v1h-1zM118 347h2v1h-2zM99 436h1v1h-1zM148 380h2v1h-2zM184 432h2v1h-2zM98 352h2v1h-2zM101 355h2v2h-2zM179 328h2v1h-2zM125 440h1v2h-1zM181 335h1v1h-1zM112 421h1v1h-1zM174 386h2v2h-2zM150 380h1v1h-1zM131 383h1v1h-1zM175 374h1v2h-1zM221 405h1v1h-1zM184 317h1v1h-1zM125 339h1v1h-1zM136 434h1v1h-1zM172 457h2v1h-2zM124 415h1v2h-1zM76 465h2v1h-2zM162 462h2v2h-2zM164 482h1v1h-1zM173 479h1v1h-1zM67 335h1v1h-1zM115 357h1v2h-1zM130 404h1v1h-1zM128 423h1v1h-1zM180 361h2v2h-2zM104 403h1v1h-1zM207 377h1v1h-1zM98 326h1v1h-1zM93 323h1v2h-1zM214 439h1v1h-1zM183 397h1v1h-1zM97 404h1v1h-1zM197 432h2v1h-2zM154 472h1v2h-1zM212 322h1v1h-1zM90 446h2v2h-2zM169 441h1v1h-1zM185 384h2v2h-2zM160 434h1v1h-1zM158 328h2v1h-2zM195 472h2v1h-2zM101 317h1v2h-1zM185 346h1v1h-1zM121 433h2v1h-2zM124 352h1v2h-1zM227 385h2v1h-2zM121 446h1v1h-1zM220 415h2v1h-2zM156 430h1v1h-1zM227 447h1v1h-1zM122 488h1v2h-1zM122 425h2v2h-2zM145 374h1v2h-1zM93 436h1v2h-1zM121 419h2v2h-2zM76 458h1v1h-1zM193 433h1v1h-1zM70 424h1v1h-1zM128 364h1v1h-1zM222 375h1v1h-1zM224 408h1v1h-1zM199 485h2v2h-2zM234 408h1v1h-1zM80 450h1v1h-1zM119 462h2v1h-2zM110 419h1v1h-1zM138 436h1v2h-1zM244 447h1v1h-1zM72 320h1v1h-1zM161 463h2v1h-2zM106 394h2v1h-2zM104 477h1v1h-1zM164 479h2v1h-2zM227 340h2v1h-2zM233 410h1v2h-1zM63 458h2v1h-2zM229 352h1v2h-1zM173 344h1v1h-1zM147 420h2v1h-2zM118 432h2v1h-2zM86 390h2v1h-2zM111 470h1v2h-1zM175 330h1v1h-1zM183 425h2v1h-2zM82 442h1v1h-1zM108 372h1v2h-1zM125 456h1v1h-1zM146 320h1v2h-1zM235 401h1v1h-1zM67 417h1v2h-1zM141 430h1v2h-1zM234 344h2v2h-2zM70 337h1v1h-1zM84 334h1v1h-1zM110 319h2v2h-2zM82 391h2v1h-2zM109 481h1v1h-1zM128 382h1v1h-1zM145 466h1v1h-1zM165 332h2v1h-2zM101 469h2v1h-2zM173 437h1v1h-1zM166 392h2v1h-2zM212 423h1v1h-1zM85 317h1v1h-1zM207 367h1v1h-1zM138 356h2v2h-2zM73 350h2v1h-2zM121 486h2v1h-2zM128 316h1v2h-1zM234 472h1v1h-1zM182 383h1v2h-1zM73 395h1v1h-1zM82 460h2v1h-2zM121 385h2v1h-2zM209 393h1v1h-1zM192 401h2v1h-2z"/><path fill="#90ff66" d="M10 0C10.1 4.2 10.3 18.2 10.7 25C11.1 31.8 11.4 36 12.5 41C13.6 46.1 15.4 51.1 17.1 55.3C18.8 59.5 21 62.4 22.9 66C24.8 69.6 26.2 73.7 28.6 76.7C31 79.7 34.6 82.2 37.1 83.9C39.6 85.6 41.3 86.8 43.6 86.7C45.9 86.6 48.6 85 50.7 83.1C52.8 81.2 54.8 78.2 56.4 75.3C58 72.5 59.2 69.3 60 66C60.8 62.7 61.1 58.7 61.4 55.3C61.7 51.9 61.9 47.1 62 45.5L85 45.5L85 0Z"/><path fill="#90ff66" d="M366 0C366.3 2.6 368.3 11.7 367.6 15.7C366.9 19.7 364.1 21.4 362 24C359.9 26.6 357.2 28.9 355 31.4C352.8 34 350.8 35.9 348.7 39.3C346.6 42.7 344.2 48 342.4 51.9C340.6 55.8 339.8 59.2 337.7 62.9C335.6 66.6 332.5 70.8 329.9 73.9C327.3 77 324.9 79.3 322 81.7C319.1 84 316.3 85.9 312.6 88C308.9 90.1 304.7 92.5 300 94.3C295.3 96.1 289 99 284.3 99C279.6 99 276.4 97.2 271.7 94.3C267 91.4 259.4 85.6 256 81.7C252.6 77.8 252.6 74.8 251.3 70.7C250.1 66.6 249.1 61.2 248.5 57C247.9 52.8 247.7 47.4 247.5 45.5L225 45.5L225 0Z"/><path fill="#a7ff50" d="M21.1 0C21.3 4.2 21.1 18.2 22.1 25C23.1 31.8 25.5 36.5 27.1 41C28.7 45.4 30 48.7 31.4 51.7C32.8 54.7 34.1 56.8 35.7 58.9C37.2 61.1 39 63.1 40.7 64.6C42.4 66.1 43.9 67.7 45.7 67.8C47.5 67.9 49.5 66.8 51.4 65.3C53.3 63.8 55.7 61.2 57.1 58.9C58.5 56.6 59.2 53.9 60 51.7C60.8 49.5 61.7 46.5 62 45.5L85 45.5L85 0Z"/><path fill="#a7ff50" d="M318.1 0C317.2 2.6 315 10.5 312.6 15.7C310.2 20.9 306.5 26.2 303.9 31.4C301.3 36.6 300.2 42.4 296.9 47.1C293.6 51.8 288.5 56.5 284.3 59.7C280.1 62.8 275.1 64.6 271.7 66C268.3 67.4 266.6 68.5 264 68C261.4 67.5 258.4 65.4 256 62.9C253.6 60.4 250.9 55.9 249.5 53C248.1 50.1 247.8 46.8 247.5 45.5L225 45.5L225 0Z"/><path fill="#baff3c" d="M30 0C30.2 4.2 30.2 18.2 31.4 25C32.6 31.8 35.6 37.2 37.1 41C38.6 44.8 39.4 45.9 40.7 48.1C42 50.2 43.6 52.3 45 53.9C46.4 55.5 47.6 57.2 49.3 57.4C51 57.6 53.4 56.4 55 55.3C56.6 54.2 57.4 52.6 58.6 51C59.8 49.4 61.4 46.4 62 45.5L85 45.5L85 0Z"/><path fill="#baff3c" d="M292.3 0C291.3 4.3 288.9 19.3 286.3 25.7C283.7 32.1 279.9 34.9 276.9 38.6C273.8 42.3 271.1 45.4 268 48C264.9 50.6 260.8 53.4 258 54C255.2 54.6 252.8 52.9 251 51.5C249.2 50.1 248.1 46.5 247.5 45.5L225 45.5L225 0Z"/><path fill="#d1ff26" d="M37.9 0C38.1 4.2 38.1 18.2 39.3 25C40.5 31.8 43.6 37.4 45 41C46.4 44.6 46.8 44.9 47.9 46.7C49 48.5 50 51.2 51.4 51.7C52.8 52.2 54.6 50.6 56.4 49.6C58.2 48.6 61.1 46.2 62 45.5L85 45.5L85 0Z"/><path fill="#d1ff26" d="M279.9 0C279.2 4.3 277.9 19.3 276 25.7C274.1 32.1 271 35.2 268.3 38.6C265.6 42 262.7 44.4 260 46C257.3 47.6 254.1 48.1 252 48C249.9 47.9 248.2 45.9 247.5 45.5L225 45.5L225 0Z"/><path fill="#e4ff13" d="M45 0C45.2 4.2 45.3 18.2 46.4 25C47.5 31.8 50 37.2 51.4 41C52.8 44.8 53.7 47 55 48.1C56.3 49.2 57.8 47.9 59 47.5C60.2 47.1 61.5 45.8 62 45.5L85 45.5L85 0Z"/><path fill="#e4ff13" d="M270.4 0C270 4.3 269.6 19.3 268.3 25.7C267 32.1 264.7 35.4 262.3 38.6C259.9 41.8 256.5 43.8 254 45C251.5 46.2 248.6 45.4 247.5 45.5L225 45.5L225 0Z"/><path fill="#fbf100" d="M50 0C50.1 4.2 49.6 17.8 50.7 25C51.8 32.2 54.9 39.5 56.4 43C57.9 46.5 58.6 45.8 59.5 46.2C60.4 46.6 61.6 45.6 62 45.5L85 45.5L85 0Z"/><path fill="#fbf100" d="M262.7 0C262.5 4.3 262.5 19.3 261.4 25.7C260.3 32.1 258.2 35.5 256.3 38.6C254.4 41.7 251.5 43.3 250 44.5C248.5 45.7 247.9 45.3 247.5 45.5L225 45.5L225 0Z"/><path fill="#ffdb00" d="M55.7 0C55.8 4.2 55.8 18.2 56.4 25C57 31.8 58.4 37.6 59.3 41C60.2 44.4 61.6 44.8 62 45.5L85 45.5L85 0Z"/><path fill="#ffdb00" d="M255.9 0C255.9 4.3 256.6 19.2 255.9 25.7C255.2 32.2 252.9 35.7 251.5 39C250.1 42.3 248.2 44.4 247.5 45.5L225 45.5L225 0Z"/><path fill="#ffc100" d="M60.2 0C60.2 4.2 59.9 18.3 60 25C60.1 31.7 60.7 36.6 61 40C61.3 43.4 61.8 44.6 62 45.5L85 45.5L85 0Z"/><path fill="#ffc100" d="M249.9 0C250.1 4.3 251.2 19.4 251.1 25.7C251 32 249.6 34.7 249 38C248.4 41.3 247.8 44.2 247.5 45.5L225 45.5L225 0Z"/><path fill="#ffa700" d="M69 0C68.3 2.7 66.2 10.8 65 16C63.8 21.2 62.5 26.1 62 31C61.5 35.9 62 43.1 62 45.5L247.5 45.5C247.2 43.9 247.1 38.8 246 36C244.9 33.2 242.8 31.5 241 29C239.2 26.5 236.7 23.3 235 21C233.3 18.7 231.2 17.2 231 15C230.8 12.8 232.3 10.5 234 8C235.7 5.5 239.8 1.3 241 0Z"/><path fill="#ffc100" d="M180.8 15C181.1 14.7 182.5 18.7 183.3 19.2C184.1 19.7 184.7 18.6 185.8 17.9C186.9 17.2 188.8 15.9 190 15C191.2 14.1 192.2 13.2 193.3 12.5C194.4 11.8 195.6 11.2 196.7 10.8C197.8 10.4 198.9 10.7 200 10C201.1 9.3 202.5 6.8 203.3 6.7C204.1 6.6 204.2 9.5 205 9.2C205.8 8.9 207.5 5.2 208.3 5C209.1 4.8 209.4 7 210 8.3C210.6 9.5 211.1 10.4 211.7 12.5C212.2 14.6 213 18.3 213.3 20.8C213.6 23.3 213.9 25.8 213.3 27.5C212.8 29.2 211.7 29.8 210 30.8C208.3 31.8 205.5 32.8 203.3 33.3C201.1 33.8 198.9 34.1 196.7 33.8C194.5 33.5 191.7 32.8 190 31.7C188.3 30.7 187.8 28.6 186.7 27.5C185.6 26.4 184.1 26.1 183.3 25C182.5 23.9 182.1 22.5 181.7 20.8C181.3 19.1 180.5 15.3 180.8 15Z"/><path fill="#ffc100" d="M214 8.5C214.5 7.7 216.8 7.3 218 7.5C219.2 7.7 220.8 8.7 221 9.5C221.2 10.3 220 12 219 12.5C218 13 215.8 13.2 215 12.5C214.2 11.8 213.5 9.3 214 8.5Z"/><path fill="#ff9100" d="M62 25C62.9 24.3 65.9 21.7 67.5 20.8C69.1 19.9 68.9 19.4 71.7 19.6C74.4 19.8 80.5 21.3 84 21.7C87.5 22.1 90.4 22 92.5 21.7C94.6 21.4 94.6 19.6 96.7 20C98.8 20.4 102.2 22.8 105 24.2C107.8 25.6 110.5 27.2 113.3 28.3C116.1 29.4 118.9 29.8 121.7 30.8C124.5 31.8 127.2 33.1 130 34.2C132.8 35.3 134.1 36.7 138.3 37.5C142.5 38.3 150.1 38.7 155 39.2C159.9 39.7 163.8 40 168 40.5C172.2 41 174.7 42 180 42.5C185.3 43 194.2 43.6 200 43.5C205.8 43.4 210.8 42.8 215 42C219.2 41.2 222 40.2 225 39C228 37.8 230.8 36.1 233 35C235.2 33.9 236.2 32.8 238 32.5C239.8 32.2 242.4 32.2 244 33C245.6 33.8 246.9 36.3 247.5 37L247.5 45.5L62 45.5Z"/><path fill="#ff7700" d="M62 35C62.9 34.2 65.2 30.7 67.5 30C69.8 29.3 73 30 75.8 30.8C78.6 31.6 81.4 33.8 84.2 35C87 36.2 89 37.9 92.5 38.3C96 38.7 101.2 37.3 105 37.5C108.8 37.7 111.7 38.8 115 39.5C118.3 40.2 122 40.9 125 41.5C128 42.1 130.5 42.5 133 43C135.5 43.5 137.2 43.8 140 44.2C142.8 44.6 148.3 45.1 150 45.3L62 45.3Z"/><path fill="#ff7700" d="M222 45.3C223 45 226 44.1 228 43.5C230 42.9 232.3 42.2 234 41.5C235.7 40.8 236.5 40.2 238 39.5C239.5 38.8 241.4 37.1 243 37C244.6 36.9 246.8 38.7 247.5 39L247.5 45.3Z"/><path fill="#ff7700" d="M135.5 42.5C135.5 42.7 135.2 43 134.8 43.2C134.4 43.4 133.6 43.5 133 43.5C132.4 43.5 131.6 43.4 131.2 43.2C130.8 43 130.5 42.7 130.5 42.5C130.5 42.3 130.8 42 131.2 41.8C131.6 41.6 132.4 41.5 133 41.5C133.6 41.5 134.4 41.6 134.8 41.8C135.2 42 135.5 42.3 135.5 42.5Z"/><path fill="#ff7700" d="M163 43.8C163 44 162.6 44.3 162.1 44.5C161.6 44.7 160.7 44.8 160 44.8C159.3 44.8 158.4 44.7 157.9 44.5C157.4 44.3 157 44 157 43.8C157 43.6 157.4 43.3 157.9 43.1C158.4 42.9 159.3 42.8 160 42.8C160.7 42.8 161.6 42.9 162.1 43.1C162.6 43.3 163 43.6 163 43.8Z"/><path fill="#ff7700" d="M182 44C182 44.2 181.7 44.5 181.4 44.6C181.1 44.8 180.5 44.9 180 44.9C179.5 44.9 178.9 44.8 178.6 44.6C178.3 44.5 178 44.2 178 44C178 43.8 178.3 43.5 178.6 43.4C178.9 43.2 179.5 43.1 180 43.1C180.5 43.1 181.1 43.2 181.4 43.4C181.7 43.5 182 43.8 182 44Z"/><path fill="#ff7700" d="M202.5 43.7C202.5 43.9 202.2 44.2 201.8 44.4C201.4 44.6 200.6 44.7 200 44.7C199.4 44.7 198.6 44.6 198.2 44.4C197.8 44.2 197.5 43.9 197.5 43.7C197.5 43.5 197.8 43.2 198.2 43C198.6 42.8 199.4 42.7 200 42.7C200.6 42.7 201.4 42.8 201.8 43C202.2 43.2 202.5 43.5 202.5 43.7Z"/><path fill="#ff7700" d="M215 43.5C215 43.7 214.6 44 214.1 44.2C213.6 44.4 212.7 44.5 212 44.5C211.3 44.5 210.4 44.4 209.9 44.2C209.4 44 209 43.7 209 43.5C209 43.3 209.4 43 209.9 42.8C210.4 42.6 211.3 42.5 212 42.5C212.7 42.5 213.6 42.6 214.1 42.8C214.6 43 215 43.3 215 43.5Z"/><path fill="#ff6000" d="M62 34.5C63 34.5 66 33.8 68 34.2C70 34.6 72.3 35.9 74 37C75.7 38.1 76.8 39.6 78 41C79.2 42.4 80.5 44.8 81 45.5L62 45.5Z"/><path fill="#ff4700" d="M62 37C62.8 37 65.5 36.5 67 37C68.5 37.5 69.9 38.6 71 40C72.1 41.4 73.1 44.6 73.5 45.5L62 45.5Z"/><path fill="#ff3000" d="M62 39C62.7 39 64.9 38.7 66 39.2C67.1 39.7 67.9 41 68.5 42C69.1 43 69.3 44.9 69.5 45.5L62 45.5Z"/><path fill="#e40000" d="M62 40.5C62.5 40.5 64.2 40.4 65 40.8C65.8 41.2 66.2 42.2 66.5 43C66.8 43.8 66.9 45.1 67 45.5L62 45.5Z"/><path fill="#a80000" d="M62 41.5C62.3 41.6 63.5 41.6 64 42C64.5 42.4 64.8 43.4 65 44C65.2 44.6 65 45.2 65 45.5L62 45.5Z"/><path fill="#ff6000" d="M247.5 37.5C246.8 37.7 244.4 37.8 243 38.5C241.6 39.2 240 40.3 239 41.5C238 42.7 237.3 44.8 237 45.5L247.5 45.5Z"/><path fill="#ff3000" d="M247.5 39.5C247 39.6 245.4 39.5 244.5 40C243.6 40.5 242.6 41.6 242 42.5C241.4 43.4 241.2 45 241 45.5L247.5 45.5Z"/><path fill="#e40000" d="M247.5 41C247.2 41.1 246.1 41.1 245.5 41.5C244.9 41.9 244.3 42.8 244 43.5C243.7 44.2 243.6 45.2 243.5 45.5L247.5 45.5Z"/><path fill="#fbf100" d="M62 45.2L247.5 45.2L247.5 46.2L62 46.2Z"/><path fill="#66ff90" d="M11.3 539C11.7 532.1 12.5 508 13.4 497.6C14.3 487.2 15.7 481.6 17 476.4C18.3 471.2 19.4 469.4 21.2 466.5C23 463.6 24.9 460.9 28 459C31.1 457.1 36.4 455.6 39.6 455.1C42.8 454.6 44.9 455.3 47 456C49.1 456.7 50.7 457.6 52.3 459.4C53.9 461.1 55.3 462.5 56.6 466.5C57.9 470.5 59.3 478.6 60.1 483.4C60.9 488.2 61.3 493.2 61.5 495.2L85 495.2L85 539Z"/><path fill="#66ff90" d="M247.5 495.2C247.9 492.8 249.4 487.2 250 481C250.6 474.8 250.6 463.2 251.3 457.7C252 452.2 252.8 450.4 254 448C255.2 445.6 256.7 444.9 258.5 443.3C260.3 441.7 262.2 439.5 265 438.5C267.8 437.5 271.7 436.9 275 437.1C278.3 437.4 281.6 438.3 285 440C288.4 441.7 291.3 444.9 295.5 447.4C299.7 449.9 305.6 452.6 310 455C314.4 457.4 317.8 458.6 322.2 461.8C326.6 465 332.5 469.6 336.6 474.1C340.7 478.6 343.8 482.7 346.9 488.5C350 494.3 352.4 500.7 355.1 509.1C357.9 517.5 362 534 363.4 539L225 539L225 495.2Z"/><path fill="#50ffa7" d="M21.9 539C22.4 532.1 23.5 506.9 24.8 497.6C26.1 488.3 27.8 487 29.7 483.4C31.6 479.8 33.4 477.6 36 476C38.6 474.4 42.6 473.6 45.3 473.5C48 473.4 50.1 474.3 52 475.5C53.9 476.7 55.3 478.7 56.6 480.6C57.8 482.5 58.7 484.6 59.5 487C60.3 489.4 61.2 493.8 61.5 495.2L85 495.2L85 539Z"/><path fill="#50ffa7" d="M247.5 495.2C247.9 494 248.9 491 250 488C251.1 485 252.3 479.9 254 477C255.7 474.1 257.9 472 260 470.5C262.1 469 264.2 468.2 266.7 468C269.2 467.8 272.3 468.4 275 469.5C277.7 470.6 280.4 472.6 283 474.5C285.6 476.4 288.1 478.2 290.6 480.6C293.1 483 295.6 485.3 298 489C300.4 492.7 302.8 498.5 305 503C307.2 507.5 309.4 511.8 311 516C312.6 520.2 313.5 524.2 314.5 528C315.5 531.8 316.6 537.2 317 539L225 539L225 495.2Z"/><path fill="#3cffba" d="M31.1 539C31.7 532.1 33.2 506.3 34.7 497.6C36.2 488.9 37.8 489.6 40 487C42.2 484.4 45.7 482.6 48 482C50.3 481.4 52.3 482.5 54 483.5C55.7 484.5 56.8 485.8 58 487.7C59.2 489.7 60.9 494 61.5 495.2L85 495.2L85 539Z"/><path fill="#3cffba" d="M247.5 495.2C248.1 494.5 249.8 492.5 251 491C252.2 489.5 253.1 487.2 255 486C256.9 484.8 259.8 483.6 262.3 483.6C264.8 483.6 267.6 484.4 270 486C272.4 487.6 274.8 490.2 277 493C279.2 495.8 281.4 499.4 283.1 502.9C284.9 506.4 286.2 510.3 287.5 514C288.8 517.7 289.9 521 290.6 525.2C291.4 529.4 291.8 536.7 292 539L225 539L225 495.2Z"/><path fill="#26ffd1" d="M39.6 539C40.1 532.1 41.2 505.6 42.4 497.6C43.6 489.6 45.3 492.4 47 491C48.7 489.6 50.6 489 52.3 489C54 489 55.5 490 57 491C58.5 492 60.8 494.5 61.5 495.2L85 495.2L85 539Z"/><path fill="#26ffd1" d="M247.5 495.2C248.1 494.9 249.8 494.4 251 493.5C252.2 492.6 253.2 490.2 255 490C256.8 489.8 259.8 490.8 262 492C264.2 493.2 266.2 495.2 268 497C269.8 498.8 271.3 500.1 272.7 502.9C274.1 505.7 275.5 510.3 276.5 514C277.5 517.7 278.1 521 278.7 525.2C279.3 529.4 279.8 536.7 280 539L225 539L225 495.2Z"/><path fill="#13fce4" d="M46.7 539C47 532.1 47.9 505.2 48.8 497.6C49.7 490 50.8 494.3 52 493.5C53.2 492.7 54.4 492.3 56 492.6C57.6 492.9 60.6 494.8 61.5 495.2L85 495.2L85 539Z"/><path fill="#13fce4" d="M247.5 495.2C248.2 495.2 250.2 495.5 251.5 495.5C252.8 495.5 254.2 494.6 255.5 495C256.8 495.4 258 496.7 259 498C260 499.3 260.4 500.3 261.5 503C262.6 505.7 264.1 510.3 265.5 514C266.9 517.7 268.8 521 269.7 525.2C270.6 529.4 270.8 536.7 271 539L225 539L225 495.2Z"/><path fill="#00e0fb" d="M50.9 539C51.2 533.5 51.8 513.2 52.5 506C53.2 498.8 53.5 497.8 55 496C56.5 494.2 60.4 495.3 61.5 495.2L85 495.2L85 539Z"/><path fill="#00e0fb" d="M247.5 495.2C248.2 495.7 250.6 496.2 252 498C253.4 499.8 254.8 503 256 506C257.2 509 258.4 512.3 259.3 516C260.2 519.7 261 524.2 261.5 528C262 531.8 262.2 537.2 262.3 539L225 539L225 495.2Z"/><path fill="#00c8ff" d="M54.5 539C54.7 534.3 54.9 517.7 55.5 511C56.1 504.3 57 501.6 58 499C59 496.4 60.9 495.8 61.5 495.2L85 495.2L85 539Z"/><path fill="#00c8ff" d="M247.5 495.2C247.9 496 249.2 497.4 250 500C250.8 502.6 251.8 506.7 252.5 511C253.2 515.3 253.9 521.3 254.3 526C254.7 530.7 254.8 536.8 254.9 539L225 539L225 495.2Z"/><path fill="#00acff" d="M59.4 539C59.4 535.2 59.3 522.3 59.5 516C59.7 509.7 60.2 504.5 60.5 501C60.8 497.5 61.3 496.2 61.5 495.2L85 495.2L85 539Z"/><path fill="#00acff" d="M247.5 495.2C247.7 497 248.3 498.7 248.5 506C248.7 513.3 248.8 533.5 248.9 539L225 539L225 495.2Z"/><path fill="#0090ff" d="M61 495.2L247.5 495.2C247.6 497 248.8 502.5 248 506C247.2 509.5 244.4 512.7 243 516C241.6 519.3 240.3 522.2 239.5 526C238.7 529.8 238.2 536.8 238 539L61 539Z"/><path fill="#0078ff" d="M61 495.2L61 519C62.1 519.2 64.3 519.5 67.5 520C70.7 520.5 75.8 521.8 80 521.8C84.2 521.8 89 521.2 92.5 520.2C96 519.2 97.3 517.5 100.8 516C104.3 514.5 109.1 512.2 113.3 511C117.5 509.8 122.3 509.3 125.8 508.5C129.3 507.7 130.7 506.7 134.2 506C137.7 505.3 143.2 504.6 146.7 504.3C150.2 504 153.1 504.4 155 504C156.9 503.6 156.3 502.7 158 501.8C159.7 500.9 163 499.3 165 498.5C167 497.7 165.8 497.3 170 497C174.2 496.7 183.3 496.6 190 496.5C196.7 496.4 205.2 496.5 210 496.5C214.8 496.5 216 495.8 219 496.5C222 497.2 225.3 499.4 228 501C230.7 502.6 233 504.8 235 506C237 507.2 238.3 508.2 240 508.5C241.7 508.8 243.8 508.6 245 508C246.2 507.4 247.1 505.5 247.5 505L247.5 495.2Z"/><path fill="#005cff" d="M61 495.2L61 510C62.1 510 64.3 510.3 67.5 510.2C70.7 510.1 75.8 510.3 80 509.3C84.2 508.3 88.3 505.5 92.5 504.3C96.7 503 99.6 502.6 105 501.8C110.4 501 119.2 500 125 499.3C130.8 498.6 135 498.1 140 497.7C145 497.3 150 497.2 155 497C160 496.8 165 496.5 170 496.3C175 496.1 182.5 495.9 185 495.8Z"/><path fill="#005cff" d="M234 495.2C234.7 495.8 236.8 498 238 499C239.2 500 239.8 500.8 241 501.5C242.2 502.2 243.9 503.4 245 503.5C246.1 503.6 247.1 502.2 247.5 502L247.5 495.2Z"/><path fill="#0044ff" d="M61 495.2L61 506C62.5 505.7 67.2 505.2 70 504C72.8 502.8 76 500.5 78 499C80 497.5 81.3 495.8 82 495.2Z"/><path fill="#0044ff" d="M240 495.2C240.5 495.8 242.1 497.7 243 498.5C243.9 499.3 244.8 499.8 245.5 500C246.2 500.2 247.2 500 247.5 500L247.5 495.2Z"/><path fill="#0028ff" d="M61 495.2L61 502.5C61.8 502.3 64.5 502.2 66 501.5C67.5 500.8 68.9 499.5 70 498.5C71.1 497.5 72.1 495.8 72.5 495.2Z"/><path fill="#0010ff" d="M243.5 495.2C243.8 495.6 244.8 497 245.5 497.5C246.2 498 247.2 497.9 247.5 498L247.5 495.2Z"/><path fill="#0000ff" d="M61 495.2L61 500.5C61.6 500.3 63.5 500.1 64.5 499.5C65.5 498.9 66.4 497.7 67 497C67.6 496.3 67.8 495.5 68 495.2Z"/><path fill="#0000c8" d="M61 495.2L61 498.5C61.3 498.4 62.4 498.5 63 498C63.6 497.5 64.2 495.7 64.5 495.2Z"/><path fill="#a7ff50" d="M61 493.8L247.5 493.8L247.5 495.2L61 495.2Z"/><path fill="#00e0fb" d="M61 495.2L247.5 495.2L247.5 496.1L61 496.1Z"/><path fill="#a7ff50" d="M63 229.2C65.8 229.1 72.2 228.7 80 228.6C87.8 228.5 98.3 228.8 110 228.8C121.7 228.8 136.7 228.7 150 228.6C163.3 228.5 178 228.6 190 228.3C202 228 214.5 227.5 222 227C229.5 226.5 231 225.6 235 225.5C239 225.4 243.9 225.9 246 226.5C248.1 227.1 247.2 228.8 247.5 229.2L63 229.2Z"/><path fill="#50ffa7" d="M57 229C57.5 227.7 58.8 222.2 60 221C61.2 219.8 63 220.8 64 222C65 223.2 65.7 227 66 228L247.5 229.2L247.5 232.5C244.6 232.8 237.9 234.4 230 234.5C222.1 234.6 213.3 233.3 200 233C186.7 232.7 166.7 232.5 150 232.5C133.3 232.5 112.5 232.8 100 233C87.5 233.2 80.7 233.2 75 234C69.3 234.8 68.5 237.3 66 238C63.5 238.7 61 238 60 238Z"/><path fill="#3cffba" d="M62 229L247.5 229L247.5 231.5L62 231.5Z"/><path fill="#26ffd1" d="M62 229.4L247.5 229.4L247.5 231.2L62 231.2Z"/><path fill="#13fce4" d="M140 229.5L247.5 229.5L247.5 231.2L140 231.2Z"/><path fill="#00e0fb" d="M195 229.6L247.5 229.6L247.5 231.1L195 231.1Z"/><path fill="#00c8ff" d="M222 229.8L247.5 229.8L247.5 231L222 231Z"/><path fill="#13fce4" d="M65.5 231C65.5 231.4 65.4 231.9 65.3 232.3C65.1 232.7 64.9 233 64.6 233.3C64.4 233.6 64 233.9 63.6 234C63.3 234.2 62.9 234.3 62.5 234.3C62.1 234.3 61.7 234.2 61.4 234C61 233.9 60.6 233.6 60.4 233.3C60.1 233 59.9 232.7 59.7 232.3C59.6 231.9 59.5 231.4 59.5 231C59.5 230.6 59.6 230.1 59.7 229.7C59.9 229.3 60.1 229 60.4 228.7C60.6 228.4 61 228.1 61.4 228C61.7 227.8 62.1 227.7 62.5 227.7C62.9 227.7 63.3 227.8 63.6 228C64 228.1 64.4 228.4 64.6 228.7C64.9 229 65.1 229.3 65.3 229.7C65.4 230.1 65.5 230.6 65.5 231Z"/><path fill="#00acff" d="M64.3 231C64.3 231.3 64.3 231.5 64.2 231.8C64.1 232 63.9 232.2 63.8 232.4C63.6 232.6 63.4 232.8 63.2 232.8C63 232.9 62.7 233 62.5 233C62.3 233 62 232.9 61.8 232.8C61.6 232.8 61.4 232.6 61.2 232.4C61.1 232.2 60.9 232 60.8 231.8C60.7 231.5 60.7 231.3 60.7 231C60.7 230.7 60.7 230.5 60.8 230.2C60.9 230 61.1 229.8 61.2 229.6C61.4 229.4 61.6 229.2 61.8 229.2C62 229.1 62.3 229 62.5 229C62.7 229 63 229.1 63.2 229.2C63.4 229.2 63.6 229.4 63.8 229.6C63.9 229.8 64.1 230 64.2 230.2C64.3 230.5 64.3 230.7 64.3 231Z"/><path fill="#0078ff" d="M63.5 231C63.5 231.2 63.5 231.3 63.4 231.5C63.4 231.6 63.3 231.7 63.2 231.8C63.1 232 63 232.1 62.9 232.1C62.8 232.2 62.6 232.2 62.5 232.2C62.4 232.2 62.2 232.2 62.1 232.1C62 232.1 61.9 232 61.8 231.8C61.7 231.7 61.6 231.6 61.6 231.5C61.5 231.3 61.5 231.2 61.5 231C61.5 230.8 61.5 230.7 61.6 230.5C61.6 230.4 61.7 230.3 61.8 230.2C61.9 230 62 229.9 62.1 229.9C62.2 229.8 62.4 229.8 62.5 229.8C62.6 229.8 62.8 229.8 62.9 229.9C63 229.9 63.1 230 63.2 230.2C63.3 230.3 63.4 230.4 63.4 230.5C63.5 230.7 63.5 230.8 63.5 231Z"/><path fill="#90ff66" d="M58 302C60 301.8 61.3 300.5 70 300.5C78.7 300.5 96.7 301.8 110 302C123.3 302.2 136.7 302.2 150 302C163.3 301.8 178.3 301.4 190 301C201.7 300.6 211.7 299.7 220 299.5C228.3 299.3 235.4 299.2 240 300C244.6 300.8 246.2 303.3 247.5 304L247.5 308L58 308Z"/><path fill="#baff3c" d="M62 307.8L247.5 307.8L247.5 312.2L62 312.2Z"/><path fill="#66ff90" d="M62 312.2L247.5 312.2L247.5 314.2L62 314.2Z"/><path fill="#e4ff13" d="M64 308.7L247.5 308.7L247.5 311.4L64 311.4Z"/><path fill="#fbf100" d="M150 309L247.5 309L247.5 311.1L150 311.1Z"/><path fill="#ffdb00" d="M195 309.1L247.5 309.1L247.5 311L195 311Z"/><path fill="#ffc100" d="M218 309.2L247.5 309.2L247.5 310.9L218 310.9Z"/><path fill="#ffa700" d="M233 309.3L247.5 309.3L247.5 310.8L233 310.8Z"/><path fill="#baff3c" d="M67 309C67 309.7 66.9 310.5 66.7 311.1C66.4 311.8 66.1 312.4 65.7 312.9C65.3 313.4 64.8 313.8 64.2 314.1C63.7 314.3 63.1 314.5 62.5 314.5C61.9 314.5 61.3 314.3 60.8 314.1C60.2 313.8 59.7 313.4 59.3 312.9C58.9 312.4 58.6 311.8 58.3 311.1C58.1 310.5 58 309.7 58 309C58 308.3 58.1 307.5 58.3 306.9C58.6 306.2 58.9 305.6 59.3 305.1C59.7 304.6 60.2 304.2 60.8 303.9C61.3 303.7 61.9 303.5 62.5 303.5C63.1 303.5 63.7 303.7 64.2 303.9C64.8 304.2 65.3 304.6 65.7 305.1C66.1 305.6 66.4 306.2 66.7 306.9C66.9 307.5 67 308.3 67 309Z"/><path fill="#ffdb00" d="M65.5 309C65.5 309.5 65.4 310 65.3 310.4C65.1 310.8 64.9 311.2 64.6 311.5C64.4 311.9 64 312.2 63.6 312.3C63.3 312.5 62.9 312.6 62.5 312.6C62.1 312.6 61.7 312.5 61.4 312.3C61 312.2 60.6 311.9 60.4 311.5C60.1 311.2 59.9 310.8 59.7 310.4C59.6 310 59.5 309.5 59.5 309C59.5 308.5 59.6 308 59.7 307.6C59.9 307.2 60.1 306.8 60.4 306.5C60.6 306.1 61 305.8 61.4 305.7C61.7 305.5 62.1 305.4 62.5 305.4C62.9 305.4 63.3 305.5 63.6 305.7C64 305.8 64.4 306.1 64.6 306.5C64.9 306.8 65.1 307.2 65.3 307.6C65.4 308 65.5 308.5 65.5 309Z"/><path fill="#ff7700" d="M64.4 309C64.4 309.3 64.3 309.7 64.3 310C64.2 310.3 64 310.5 63.8 310.8C63.7 311 63.5 311.2 63.2 311.3C63 311.4 62.7 311.5 62.5 311.5C62.3 311.5 62 311.4 61.8 311.3C61.5 311.2 61.3 311 61.2 310.8C61 310.5 60.8 310.3 60.7 310C60.7 309.7 60.6 309.3 60.6 309C60.6 308.7 60.7 308.3 60.7 308C60.8 307.7 61 307.5 61.2 307.2C61.3 307 61.5 306.8 61.8 306.7C62 306.6 62.3 306.5 62.5 306.5C62.7 306.5 63 306.6 63.2 306.7C63.5 306.8 63.7 307 63.8 307.2C64 307.5 64.2 307.7 64.3 308C64.3 308.3 64.4 308.7 64.4 309Z"/><path fill="#ff9100" d="M248.8 310C248.8 310.3 248.8 310.6 248.7 310.9C248.6 311.2 248.4 311.5 248.3 311.7C248.1 311.9 247.9 312.1 247.7 312.2C247.5 312.3 247.2 312.4 247 312.4C246.8 312.4 246.5 312.3 246.3 312.2C246.1 312.1 245.9 311.9 245.7 311.7C245.6 311.5 245.4 311.2 245.3 310.9C245.2 310.6 245.2 310.3 245.2 310C245.2 309.7 245.2 309.4 245.3 309.1C245.4 308.8 245.6 308.5 245.7 308.3C245.9 308.1 246.1 307.9 246.3 307.8C246.5 307.7 246.8 307.6 247 307.6C247.2 307.6 247.5 307.7 247.7 307.8C247.9 307.9 248.1 308.1 248.3 308.3C248.4 308.5 248.6 308.8 248.7 309.1C248.8 309.4 248.8 309.7 248.8 310Z"/><path fill="#90ff66" d="M12 216C13.3 212.3 17 212.5 20 212C23 211.5 26.7 212.2 30 213C33.3 213.8 37 216 40 217C43 218 45.5 218.2 48 219C50.5 219.8 53.3 220 55 222C56.7 224 57.7 227 58 231C58.3 235 57.8 241.5 57 246C56.2 250.5 55.3 255 53 258C50.7 261 46.8 263.2 43 264C39.2 264.8 33.5 264.3 30 263C26.5 261.7 24.3 258.8 22 256C19.7 253.2 17.7 249.7 16 246C14.3 242.3 12.7 239 12 234C11.3 229 10.7 219.7 12 216Z"/><path fill="#a7ff50" d="M26 230C27.2 227.8 31 227.5 34 227.5C37 227.5 40.8 228.9 44 230C47.2 231.1 51 232.2 53 234C55 235.8 56 238.7 56 241C56 243.3 55 246.5 53 248C51 249.5 47.2 250.2 44 250C40.8 249.8 36.8 248.5 34 247C31.2 245.5 28.3 243.8 27 241C25.7 238.2 24.8 232.2 26 230Z"/><path fill="#66ff90" d="M16 314C16.3 311.2 18.3 307 20 304C21.7 301 23.5 298.7 26 296C28.5 293.3 31.8 289.9 35 288C38.2 286.1 42 284.8 45 284.5C48 284.2 51.2 284.4 53 286C54.8 287.6 55.8 291 56 294C56.2 297 55.3 301 54 304C52.7 307 50.7 309.5 48 312C45.3 314.5 41.7 317.2 38 319C34.3 320.8 29.3 322.7 26 323C22.7 323.3 19.7 322.5 18 321C16.3 319.5 15.7 316.8 16 314Z"/><path fill="#50ffa7" d="M35 297C35.7 295 39.5 293.5 42 293C44.5 292.5 48.2 292.8 50 294C51.8 295.2 53.5 298.2 53 300C52.5 301.8 49.5 304.2 47 305C44.5 305.8 40 306.3 38 305C36 303.7 34.3 299 35 297Z"/><path fill="#66ff90" d="M32 186C33.2 185.2 37.5 184.8 40 185C42.5 185.2 46 185.8 47 187C48 188.2 47.5 191 46 192C44.5 193 40.2 193.3 38 193C35.8 192.7 34 191.2 33 190C32 188.8 30.8 186.8 32 186Z"/><path fill="#66ff90" d="M31.5 112C35.1 110.7 41.6 111.2 45 111.5C48.4 111.8 50.2 112.4 52 114C53.8 115.6 55.1 115.7 55.8 121C56.5 126.3 56.2 138.2 56.2 146C56.2 153.8 56.2 162.4 55.8 168C55.4 173.6 55 176.1 53.5 179.4C52 182.7 49.6 186.1 47 188C44.4 189.9 40.8 190.8 38 191C35.2 191.2 32.4 190.4 30 189.5C27.6 188.6 26 187.4 23.6 185.7C21.2 184 17.8 182.3 15.7 179.4C13.6 176.4 12.4 171.9 11 168C9.6 164.1 8.5 160.5 7.5 156C6.5 151.5 5.2 145.3 5 141C4.8 136.7 4.2 132.8 6 130C7.8 127.2 12.8 126 15.7 124.3C18.6 122.6 21 121.7 23.6 119.6C26.2 117.5 27.9 113.3 31.5 112Z"/><path fill="#90ff66" d="M2 368C4 361.2 8.3 361.8 13 360C17.7 358.2 24.3 357 30 357C35.7 357 42.7 357.5 47 360C51.3 362.5 54.3 366.3 56 372C57.7 377.7 57.2 387 57 394C56.8 401 56.2 408.8 55 414C53.8 419.2 52.8 422.5 50 425C47.2 427.5 43 428.5 38 429C33 429.5 25.3 429 20 428C14.7 427 9.2 427.5 6 423C2.8 418.5 1.7 410.2 1 401C0.3 391.8 0 374.8 2 368Z"/></svg><rect x="150.5" y="84.5" width="744" height="539" fill="none" stroke="#000" stroke-width="1.1"/><path d="M212.50 623.5v4.86 M336.50 623.5v4.86 M460.50 623.5v4.86 M584.50 623.5v4.86 M708.50 623.5v4.86 M832.50 623.5v4.86 M150.5 129.50h-4.86 M150.5 241.50h-4.86 M150.5 354.50h-4.86 M150.5 466.50h-4.86 M150.5 578.50h-4.86" stroke="#000" stroke-width="1.1" fill="none"/><text class="s" font-size="30.00" x="215.00" y="0"  transform="translate(0 654.70) scale(0.9537 1)">0</text><text class="s" font-size="30.00" x="334.12 352.88" y="0"  transform="translate(0 654.70) scale(0.9537 1)">10</text><text class="s" font-size="30.00" x="464.03 482.90" y="0"  transform="translate(0 654.70) scale(0.9537 1)">20</text><text class="s" font-size="30.00" x="594.66 611.87" y="0"  transform="translate(0 654.70) scale(0.9537 1)">30</text><text class="s" font-size="30.00" x="725.21 742.94" y="0"  transform="translate(0 654.70) scale(0.9537 1)">40</text><text class="s" font-size="30.00" x="854.11 871.91" y="0"  transform="translate(0 654.70) scale(0.9537 1)">50</text><text class="s" font-size="30.00" x="110.78 129.54" y="0"  transform="translate(0 139.70) scale(0.9537 1)">10</text><text class="s" font-size="30.00" x="129.57" y="0"  transform="translate(0 251.60) scale(0.9537 1)">5</text><text class="s" font-size="30.00" x="130.06" y="0"  transform="translate(0 363.60) scale(0.9537 1)">0</text><text class="s" font-size="30.00" x="84.89" y="0"  transform="translate(0 477.86) scale(1.1852 1)">−</text><text class="s" font-size="30.00" x="129.05" y="0"  transform="translate(0 476.60) scale(0.9537 1)">5</text><text class="s" font-size="30.00" x="70.54" y="0"  transform="translate(0 589.86) scale(1.1852 1)">−</text><text class="s" font-size="30.00" x="111.31 129.54" y="0"  transform="translate(0 588.60) scale(0.9537 1)">10</text><text class="s" font-size="22.50" x="1025.20 1037.57 1051.19 1058.55 1072.70" y="0"  transform="translate(0 91.80) scale(0.9537 1)">18.99</text><text class="s" font-size="22.50" x="1026.04 1038.60 1046.03 1059.59" y="0"  transform="translate(0 226.80) scale(0.9537 1)">9.49</text><text class="s" font-size="22.50" x="1026.04 1038.60 1045.96 1059.59" y="0"  transform="translate(0 361.80) scale(0.9537 1)">0.00</text><text class="s" font-size="22.50" x="825.36" y="0"  transform="translate(0 496.74) scale(1.1852 1)">−</text><text class="s" font-size="22.50" x="1042.82 1056.43 1063.33 1077.42" y="0"  transform="translate(0 495.80) scale(0.9537 1)">9.49</text><text class="s" font-size="22.50" x="825.36" y="0"  transform="translate(0 631.74) scale(1.1852 1)">−</text><text class="s" font-size="22.50" x="1042.50 1056.44 1070.06 1077.42 1091.05" y="0"  transform="translate(0 630.80) scale(0.9537 1)">18.99</text><text class="m" font-size="28.61" x="296.28 313.68" y="0"  transform="translate(0 75.45) scale(0.9709 1)">ez</text><text class="m" font-size="29.45" x="340.40" y="0"  transform="translate(0 79.95) scale(0.9434 1)">_</text><text class="m" font-size="28.61" x="347.31 365.27 382.55 401.35 416.32 434.02 451.56 468.60 486.01 502.59 520.20 537.76" y="0"  transform="translate(0 75.45) scale(0.9709 1)">averaged at </text><text class="m" font-size="30.56" x="592.65 611.08 629.63 648.03 666.48 684.81 703.35 721.78 740.02 758.49 776.99" y="0"  transform="translate(0 75.45) scale(0.9091 1)">330.094457 </text><text class="m" font-size="28.61" x="744.94 762.16" y="0"  transform="translate(0 75.45) scale(0.9709 1)">fs</text><text class="m" font-size="30.56" x="515.53" y="0"  transform="translate(0 689.60) scale(0.9091 1)">X</text><text class="m" font-size="26.59" x="566.45" y="0"  transform="translate(0 687.75) scale(0.8882 1)">[</text><text class="i" font-size="28.89" x="490.88 507.45" y="0"  transform="translate(0 689.80) scale(1.0577 1)">μm</text><text class="m" font-size="26.59" x="635.26" y="0"  transform="translate(0 687.75) scale(0.8882 1)">]</text><text class="m" font-size="30.56" x="-446.96" y="0"  transform="translate(66.80 0) rotate(-90) scale(0.9091 1)">Z</text><text class="m" font-size="26.59" x="-419.82" y="0"  transform="translate(64.95 0) rotate(-90) scale(0.8882 1)">[</text><text class="i" font-size="28.89" x="-337.34 -320.77" y="0"  transform="translate(66.80 0) rotate(-90) scale(1.0577 1)">μm</text><text class="m" font-size="26.59" x="-351.01" y="0"  transform="translate(64.95 0) rotate(-90) scale(0.8882 1)">]</text><g shape-rendering="crispEdges"><rect x="940.5" y="609.179" width="26.95" height="14.121" fill="#00008d"/><rect x="940.5" y="595.359" width="26.95" height="14.121" fill="#0000a8"/><rect x="940.5" y="581.538" width="26.95" height="14.121" fill="#0000c8"/><rect x="940.5" y="567.718" width="26.95" height="14.121" fill="#0000e3"/><rect x="940.5" y="553.897" width="26.95" height="14.121" fill="#0000ff"/><rect x="940.5" y="540.077" width="26.95" height="14.121" fill="#0010ff"/><rect x="940.5" y="526.256" width="26.95" height="14.121" fill="#0028ff"/><rect x="940.5" y="512.436" width="26.95" height="14.121" fill="#0044ff"/><rect x="940.5" y="498.615" width="26.95" height="14.121" fill="#005cff"/><rect x="940.5" y="484.795" width="26.95" height="14.121" fill="#0078ff"/><rect x="940.5" y="470.974" width="26.95" height="14.121" fill="#0090ff"/><rect x="940.5" y="457.154" width="26.95" height="14.121" fill="#00acff"/><rect x="940.5" y="443.333" width="26.95" height="14.121" fill="#00c8ff"/><rect x="940.5" y="429.513" width="26.95" height="14.121" fill="#00e0fb"/><rect x="940.5" y="415.692" width="26.95" height="14.121" fill="#13fce4"/><rect x="940.5" y="401.872" width="26.95" height="14.121" fill="#26ffd1"/><rect x="940.5" y="388.051" width="26.95" height="14.121" fill="#3cffba"/><rect x="940.5" y="374.231" width="26.95" height="14.121" fill="#50ffa7"/><rect x="940.5" y="360.410" width="26.95" height="14.121" fill="#66ff90"/><rect x="940.5" y="346.590" width="26.95" height="14.121" fill="#7dff7a"/><rect x="940.5" y="332.769" width="26.95" height="14.121" fill="#90ff66"/><rect x="940.5" y="318.949" width="26.95" height="14.121" fill="#a7ff50"/><rect x="940.5" y="305.128" width="26.95" height="14.121" fill="#baff3c"/><rect x="940.5" y="291.308" width="26.95" height="14.121" fill="#d1ff26"/><rect x="940.5" y="277.487" width="26.95" height="14.121" fill="#e4ff13"/><rect x="940.5" y="263.667" width="26.95" height="14.121" fill="#fbf100"/><rect x="940.5" y="249.846" width="26.95" height="14.121" fill="#ffdb00"/><rect x="940.5" y="236.026" width="26.95" height="14.121" fill="#ffc100"/><rect x="940.5" y="222.205" width="26.95" height="14.121" fill="#ffa700"/><rect x="940.5" y="208.385" width="26.95" height="14.121" fill="#ff9100"/><rect x="940.5" y="194.564" width="26.95" height="14.121" fill="#ff7700"/><rect x="940.5" y="180.744" width="26.95" height="14.121" fill="#ff6000"/><rect x="940.5" y="166.923" width="26.95" height="14.121" fill="#ff4700"/><rect x="940.5" y="153.103" width="26.95" height="14.121" fill="#ff3000"/><rect x="940.5" y="139.282" width="26.95" height="14.121" fill="#ff1600"/><rect x="940.5" y="125.462" width="26.95" height="14.121" fill="#e40000"/><rect x="940.5" y="111.641" width="26.95" height="14.121" fill="#c80000"/><rect x="940.5" y="97.821" width="26.95" height="14.121" fill="#a80000"/><rect x="940.5" y="84.000" width="26.95" height="14.121" fill="#8d0000"/></g><rect x="941.5" y="84.5" width="26" height="539" fill="none" stroke="#000" stroke-width="1.1"/><path d="M967.5 84.50h4.86 M967.5 219.50h4.86 M967.5 354.50h4.86 M967.5 488.50h4.86 M967.5 623.50h4.86" stroke="#000" stroke-width="1.1" fill="none"/><text class="m" font-size="30.56" x="-620.14" y="0"  transform="translate(1080.55 0) rotate(-90) scale(0.9091 1)">N</text><text class="m" font-size="28.61" x="-563.42 -544.60 -528.81 -512.37 -495.77 -477.19 -459.75 -442.64 -425.60 -408.19 -390.88 -375.00 -356.38 -338.86 -322.23 -303.07 -287.41 -269.85 -252.92 -235.52 -218.40 -201.10 -185.23 -166.81" y="0"  transform="translate(1080.55 0) rotate(-90) scale(0.9709 1)">ormalized electric field</text></svg></body></html>
